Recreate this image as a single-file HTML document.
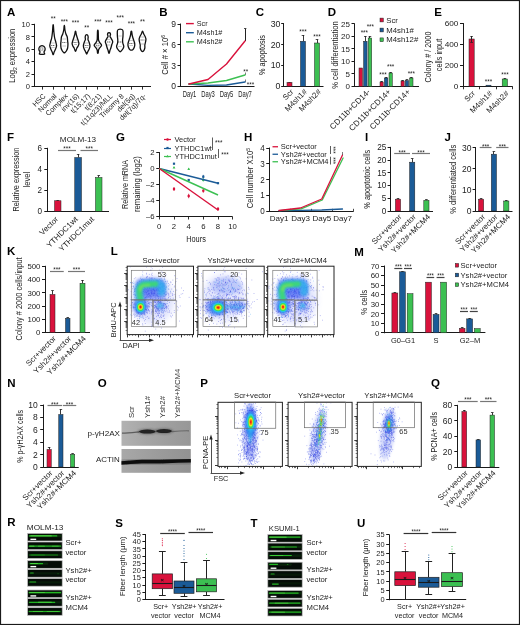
<!DOCTYPE html>
<html lang="en"><head><meta charset="utf-8"><title>Figure</title>
<style>
html,body{margin:0;padding:0;background:#fff;}
body{width:520px;height:625px;overflow:hidden;font-family:"Liberation Sans",sans-serif;}
svg{display:block;font-family:"Liberation Sans",sans-serif;}
</style></head><body>
<svg width="520" height="625" viewBox="0 0 520 625">
<rect x="0.5" y="0.5" width="519" height="624" fill="#fff" stroke="#1a1a1a" stroke-width="1.2"/>
<text transform="translate(7,16.3)" font-size="11.5" text-anchor="start" font-weight="bold" fill="#000" >A</text>
<line x1="34.5" y1="23.8" x2="34.5" y2="86.95" stroke="#1a1a1a" stroke-width="1.0" />
<line x1="31.5" y1="24.5" x2="34.5" y2="24.5" stroke="#1a1a1a" stroke-width="1.0" />
<text transform="translate(29.9,27.13) scale(0.95,1)" font-size="8" text-anchor="end" fill="#1c1c1c" >10</text>
<line x1="31.5" y1="36.5" x2="34.5" y2="36.5" stroke="#1a1a1a" stroke-width="1.0" />
<text transform="translate(29.9,39.58) scale(0.95,1)" font-size="8" text-anchor="end" fill="#1c1c1c" >8</text>
<line x1="31.5" y1="49.5" x2="34.5" y2="49.5" stroke="#1a1a1a" stroke-width="1.0" />
<text transform="translate(29.9,52.03) scale(0.95,1)" font-size="8" text-anchor="end" fill="#1c1c1c" >6</text>
<line x1="31.5" y1="61.5" x2="34.5" y2="61.5" stroke="#1a1a1a" stroke-width="1.0" />
<text transform="translate(29.9,64.48) scale(0.95,1)" font-size="8" text-anchor="end" fill="#1c1c1c" >4</text>
<line x1="31.5" y1="74.5" x2="34.5" y2="74.5" stroke="#1a1a1a" stroke-width="1.0" />
<text transform="translate(29.9,76.93) scale(0.95,1)" font-size="8" text-anchor="end" fill="#1c1c1c" >2</text>
<line x1="31.5" y1="86.5" x2="34.5" y2="86.5" stroke="#1a1a1a" stroke-width="1.0" />
<text transform="translate(29.9,89.38) scale(0.95,1)" font-size="8" text-anchor="end" fill="#1c1c1c" >0</text>
<line x1="34.05" y1="86.5" x2="151" y2="86.5" stroke="#1a1a1a" stroke-width="1.0" />
<text transform="translate(14.9,55.7) rotate(-90) scale(0.84,1)" font-size="9" text-anchor="middle" fill="#222">Log<tspan font-size="6" dy="1.6">2</tspan><tspan dy="-1.6"> expression</tspan></text>
<line x1="42.5" y1="86.5" x2="42.5" y2="89.6" stroke="#1a1a1a" stroke-width="0.9" />
<text transform="translate(46,96.6) rotate(-45) scale(0.97,1)" font-size="7.3" text-anchor="end" fill="#1c1c1c" >HSC</text>
<line x1="53.5" y1="86.5" x2="53.5" y2="89.6" stroke="#1a1a1a" stroke-width="0.9" />
<text transform="translate(57.17,96.6) rotate(-45) scale(0.97,1)" font-size="7.3" text-anchor="end" fill="#1c1c1c" >Normal</text>
<line x1="64.5" y1="86.5" x2="64.5" y2="89.6" stroke="#1a1a1a" stroke-width="0.9" />
<text transform="translate(68.34,96.6) rotate(-45) scale(0.97,1)" font-size="7.3" text-anchor="end" fill="#1c1c1c" >Complex</text>
<line x1="75.5" y1="86.5" x2="75.5" y2="89.6" stroke="#1a1a1a" stroke-width="0.9" />
<text transform="translate(79.51,96.6) rotate(-45) scale(0.97,1)" font-size="7.3" text-anchor="end" fill="#1c1c1c" >inv(16)</text>
<line x1="86.5" y1="86.5" x2="86.5" y2="89.6" stroke="#1a1a1a" stroke-width="0.9" />
<text transform="translate(90.68,96.6) rotate(-45) scale(0.97,1)" font-size="7.3" text-anchor="end" fill="#1c1c1c" >t(15;17)</text>
<line x1="97.5" y1="86.5" x2="97.5" y2="89.6" stroke="#1a1a1a" stroke-width="0.9" />
<text transform="translate(101.85,96.6) rotate(-45) scale(0.97,1)" font-size="7.3" text-anchor="end" fill="#1c1c1c" >t(8;21)</text>
<line x1="109.5" y1="86.5" x2="109.5" y2="89.6" stroke="#1a1a1a" stroke-width="0.9" />
<text transform="translate(113.02,96.6) rotate(-45) scale(0.97,1)" font-size="7.3" text-anchor="end" fill="#1c1c1c" >t(11q23)/MLL</text>
<line x1="120.5" y1="86.5" x2="120.5" y2="89.6" stroke="#1a1a1a" stroke-width="0.9" />
<text transform="translate(124.19,96.6) rotate(-45) scale(0.97,1)" font-size="7.3" text-anchor="end" fill="#1c1c1c" >Trisomy 8</text>
<line x1="131.5" y1="86.5" x2="131.5" y2="89.6" stroke="#1a1a1a" stroke-width="0.9" />
<text transform="translate(135.36,96.6) rotate(-45) scale(0.97,1)" font-size="7.3" text-anchor="end" fill="#1c1c1c" >del(5q)</text>
<line x1="142.5" y1="86.5" x2="142.5" y2="89.6" stroke="#1a1a1a" stroke-width="0.9" />
<text transform="translate(146.53,96.6) rotate(-45) scale(0.97,1)" font-size="7.3" text-anchor="end" fill="#1c1c1c" >del(7q)/7q-</text>
<path d="M41.2 45.8C40.67 45.97 39.98 46.35 39.6 46.8C39.22 47.25 38.98 47.92 38.9 48.5C38.82 49.08 38.92 49.75 39.1 50.3C39.28 50.85 39.92 51.32 40 51.8C40.08 52.28 39.65 52.8 39.6 53.2C39.55 53.6 38.92 54.03 39.7 54.2C40.48 54.37 43.52 54.37 44.3 54.2C45.08 54.03 44.45 53.6 44.4 53.2C44.35 52.8 43.92 52.28 44 51.8C44.08 51.32 44.72 50.85 44.9 50.3C45.08 49.75 45.18 49.08 45.1 48.5C45.02 47.92 44.78 47.25 44.4 46.8C44.02 46.35 43.33 45.97 42.8 45.8C42.27 45.63 41.73 45.63 41.2 45.8Z" fill="#fff" stroke="#111" stroke-width="1.3" stroke-linejoin="round"/>
<line x1="40" y1="49" x2="44" y2="49" stroke="#222" stroke-width="0.7" stroke-dasharray="1.2 0.6"/>
<line x1="40.4" y1="50.5" x2="43.6" y2="50.5" stroke="#333" stroke-width="0.55" stroke-dasharray="0.6 0.5"/>
<line x1="40.4" y1="47.5" x2="43.6" y2="47.5" stroke="#333" stroke-width="0.55" stroke-dasharray="0.6 0.5"/>
<path d="M52.97 25.5C52.82 26.58 52.69 29.92 52.47 32C52.25 34.08 51.99 36.33 51.67 38C51.35 39.67 50.89 40.72 50.57 42C50.25 43.28 49.74 44.53 49.77 45.7C49.8 46.87 50.37 47.95 50.77 49C51.17 50.05 51.8 51.1 52.17 52C52.54 52.9 52.77 54 52.97 54.4C53.17 54.8 53.17 54.8 53.37 54.4C53.57 54 53.8 52.9 54.17 52C54.54 51.1 55.17 50.05 55.57 49C55.97 47.95 56.54 46.87 56.57 45.7C56.6 44.53 56.09 43.28 55.77 42C55.45 40.72 54.99 39.67 54.67 38C54.35 36.33 54.09 34.08 53.87 32C53.65 29.92 53.52 26.58 53.37 25.5C53.22 24.42 53.12 24.42 52.97 25.5Z" fill="#fff" stroke="#111" stroke-width="1.3" stroke-linejoin="round"/>
<line x1="51.17" y1="45.5" x2="55.17" y2="45.5" stroke="#222" stroke-width="0.7" stroke-dasharray="1.2 0.6"/>
<line x1="51.57" y1="47.5" x2="54.77" y2="47.5" stroke="#333" stroke-width="0.55" stroke-dasharray="0.6 0.5"/>
<line x1="51.57" y1="43" x2="54.77" y2="43" stroke="#333" stroke-width="0.55" stroke-dasharray="0.6 0.5"/>
<path d="M64.14 26C64.01 26.67 63.97 28.67 63.74 30C63.51 31.33 63.12 32.83 62.74 34C62.36 35.17 61.72 35.83 61.44 37C61.16 38.17 61.16 39.83 61.04 41C60.92 42.17 60.74 42.83 60.74 44C60.74 45.17 60.77 46.83 61.04 48C61.31 49.17 61.87 50.23 62.34 51C62.81 51.77 63.42 52.33 63.84 52.6C64.26 52.87 64.42 52.87 64.84 52.6C65.26 52.33 65.87 51.77 66.34 51C66.81 50.23 67.37 49.17 67.64 48C67.91 46.83 67.94 45.17 67.94 44C67.94 42.83 67.76 42.17 67.64 41C67.52 39.83 67.52 38.17 67.24 37C66.96 35.83 66.32 35.17 65.94 34C65.56 32.83 65.17 31.33 64.94 30C64.71 28.67 64.67 26.67 64.54 26C64.41 25.33 64.27 25.33 64.14 26Z" fill="#fff" stroke="#111" stroke-width="1.3" stroke-linejoin="round"/>
<line x1="62.34" y1="42.5" x2="66.34" y2="42.5" stroke="#222" stroke-width="0.7" stroke-dasharray="1.2 0.6"/>
<line x1="62.74" y1="46" x2="65.94" y2="46" stroke="#333" stroke-width="0.55" stroke-dasharray="0.6 0.5"/>
<line x1="62.74" y1="39" x2="65.94" y2="39" stroke="#333" stroke-width="0.55" stroke-dasharray="0.6 0.5"/>
<path d="M75.31 31.5C75.13 32.08 74.88 33.92 74.61 35C74.34 36.08 74.03 37 73.71 38C73.39 39 72.98 40.08 72.71 41C72.44 41.92 72.09 42.67 72.11 43.5C72.13 44.33 72.48 45.25 72.81 46C73.14 46.75 73.71 47.17 74.11 48C74.51 48.83 74.93 50.5 75.21 51C75.49 51.5 75.53 51.5 75.81 51C76.09 50.5 76.51 48.83 76.91 48C77.31 47.17 77.88 46.75 78.21 46C78.54 45.25 78.89 44.33 78.91 43.5C78.93 42.67 78.58 41.92 78.31 41C78.04 40.08 77.63 39 77.31 38C76.99 37 76.68 36.08 76.41 35C76.14 33.92 75.89 32.08 75.71 31.5C75.53 30.92 75.49 30.92 75.31 31.5Z" fill="#fff" stroke="#111" stroke-width="1.3" stroke-linejoin="round"/>
<line x1="73.51" y1="42.5" x2="77.51" y2="42.5" stroke="#222" stroke-width="0.7" stroke-dasharray="1.2 0.6"/>
<line x1="73.91" y1="44.5" x2="77.11" y2="44.5" stroke="#333" stroke-width="0.55" stroke-dasharray="0.6 0.5"/>
<line x1="73.91" y1="40" x2="77.11" y2="40" stroke="#333" stroke-width="0.55" stroke-dasharray="0.6 0.5"/>
<path d="M85.88 35C85.5 35.33 85.26 36.25 85.18 37C85.1 37.75 85.51 38.67 85.38 39.5C85.25 40.33 84.71 40.97 84.38 42C84.05 43.03 83.41 44.53 83.38 45.7C83.35 46.87 83.83 48.03 84.18 49C84.53 49.97 85.1 50.72 85.48 51.5C85.86 52.28 86.25 53.33 86.48 53.7C86.71 54.07 86.65 54.07 86.88 53.7C87.11 53.33 87.5 52.28 87.88 51.5C88.26 50.72 88.83 49.97 89.18 49C89.53 48.03 90.01 46.87 89.98 45.7C89.95 44.53 89.31 43.03 88.98 42C88.65 40.97 88.11 40.33 87.98 39.5C87.85 38.67 88.26 37.75 88.18 37C88.1 36.25 87.86 35.33 87.48 35C87.1 34.67 86.26 34.67 85.88 35Z" fill="#fff" stroke="#111" stroke-width="1.3" stroke-linejoin="round"/>
<line x1="84.68" y1="45.5" x2="88.68" y2="45.5" stroke="#222" stroke-width="0.7" stroke-dasharray="1.2 0.6"/>
<line x1="85.08" y1="47.5" x2="88.28" y2="47.5" stroke="#333" stroke-width="0.55" stroke-dasharray="0.6 0.5"/>
<line x1="85.08" y1="43" x2="88.28" y2="43" stroke="#333" stroke-width="0.55" stroke-dasharray="0.6 0.5"/>
<path d="M97.55 30.9C97.42 31.75 97.42 34.48 97.35 36C97.28 37.52 97.37 38.92 97.15 40C96.93 41.08 96.55 41.62 96.05 42.5C95.55 43.38 94.15 44.38 94.15 45.3C94.15 46.22 95.55 47.22 96.05 48C96.55 48.78 96.9 49.17 97.15 50C97.4 50.83 97.38 52.5 97.55 53C97.72 53.5 97.98 53.5 98.15 53C98.32 52.5 98.3 50.83 98.55 50C98.8 49.17 99.15 48.78 99.65 48C100.15 47.22 101.55 46.22 101.55 45.3C101.55 44.38 100.15 43.38 99.65 42.5C99.15 41.62 98.77 41.08 98.55 40C98.33 38.92 98.42 37.52 98.35 36C98.28 34.48 98.28 31.75 98.15 30.9C98.02 30.05 97.68 30.05 97.55 30.9Z" fill="#fff" stroke="#111" stroke-width="1.3" stroke-linejoin="round"/>
<line x1="95.85" y1="45.3" x2="99.85" y2="45.3" stroke="#222" stroke-width="0.7" stroke-dasharray="1.2 0.6"/>
<line x1="96.25" y1="47" x2="99.45" y2="47" stroke="#333" stroke-width="0.55" stroke-dasharray="0.6 0.5"/>
<line x1="96.25" y1="43.5" x2="99.45" y2="43.5" stroke="#333" stroke-width="0.55" stroke-dasharray="0.6 0.5"/>
<path d="M108.22 32.9C107.84 33.17 107.55 33.93 107.52 34.5C107.49 35.07 108.14 35.63 108.02 36.3C107.9 36.97 107.27 37.62 106.82 38.5C106.37 39.38 105.42 40.6 105.32 41.6C105.22 42.6 105.94 43.52 106.22 44.5C106.5 45.48 106.7 46.5 107.02 47.5C107.34 48.5 107.84 49.58 108.12 50.5C108.4 51.42 108.52 52.58 108.72 53C108.92 53.42 109.12 53.42 109.32 53C109.52 52.58 109.64 51.42 109.92 50.5C110.2 49.58 110.7 48.5 111.02 47.5C111.34 46.5 111.54 45.48 111.82 44.5C112.1 43.52 112.82 42.6 112.72 41.6C112.62 40.6 111.67 39.38 111.22 38.5C110.77 37.62 110.14 36.97 110.02 36.3C109.9 35.63 110.55 35.07 110.52 34.5C110.49 33.93 110.2 33.17 109.82 32.9C109.44 32.63 108.6 32.63 108.22 32.9Z" fill="#fff" stroke="#111" stroke-width="1.3" stroke-linejoin="round"/>
<line x1="107.02" y1="42" x2="111.02" y2="42" stroke="#222" stroke-width="0.7" stroke-dasharray="1.2 0.6"/>
<line x1="107.42" y1="45" x2="110.62" y2="45" stroke="#333" stroke-width="0.55" stroke-dasharray="0.6 0.5"/>
<line x1="107.42" y1="39.5" x2="110.62" y2="39.5" stroke="#333" stroke-width="0.55" stroke-dasharray="0.6 0.5"/>
<path d="M118.39 29.5C117.62 29.75 117.56 29.92 117.39 31C117.22 32.08 117.32 34.5 117.39 36C117.46 37.5 117.76 38.83 117.79 40C117.82 41.17 117.79 41.92 117.59 43C117.39 44.08 116.59 45.5 116.59 46.5C116.59 47.5 117.07 48.17 117.59 49C118.11 49.83 119.17 51.08 119.69 51.5C120.21 51.92 120.17 51.92 120.69 51.5C121.21 51.08 122.27 49.83 122.79 49C123.31 48.17 123.79 47.5 123.79 46.5C123.79 45.5 122.99 44.08 122.79 43C122.59 41.92 122.56 41.17 122.59 40C122.62 38.83 122.92 37.5 122.99 36C123.06 34.5 123.16 32.08 122.99 31C122.82 29.92 122.76 29.75 121.99 29.5C121.22 29.25 119.16 29.25 118.39 29.5Z" fill="#fff" stroke="#111" stroke-width="1.3" stroke-linejoin="round"/>
<line x1="118.19" y1="42" x2="122.19" y2="42" stroke="#222" stroke-width="0.7" stroke-dasharray="1.2 0.6"/>
<line x1="118.59" y1="46.5" x2="121.79" y2="46.5" stroke="#333" stroke-width="0.55" stroke-dasharray="0.6 0.5"/>
<line x1="118.59" y1="36" x2="121.79" y2="36" stroke="#333" stroke-width="0.55" stroke-dasharray="0.6 0.5"/>
<path d="M131.06 31.5C130.88 32.08 130.78 33.92 130.56 35C130.34 36.08 130.06 37 129.76 38C129.46 39 129.06 40 128.76 41C128.46 42 128.03 43 127.96 44C127.89 45 128.03 46.05 128.36 47C128.69 47.95 129.23 49.25 129.96 49.7C130.69 50.15 132.03 50.15 132.76 49.7C133.49 49.25 134.03 47.95 134.36 47C134.69 46.05 134.83 45 134.76 44C134.69 43 134.26 42 133.96 41C133.66 40 133.26 39 132.96 38C132.66 37 132.38 36.08 132.16 35C131.94 33.92 131.84 32.08 131.66 31.5C131.48 30.92 131.24 30.92 131.06 31.5Z" fill="#fff" stroke="#111" stroke-width="1.3" stroke-linejoin="round"/>
<line x1="129.36" y1="43.5" x2="133.36" y2="43.5" stroke="#222" stroke-width="0.7" stroke-dasharray="1.2 0.6"/>
<line x1="129.76" y1="45.5" x2="132.96" y2="45.5" stroke="#333" stroke-width="0.55" stroke-dasharray="0.6 0.5"/>
<line x1="129.76" y1="40.5" x2="132.96" y2="40.5" stroke="#333" stroke-width="0.55" stroke-dasharray="0.6 0.5"/>
<path d="M142.23 31.5C141.98 31.92 141.71 33.17 141.33 34C140.95 34.83 140.3 35.67 139.93 36.5C139.56 37.33 139.2 38.08 139.13 39C139.06 39.92 139.35 41 139.53 42C139.71 43 140.11 44 140.23 45C140.35 46 140.01 47 140.23 48C140.45 49 140.98 50.5 141.53 51C142.08 51.5 142.98 51.5 143.53 51C144.08 50.5 144.61 49 144.83 48C145.05 47 144.71 46 144.83 45C144.95 44 145.35 43 145.53 42C145.71 41 146 39.92 145.93 39C145.86 38.08 145.5 37.33 145.13 36.5C144.76 35.67 144.11 34.83 143.73 34C143.35 33.17 143.08 31.92 142.83 31.5C142.58 31.08 142.48 31.08 142.23 31.5Z" fill="#fff" stroke="#111" stroke-width="1.3" stroke-linejoin="round"/>
<line x1="140.53" y1="40" x2="144.53" y2="40" stroke="#222" stroke-width="0.7" stroke-dasharray="1.2 0.6"/>
<line x1="140.93" y1="44" x2="144.13" y2="44" stroke="#333" stroke-width="0.55" stroke-dasharray="0.6 0.5"/>
<line x1="140.93" y1="37" x2="144.13" y2="37" stroke="#333" stroke-width="0.55" stroke-dasharray="0.6 0.5"/>
<text transform="translate(53.17,21.41) scale(0.9,1)" font-size="7" text-anchor="middle" fill="#222" >**</text>
<text transform="translate(64.34,24.01) scale(0.9,1)" font-size="7" text-anchor="middle" fill="#222" >***</text>
<text transform="translate(75.51,25.21) scale(0.9,1)" font-size="7" text-anchor="middle" fill="#222" >***</text>
<text transform="translate(86.68,30.21) scale(0.9,1)" font-size="7" text-anchor="middle" fill="#222" >**</text>
<text transform="translate(97.85,24.01) scale(0.9,1)" font-size="7" text-anchor="middle" fill="#222" >***</text>
<text transform="translate(109.02,25.21) scale(0.9,1)" font-size="7" text-anchor="middle" fill="#222" >***</text>
<text transform="translate(120.19,20.31) scale(0.9,1)" font-size="7" text-anchor="middle" fill="#222" >***</text>
<text transform="translate(131.36,25.71) scale(0.9,1)" font-size="7" text-anchor="middle" fill="#222" >***</text>
<text transform="translate(142.53,23.81) scale(0.9,1)" font-size="7" text-anchor="middle" fill="#222" >**</text>
<text transform="translate(159.3,16.3)" font-size="11.5" text-anchor="start" font-weight="bold" fill="#000" >B</text>
<line x1="180.5" y1="23.55" x2="180.5" y2="86.45" stroke="#1a1a1a" stroke-width="1.0" />
<line x1="177.5" y1="24.5" x2="180.5" y2="24.5" stroke="#1a1a1a" stroke-width="1.0" />
<text transform="translate(175.9,27.24) scale(0.95,1)" font-size="9" text-anchor="end" fill="#1c1c1c" >9</text>
<line x1="177.5" y1="44.5" x2="180.5" y2="44.5" stroke="#1a1a1a" stroke-width="1.0" />
<text transform="translate(175.9,47.84) scale(0.95,1)" font-size="9" text-anchor="end" fill="#1c1c1c" >6</text>
<line x1="177.5" y1="65.5" x2="180.5" y2="65.5" stroke="#1a1a1a" stroke-width="1.0" />
<text transform="translate(175.9,68.54) scale(0.95,1)" font-size="9" text-anchor="end" fill="#1c1c1c" >3</text>
<line x1="177.5" y1="86.5" x2="180.5" y2="86.5" stroke="#1a1a1a" stroke-width="1.0" />
<text transform="translate(175.9,89.24) scale(0.95,1)" font-size="9" text-anchor="end" fill="#1c1c1c" >0</text>
<line x1="180.05" y1="86.5" x2="254.5" y2="86.5" stroke="#1a1a1a" stroke-width="1.0" />
<text transform="translate(167.8,54.8) rotate(-90) scale(0.86,1)" font-size="9" text-anchor="middle" fill="#222">Cell # × 10<tspan font-size="6" dy="-3">6</tspan></text>
<text transform="translate(189.5,96.5) scale(0.68,1)" font-size="8.6" text-anchor="middle" fill="#1c1c1c" >Day1</text>
<text transform="translate(208,96.5) scale(0.68,1)" font-size="8.6" text-anchor="middle" fill="#1c1c1c" >Day3</text>
<text transform="translate(226.5,96.5) scale(0.68,1)" font-size="8.6" text-anchor="middle" fill="#1c1c1c" >Day5</text>
<text transform="translate(245,96.5) scale(0.68,1)" font-size="8.6" text-anchor="middle" fill="#1c1c1c" >Day7</text>
<line x1="245.5" y1="28.7" x2="245.5" y2="41" stroke="#222" stroke-width="1.0" />
<line x1="244" y1="28.5" x2="246.4" y2="28.5" stroke="#222" stroke-width="0.8" />
<line x1="245.5" y1="72.5" x2="245.5" y2="75" stroke="#444" stroke-width="0.7" />
<line x1="245.5" y1="79.5" x2="245.5" y2="82" stroke="#444" stroke-width="0.7" />
<polyline points="189,84 208,85.4 226.5,85 245,82" fill="none" stroke="#1b5b97" stroke-width="1.4" stroke-linejoin="round" stroke-linecap="round"/>
<polyline points="189,84 208,83 226.5,80.5 245,75" fill="none" stroke="#3cc052" stroke-width="1.4" stroke-linejoin="round" stroke-linecap="round"/>
<polyline points="189,84 208,79.5 226.5,64 245,41" fill="none" stroke="#d9123c" stroke-width="1.4" stroke-linejoin="round" stroke-linecap="round"/>
<text transform="translate(245.8,74.31) scale(0.9,1)" font-size="7" text-anchor="middle" fill="#222" >**</text>
<text transform="translate(250.5,87.31) scale(0.9,1)" font-size="7" text-anchor="middle" fill="#222" >***</text>
<line x1="186" y1="23.6" x2="193.8" y2="23.6" stroke="#d9123c" stroke-width="1.4" />
<text transform="translate(196.8,26.19)" font-size="7.2" text-anchor="start" fill="#1c1c1c" >Scr</text>
<line x1="186" y1="32.7" x2="193.8" y2="32.7" stroke="#1b5b97" stroke-width="1.4" />
<text transform="translate(196.8,35.29)" font-size="7.2" text-anchor="start" fill="#1c1c1c" >M4sh1#</text>
<line x1="186" y1="41.8" x2="193.8" y2="41.8" stroke="#3cc052" stroke-width="1.4" />
<text transform="translate(196.8,44.39)" font-size="7.2" text-anchor="start" fill="#1c1c1c" >M4sh2#</text>
<text transform="translate(255.8,16.3)" font-size="11.5" text-anchor="start" font-weight="bold" fill="#000" >C</text>
<line x1="283.5" y1="23.05" x2="283.5" y2="86.7" stroke="#1a1a1a" stroke-width="1.0" />
<line x1="281.2" y1="23.5" x2="283.4" y2="23.5" stroke="#1a1a1a" stroke-width="1.0" />
<text transform="translate(280.4,26.6) scale(1.02,1)" font-size="8.6" text-anchor="end" fill="#1c1c1c" >30</text>
<line x1="281.2" y1="44.5" x2="283.4" y2="44.5" stroke="#1a1a1a" stroke-width="1.0" />
<text transform="translate(280.4,47.5) scale(1.02,1)" font-size="8.6" text-anchor="end" fill="#1c1c1c" >20</text>
<line x1="281.2" y1="65.5" x2="283.4" y2="65.5" stroke="#1a1a1a" stroke-width="1.0" />
<text transform="translate(280.4,68.4) scale(1.02,1)" font-size="8.6" text-anchor="end" fill="#1c1c1c" >10</text>
<line x1="281.2" y1="86.5" x2="283.4" y2="86.5" stroke="#1a1a1a" stroke-width="1.0" />
<text transform="translate(280.4,89.35) scale(1.02,1)" font-size="8.6" text-anchor="end" fill="#1c1c1c" >0</text>
<line x1="282.95" y1="86.5" x2="323.5" y2="86.5" stroke="#1a1a1a" stroke-width="1.0" />
<text transform="translate(265.44,55) rotate(-90) scale(0.816,1)" font-size="9" text-anchor="middle" fill="#1c1c1c" >% apoptosis</text>
<line x1="289.5" y1="82" x2="289.5" y2="82.5" stroke="#222" stroke-width="0.9" />
<line x1="288.2" y1="82.5" x2="290.8" y2="82.5" stroke="#222" stroke-width="0.8" />
<rect x="287" y="82.5" width="5" height="3.75" fill="#d9123c" stroke="#222" stroke-width="0.5" />
<line x1="303.5" y1="35" x2="303.5" y2="41.25" stroke="#222" stroke-width="0.9" />
<line x1="301.7" y1="35.5" x2="304.3" y2="35.5" stroke="#222" stroke-width="0.8" />
<rect x="300.5" y="41.25" width="5" height="45" fill="#1b5b97" stroke="#222" stroke-width="0.5" />
<line x1="317.5" y1="39.5" x2="317.5" y2="43" stroke="#222" stroke-width="0.9" />
<line x1="315.7" y1="39.5" x2="318.3" y2="39.5" stroke="#222" stroke-width="0.8" />
<rect x="314.5" y="43" width="5" height="43.25" fill="#3cc052" stroke="#222" stroke-width="0.5" />
<text transform="translate(303,33.51) scale(0.9,1)" font-size="7" text-anchor="middle" fill="#222" >***</text>
<text transform="translate(317,39.01) scale(0.9,1)" font-size="7" text-anchor="middle" fill="#222" >***</text>
<text transform="translate(294,92.3) rotate(-45)" font-size="7.8" text-anchor="end" fill="#1c1c1c" >Scr</text>
<text transform="translate(307.5,92.3) rotate(-45)" font-size="7.8" text-anchor="end" fill="#1c1c1c" >M4sh1#</text>
<text transform="translate(321.5,92.3) rotate(-45)" font-size="7.8" text-anchor="end" fill="#1c1c1c" >M4sh2#</text>
<text transform="translate(327.8,16.3)" font-size="11.5" text-anchor="start" font-weight="bold" fill="#000" >D</text>
<line x1="354.5" y1="23.3" x2="354.5" y2="86.95" stroke="#1a1a1a" stroke-width="1.0" />
<line x1="351.5" y1="23.5" x2="354.5" y2="23.5" stroke="#1a1a1a" stroke-width="1.0" />
<text transform="translate(349.9,26.63)" font-size="8" text-anchor="end" fill="#1c1c1c" >25</text>
<line x1="351.5" y1="36.5" x2="354.5" y2="36.5" stroke="#1a1a1a" stroke-width="1.0" />
<text transform="translate(349.9,39.18)" font-size="8" text-anchor="end" fill="#1c1c1c" >20</text>
<line x1="351.5" y1="48.5" x2="354.5" y2="48.5" stroke="#1a1a1a" stroke-width="1.0" />
<text transform="translate(349.9,51.73)" font-size="8" text-anchor="end" fill="#1c1c1c" >15</text>
<line x1="351.5" y1="61.5" x2="354.5" y2="61.5" stroke="#1a1a1a" stroke-width="1.0" />
<text transform="translate(349.9,64.28)" font-size="8" text-anchor="end" fill="#1c1c1c" >10</text>
<line x1="351.5" y1="73.5" x2="354.5" y2="73.5" stroke="#1a1a1a" stroke-width="1.0" />
<text transform="translate(349.9,76.83)" font-size="8" text-anchor="end" fill="#1c1c1c" >5</text>
<line x1="351.5" y1="86.5" x2="354.5" y2="86.5" stroke="#1a1a1a" stroke-width="1.0" />
<text transform="translate(349.9,89.38)" font-size="8" text-anchor="end" fill="#1c1c1c" >0</text>
<line x1="354.05" y1="86.5" x2="419" y2="86.5" stroke="#1a1a1a" stroke-width="1.0" />
<text transform="translate(337.54,55) rotate(-90) scale(0.84,1)" font-size="9" text-anchor="middle" fill="#1c1c1c" >% cell differentiation</text>
<rect x="359" y="68" width="3.5" height="18.5" fill="#d9123c" stroke="#222" stroke-width="0.5" />
<line x1="365.5" y1="36" x2="365.5" y2="41.25" stroke="#222" stroke-width="0.9" />
<line x1="364.05" y1="36.5" x2="366.65" y2="36.5" stroke="#222" stroke-width="0.8" />
<rect x="363.6" y="41.25" width="3.5" height="45.25" fill="#1b5b97" stroke="#222" stroke-width="0.5" />
<line x1="369.5" y1="36.2" x2="369.5" y2="38" stroke="#222" stroke-width="0.9" />
<line x1="368.65" y1="36.5" x2="371.25" y2="36.5" stroke="#222" stroke-width="0.8" />
<rect x="368.2" y="38" width="3.5" height="48.5" fill="#3cc052" stroke="#222" stroke-width="0.5" />
<line x1="381.5" y1="81.3" x2="381.5" y2="82" stroke="#222" stroke-width="0.9" />
<line x1="380.3" y1="81.5" x2="382.9" y2="81.5" stroke="#222" stroke-width="0.8" />
<rect x="380" y="82" width="3.2" height="4.5" fill="#d9123c" stroke="#222" stroke-width="0.5" />
<line x1="386.5" y1="77.2" x2="386.5" y2="78" stroke="#222" stroke-width="0.9" />
<line x1="384.8" y1="77.5" x2="387.4" y2="77.5" stroke="#222" stroke-width="0.8" />
<rect x="384.4" y="78" width="3.4" height="8.5" fill="#1b5b97" stroke="#222" stroke-width="0.5" />
<line x1="390.5" y1="72.3" x2="390.5" y2="73" stroke="#222" stroke-width="0.9" />
<line x1="389.35" y1="72.5" x2="391.95" y2="72.5" stroke="#222" stroke-width="0.8" />
<rect x="389" y="73" width="3.3" height="13.5" fill="#3cc052" stroke="#222" stroke-width="0.5" />
<line x1="402.5" y1="80.3" x2="402.5" y2="81" stroke="#222" stroke-width="0.9" />
<line x1="401.3" y1="80.5" x2="403.9" y2="80.5" stroke="#222" stroke-width="0.8" />
<rect x="401" y="81" width="3.2" height="5.5" fill="#d9123c" stroke="#222" stroke-width="0.5" />
<line x1="406.5" y1="79.8" x2="406.5" y2="80.5" stroke="#222" stroke-width="0.9" />
<line x1="405.65" y1="79.5" x2="408.25" y2="79.5" stroke="#222" stroke-width="0.8" />
<rect x="405.3" y="80.5" width="3.3" height="6" fill="#1b5b97" stroke="#222" stroke-width="0.5" />
<line x1="411.5" y1="77.2" x2="411.5" y2="78" stroke="#222" stroke-width="0.9" />
<line x1="410.05" y1="77.5" x2="412.65" y2="77.5" stroke="#222" stroke-width="0.8" />
<rect x="409.7" y="78" width="3.3" height="8.5" fill="#3cc052" stroke="#222" stroke-width="0.5" />
<text transform="translate(364.3,35.01) scale(0.9,1)" font-size="7" text-anchor="middle" fill="#222" >***</text>
<text transform="translate(370.3,29.01) scale(0.9,1)" font-size="7" text-anchor="middle" fill="#222" >***</text>
<text transform="translate(383,77.01) scale(0.9,1)" font-size="7" text-anchor="middle" fill="#222" >***</text>
<text transform="translate(390.6,69.01) scale(0.9,1)" font-size="7" text-anchor="middle" fill="#222" >***</text>
<text transform="translate(411.3,75.51) scale(0.9,1)" font-size="7" text-anchor="middle" fill="#222" >***</text>
<rect x="380" y="18.1" width="3.3" height="3.8" fill="#d9123c" stroke="#222" stroke-width="0.5" />
<text transform="translate(386.3,22.59) scale(1.08,1)" font-size="7.2" text-anchor="start" fill="#1c1c1c" >Scr</text>
<rect x="380" y="28.1" width="3.3" height="3.8" fill="#1b5b97" stroke="#222" stroke-width="0.5" />
<text transform="translate(386.3,32.59) scale(1.08,1)" font-size="7.2" text-anchor="start" fill="#1c1c1c" >M4sh1#</text>
<rect x="380" y="37.9" width="3.3" height="3.8" fill="#3cc052" stroke="#222" stroke-width="0.5" />
<text transform="translate(386.3,42.39) scale(1.08,1)" font-size="7.2" text-anchor="start" fill="#1c1c1c" >M4sh12#</text>
<text transform="translate(370.8,92.3) rotate(-45)" font-size="8.2" text-anchor="end" fill="#1c1c1c" >CD11b+CD14-</text>
<text transform="translate(391.5,92.3) rotate(-45)" font-size="8.2" text-anchor="end" fill="#1c1c1c" >CD11b+CD14+</text>
<text transform="translate(410.8,92.3) rotate(-45)" font-size="8.2" text-anchor="end" fill="#1c1c1c" >CD11b-CD14+</text>
<text transform="translate(434.3,16.3)" font-size="11.5" text-anchor="start" font-weight="bold" fill="#000" >E</text>
<line x1="463.5" y1="23.05" x2="463.5" y2="86.7" stroke="#1a1a1a" stroke-width="1.0" />
<line x1="460" y1="23.5" x2="463" y2="23.5" stroke="#1a1a1a" stroke-width="1.0" />
<text transform="translate(458.4,26.38) scale(1.03,1)" font-size="8" text-anchor="end" fill="#1c1c1c" >600</text>
<line x1="460" y1="44.5" x2="463" y2="44.5" stroke="#1a1a1a" stroke-width="1.0" />
<text transform="translate(458.4,47.28) scale(1.03,1)" font-size="8" text-anchor="end" fill="#1c1c1c" >400</text>
<line x1="460" y1="65.5" x2="463" y2="65.5" stroke="#1a1a1a" stroke-width="1.0" />
<text transform="translate(458.4,68.18) scale(1.03,1)" font-size="8" text-anchor="end" fill="#1c1c1c" >200</text>
<line x1="460" y1="86.5" x2="463" y2="86.5" stroke="#1a1a1a" stroke-width="1.0" />
<text transform="translate(458.4,89.13) scale(1.03,1)" font-size="8" text-anchor="end" fill="#1c1c1c" >0</text>
<line x1="462.55" y1="86.5" x2="512.5" y2="86.5" stroke="#1a1a1a" stroke-width="1.0" />
<line x1="463.5" y1="86.25" x2="463.5" y2="89.3" stroke="#1a1a1a" stroke-width="0.9" />
<line x1="479.5" y1="86.25" x2="479.5" y2="89.3" stroke="#1a1a1a" stroke-width="0.9" />
<line x1="496.5" y1="86.25" x2="496.5" y2="89.3" stroke="#1a1a1a" stroke-width="0.9" />
<line x1="512.5" y1="86.25" x2="512.5" y2="89.3" stroke="#1a1a1a" stroke-width="0.9" />
<text transform="translate(430.54,57) rotate(-90) scale(0.809,1)" font-size="9" text-anchor="middle" fill="#1c1c1c" >Colony # / 2000</text>
<text transform="translate(442.24,55) rotate(-90) scale(0.812,1)" font-size="9" text-anchor="middle" fill="#1c1c1c" >cells input</text>
<line x1="471.5" y1="36" x2="471.5" y2="39" stroke="#222" stroke-width="0.9" />
<line x1="470.3" y1="36.5" x2="472.9" y2="36.5" stroke="#222" stroke-width="0.8" />
<rect x="469" y="39" width="5.2" height="47.25" fill="#d9123c" stroke="#222" stroke-width="0.5" />
<rect x="486" y="85.2" width="5" height="1.05" fill="#1b5b97" stroke="#222" stroke-width="0.5" />
<line x1="504.5" y1="78.4" x2="504.5" y2="79" stroke="#222" stroke-width="0.9" />
<line x1="503.55" y1="78.5" x2="506.15" y2="78.5" stroke="#222" stroke-width="0.8" />
<rect x="502.2" y="79" width="5.3" height="7.25" fill="#3cc052" stroke="#222" stroke-width="0.5" />
<text transform="translate(488.5,83.51) scale(0.9,1)" font-size="7" text-anchor="middle" fill="#222" >***</text>
<text transform="translate(505,77.01) scale(0.9,1)" font-size="7" text-anchor="middle" fill="#222" >***</text>
<line x1="471.5" y1="36" x2="471.5" y2="42" stroke="#222" stroke-width="0.9" />
<line x1="470.3" y1="42.5" x2="472.9" y2="42.5" stroke="#222" stroke-width="0.8" />
<text transform="translate(475.7,94) rotate(-45)" font-size="7.8" text-anchor="end" fill="#1c1c1c" >Scr</text>
<text transform="translate(492.7,94) rotate(-45)" font-size="7.8" text-anchor="end" fill="#1c1c1c" >M4sh1#</text>
<text transform="translate(509.2,94) rotate(-45)" font-size="7.8" text-anchor="end" fill="#1c1c1c" >M4sh2#</text>
<text transform="translate(7,141.3)" font-size="11.5" text-anchor="start" font-weight="bold" fill="#000" >F</text>
<text transform="translate(78,141.88) scale(1.02,1)" font-size="8" text-anchor="middle" fill="#1c1c1c" >MOLM-13</text>
<line x1="47.5" y1="147.8" x2="47.5" y2="211.7" stroke="#1a1a1a" stroke-width="1.0" />
<line x1="44.3" y1="148.5" x2="47.3" y2="148.5" stroke="#1a1a1a" stroke-width="1.0" />
<text transform="translate(42,151.35) scale(0.95,1)" font-size="8.6" text-anchor="end" fill="#1c1c1c" >6</text>
<line x1="44.3" y1="169.5" x2="47.3" y2="169.5" stroke="#1a1a1a" stroke-width="1.0" />
<text transform="translate(42,172.35) scale(0.95,1)" font-size="8.6" text-anchor="end" fill="#1c1c1c" >4</text>
<line x1="44.3" y1="190.5" x2="47.3" y2="190.5" stroke="#1a1a1a" stroke-width="1.0" />
<text transform="translate(42,193.35) scale(0.95,1)" font-size="8.6" text-anchor="end" fill="#1c1c1c" >2</text>
<line x1="44.3" y1="211.5" x2="47.3" y2="211.5" stroke="#1a1a1a" stroke-width="1.0" />
<text transform="translate(42,214.35) scale(0.95,1)" font-size="8.6" text-anchor="end" fill="#1c1c1c" >0</text>
<line x1="46.85" y1="211.5" x2="109" y2="211.5" stroke="#1a1a1a" stroke-width="1.0" />
<text transform="translate(18.94,179.6) rotate(-90) scale(0.815,1)" font-size="9" text-anchor="middle" fill="#1c1c1c" >Relative expression</text>
<text transform="translate(30.24,179.6) rotate(-90) scale(0.864,1)" font-size="9" text-anchor="middle" fill="#1c1c1c" >level</text>
<line x1="57.5" y1="200" x2="57.5" y2="200.75" stroke="#222" stroke-width="0.9" />
<line x1="56.45" y1="200.5" x2="59.05" y2="200.5" stroke="#222" stroke-width="0.8" />
<rect x="54.5" y="200.75" width="6.5" height="10.5" fill="#d9123c" stroke="#222" stroke-width="0.5" />
<line x1="78.5" y1="154" x2="78.5" y2="157.5" stroke="#222" stroke-width="0.9" />
<line x1="76.83" y1="154.5" x2="79.42" y2="154.5" stroke="#222" stroke-width="0.8" />
<rect x="74.75" y="157.5" width="6.75" height="53.75" fill="#1b5b97" stroke="#222" stroke-width="0.5" />
<line x1="98.5" y1="175.5" x2="98.5" y2="177.5" stroke="#222" stroke-width="0.9" />
<line x1="97.45" y1="175.5" x2="100.05" y2="175.5" stroke="#222" stroke-width="0.8" />
<rect x="95.5" y="177.5" width="6.5" height="33.75" fill="#3cc052" stroke="#222" stroke-width="0.5" />
<line x1="58" y1="150.5" x2="76" y2="150.5" stroke="#777" stroke-width="1.2" />
<text transform="translate(67,151.31) scale(0.9,1)" font-size="7" text-anchor="middle" fill="#222" >***</text>
<line x1="80.5" y1="150.5" x2="98" y2="150.5" stroke="#777" stroke-width="1.2" />
<text transform="translate(89.25,151.31) scale(0.9,1)" font-size="7" text-anchor="middle" fill="#222" >***</text>
<text transform="translate(58.75,219.6) rotate(-45) scale(1.04,1)" font-size="7.8" text-anchor="end" fill="#1c1c1c" >Vector</text>
<text transform="translate(78.4,219.6) rotate(-45) scale(1.04,1)" font-size="7.8" text-anchor="end" fill="#1c1c1c" >YTHDC1wt</text>
<text transform="translate(94.5,219.6) rotate(-45) scale(1.04,1)" font-size="7.8" text-anchor="end" fill="#1c1c1c" >YTHDC1mut</text>
<text transform="translate(116,141.3)" font-size="11.5" text-anchor="start" font-weight="bold" fill="#000" >G</text>
<line x1="159.5" y1="152.05" x2="159.5" y2="216.95" stroke="#1a1a1a" stroke-width="1.0" />
<line x1="156.25" y1="152.5" x2="159.25" y2="152.5" stroke="#1a1a1a" stroke-width="1.0" />
<text transform="translate(154.65,155.38) scale(0.97,1)" font-size="8" text-anchor="end" fill="#1c1c1c" >2</text>
<line x1="156.25" y1="168.5" x2="159.25" y2="168.5" stroke="#1a1a1a" stroke-width="1.0" />
<text transform="translate(154.65,171.38) scale(0.97,1)" font-size="8" text-anchor="end" fill="#1c1c1c" >0</text>
<line x1="156.25" y1="184.5" x2="159.25" y2="184.5" stroke="#1a1a1a" stroke-width="1.0" />
<text transform="translate(154.65,187.38) scale(0.97,1)" font-size="8" text-anchor="end" fill="#1c1c1c" >–2</text>
<line x1="156.25" y1="200.5" x2="159.25" y2="200.5" stroke="#1a1a1a" stroke-width="1.0" />
<text transform="translate(154.65,203.38) scale(0.97,1)" font-size="8" text-anchor="end" fill="#1c1c1c" >–4</text>
<line x1="156.25" y1="216.5" x2="159.25" y2="216.5" stroke="#1a1a1a" stroke-width="1.0" />
<text transform="translate(154.65,219.38) scale(0.97,1)" font-size="8" text-anchor="end" fill="#1c1c1c" >–6</text>
<line x1="158.8" y1="216.5" x2="232.5" y2="216.5" stroke="#1a1a1a" stroke-width="1.0" />
<line x1="159.5" y1="216.5" x2="159.5" y2="219.5" stroke="#1a1a1a" stroke-width="0.9" />
<text transform="translate(159.25,228.88) scale(0.97,1)" font-size="8" text-anchor="middle" fill="#1c1c1c" >0</text>
<line x1="174.5" y1="216.5" x2="174.5" y2="219.5" stroke="#1a1a1a" stroke-width="0.9" />
<text transform="translate(174,228.88) scale(0.97,1)" font-size="8" text-anchor="middle" fill="#1c1c1c" >2</text>
<line x1="188.5" y1="216.5" x2="188.5" y2="219.5" stroke="#1a1a1a" stroke-width="0.9" />
<text transform="translate(188.7,228.88) scale(0.97,1)" font-size="8" text-anchor="middle" fill="#1c1c1c" >4</text>
<line x1="203.5" y1="216.5" x2="203.5" y2="219.5" stroke="#1a1a1a" stroke-width="0.9" />
<text transform="translate(203.3,228.88) scale(0.97,1)" font-size="8" text-anchor="middle" fill="#1c1c1c" >6</text>
<line x1="218.5" y1="216.5" x2="218.5" y2="219.5" stroke="#1a1a1a" stroke-width="0.9" />
<text transform="translate(218,228.88) scale(0.97,1)" font-size="8" text-anchor="middle" fill="#1c1c1c" >8</text>
<line x1="232.5" y1="216.5" x2="232.5" y2="219.5" stroke="#1a1a1a" stroke-width="0.9" />
<text transform="translate(232.5,228.88) scale(0.97,1)" font-size="8" text-anchor="middle" fill="#1c1c1c" >10</text>
<text transform="translate(196,241.54) scale(0.82,1)" font-size="9" text-anchor="middle" fill="#1c1c1c" >Hours</text>
<text transform="translate(127.54,184.5) rotate(-90) scale(0.797,1)" font-size="9" text-anchor="middle" fill="#1c1c1c" >Relative mRNA</text>
<text transform="translate(139.54,184.2) rotate(-90) scale(0.861,1)" font-size="9" text-anchor="middle" fill="#1c1c1c" >remaining (log2)</text>
<line x1="174" y1="187" x2="174" y2="191" stroke="#d9123c" stroke-width="0.9" />
<circle cx="174" cy="189" r="1.25" fill="#d9123c"/>
<line x1="188.7" y1="193.8" x2="188.7" y2="198.2" stroke="#d9123c" stroke-width="0.9" />
<circle cx="188.7" cy="196" r="1.25" fill="#d9123c"/>
<line x1="203.3" y1="188.7" x2="203.3" y2="192.7" stroke="#d9123c" stroke-width="0.9" />
<circle cx="203.3" cy="190.7" r="1.25" fill="#d9123c"/>
<line x1="218" y1="207" x2="218" y2="211" stroke="#d9123c" stroke-width="0.9" />
<circle cx="218" cy="209" r="1.25" fill="#d9123c"/>
<line x1="174" y1="163.2" x2="174" y2="164.2" stroke="#1b5b97" stroke-width="0.9" />
<rect x="172.9" y="162.6" width="2.2" height="2.2" fill="#1b5b97"/>
<line x1="188.7" y1="179.2" x2="188.7" y2="180.8" stroke="#1b5b97" stroke-width="0.9" />
<rect x="187.6" y="178.9" width="2.2" height="2.2" fill="#1b5b97"/>
<line x1="203.3" y1="174.9" x2="203.3" y2="178.5" stroke="#1b5b97" stroke-width="0.9" />
<rect x="202.2" y="175.6" width="2.2" height="2.2" fill="#1b5b97"/>
<line x1="218" y1="182.4" x2="218" y2="184" stroke="#1b5b97" stroke-width="0.9" />
<rect x="216.9" y="182.1" width="2.2" height="2.2" fill="#1b5b97"/>
<line x1="174" y1="166.9" x2="174" y2="168.1" stroke="#3cc052" stroke-width="0.9" />
<path d="M174 166L175.4 168.5L172.6 168.5Z" fill="#3cc052"/>
<line x1="188.7" y1="168.2" x2="188.7" y2="169.8" stroke="#3cc052" stroke-width="0.9" />
<path d="M188.7 167.5L190.1 170L187.3 170Z" fill="#3cc052"/>
<line x1="203.3" y1="178.5" x2="203.3" y2="181.5" stroke="#3cc052" stroke-width="0.9" />
<path d="M203.3 178.5L204.7 181L201.9 181Z" fill="#3cc052"/>
<line x1="159.25" y1="168.5" x2="218" y2="183.2" stroke="#1b5b97" stroke-width="1.4" />
<line x1="159.25" y1="168.5" x2="218" y2="195" stroke="#3cc052" stroke-width="1.4" />
<line x1="159.25" y1="168.5" x2="218" y2="210" stroke="#d9123c" stroke-width="1.4" />
<line x1="164" y1="139.5" x2="171" y2="139.5" stroke="#d9123c" stroke-width="1.2" />
<circle cx="167.5" cy="139.5" r="1.25" fill="#d9123c"/>
<text transform="translate(174.5,142.09) scale(1.04,1)" font-size="7.2" text-anchor="start" fill="#1c1c1c" >Vector</text>
<line x1="164" y1="148.5" x2="171" y2="148.5" stroke="#1b5b97" stroke-width="1.2" />
<rect x="166.4" y="146.9" width="2.2" height="2.2" fill="#1b5b97"/>
<text transform="translate(174.5,150.59) scale(1.04,1)" font-size="7.2" text-anchor="start" fill="#1c1c1c" >YTHDC1wt</text>
<line x1="164" y1="156.5" x2="171" y2="156.5" stroke="#3cc052" stroke-width="1.2" />
<path d="M167.5 154.8L168.9 157.3L166.1 157.3Z" fill="#3cc052"/>
<text transform="translate(174.5,158.89) scale(1.04,1)" font-size="7.2" text-anchor="start" fill="#1c1c1c" >YTHDC1mut</text>
<line x1="212.5" y1="137.5" x2="212.5" y2="150" stroke="#333" stroke-width="0.8" />
<text transform="translate(218.7,145.21) scale(0.9,1)" font-size="7" text-anchor="middle" fill="#222" >***</text>
<line x1="218.5" y1="149" x2="218.5" y2="158" stroke="#333" stroke-width="0.8" />
<text transform="translate(225,157.21) scale(0.9,1)" font-size="7" text-anchor="middle" fill="#222" >***</text>
<text transform="translate(244,141.3)" font-size="11.5" text-anchor="start" font-weight="bold" fill="#000" >H</text>
<line x1="269.5" y1="147.55" x2="269.5" y2="211.45" stroke="#1a1a1a" stroke-width="1.0" />
<line x1="266.25" y1="148.5" x2="269.25" y2="148.5" stroke="#1a1a1a" stroke-width="1.0" />
<text transform="translate(264.65,151.06) scale(0.95,1)" font-size="8.5" text-anchor="end" fill="#1c1c1c" >4</text>
<line x1="266.25" y1="163.5" x2="269.25" y2="163.5" stroke="#1a1a1a" stroke-width="1.0" />
<text transform="translate(264.65,166.81) scale(0.95,1)" font-size="8.5" text-anchor="end" fill="#1c1c1c" >3</text>
<line x1="266.25" y1="179.5" x2="269.25" y2="179.5" stroke="#1a1a1a" stroke-width="1.0" />
<text transform="translate(264.65,182.56) scale(0.95,1)" font-size="8.5" text-anchor="end" fill="#1c1c1c" >2</text>
<line x1="266.25" y1="195.5" x2="269.25" y2="195.5" stroke="#1a1a1a" stroke-width="1.0" />
<text transform="translate(264.65,198.31) scale(0.95,1)" font-size="8.5" text-anchor="end" fill="#1c1c1c" >1</text>
<line x1="266.25" y1="211.5" x2="269.25" y2="211.5" stroke="#1a1a1a" stroke-width="1.0" />
<text transform="translate(264.65,214.06) scale(0.95,1)" font-size="8.5" text-anchor="end" fill="#1c1c1c" >0</text>
<line x1="268.8" y1="211.5" x2="353.75" y2="211.5" stroke="#1a1a1a" stroke-width="1.0" />
<line x1="290.5" y1="211" x2="290.5" y2="208.8" stroke="#1a1a1a" stroke-width="0.8" />
<line x1="311.5" y1="211" x2="311.5" y2="208.8" stroke="#1a1a1a" stroke-width="0.8" />
<line x1="332.5" y1="211" x2="332.5" y2="208.8" stroke="#1a1a1a" stroke-width="0.8" />
<line x1="353.5" y1="211" x2="353.5" y2="208.8" stroke="#1a1a1a" stroke-width="0.8" />
<text transform="translate(253.3,178) rotate(-90) scale(0.861,1)" font-size="9" text-anchor="middle" fill="#222">Cell number X10<tspan font-size="6" dy="-3">5</tspan></text>
<text transform="translate(279,221.01) scale(1.03,1)" font-size="7.8" text-anchor="middle" fill="#1c1c1c" >Day1</text>
<text transform="translate(300.5,221.01) scale(1.03,1)" font-size="7.8" text-anchor="middle" fill="#1c1c1c" >Day3</text>
<text transform="translate(321.75,221.01) scale(1.03,1)" font-size="7.8" text-anchor="middle" fill="#1c1c1c" >Day5</text>
<text transform="translate(342.7,221.01) scale(1.03,1)" font-size="7.8" text-anchor="middle" fill="#1c1c1c" >Day7</text>
<polyline points="279,210.6 300.5,210.4 321.75,210 342.5,209" fill="none" stroke="#1b5b97" stroke-width="1.3" stroke-linejoin="round" stroke-linecap="round"/>
<polyline points="279.6,210.7 301.1,208.8 322.3,200 343.1,158" fill="none" stroke="#3cc052" stroke-width="1.3" stroke-linejoin="round" stroke-linecap="round"/>
<polyline points="279,210.5 300.5,208 321.75,199 342.5,155" fill="none" stroke="#d9123c" stroke-width="1.3" stroke-linejoin="round" stroke-linecap="round"/>
<line x1="342.5" y1="152" x2="342.5" y2="155" stroke="#444" stroke-width="0.7" />
<line x1="272.5" y1="146.75" x2="278" y2="146.75" stroke="#d9123c" stroke-width="1.3" />
<text transform="translate(280.7,149.38) scale(1.03,1)" font-size="7.3" text-anchor="start" fill="#1c1c1c" >Scr+vector</text>
<line x1="272.5" y1="154.25" x2="278" y2="154.25" stroke="#1b5b97" stroke-width="1.3" />
<text transform="translate(280.7,156.88) scale(1.03,1)" font-size="7.3" text-anchor="start" fill="#1c1c1c" >Ysh2#+vector</text>
<line x1="272.5" y1="161.75" x2="278" y2="161.75" stroke="#3cc052" stroke-width="1.3" />
<text transform="translate(280.7,164.38) scale(1.03,1)" font-size="7.3" text-anchor="start" fill="#1c1c1c" >Ysh2#+MCM4</text>
<line x1="330.5" y1="146" x2="330.5" y2="154" stroke="#333" stroke-width="0.8" />
<text transform="translate(330.95,150) rotate(90) scale(0.9,1)" font-size="6.5" text-anchor="middle" fill="#222" >***</text>
<line x1="330.5" y1="156.7" x2="330.5" y2="164.5" stroke="#333" stroke-width="0.8" />
<text transform="translate(330.95,160.6) rotate(90) scale(0.9,1)" font-size="6.5" text-anchor="middle" fill="#222" >***</text>
<text transform="translate(365,141.3)" font-size="11.5" text-anchor="start" font-weight="bold" fill="#000" >I</text>
<line x1="390.5" y1="146.85" x2="390.5" y2="211.45" stroke="#1a1a1a" stroke-width="1.0" />
<line x1="387.6" y1="147.5" x2="390.6" y2="147.5" stroke="#1a1a1a" stroke-width="1.0" />
<text transform="translate(386.4,150.25)" font-size="8.2" text-anchor="end" fill="#1c1c1c" >25</text>
<line x1="387.6" y1="160.5" x2="390.6" y2="160.5" stroke="#1a1a1a" stroke-width="1.0" />
<text transform="translate(386.4,163)" font-size="8.2" text-anchor="end" fill="#1c1c1c" >20</text>
<line x1="387.6" y1="172.5" x2="390.6" y2="172.5" stroke="#1a1a1a" stroke-width="1.0" />
<text transform="translate(386.4,175.75)" font-size="8.2" text-anchor="end" fill="#1c1c1c" >15</text>
<line x1="387.6" y1="185.5" x2="390.6" y2="185.5" stroke="#1a1a1a" stroke-width="1.0" />
<text transform="translate(386.4,188.45)" font-size="8.2" text-anchor="end" fill="#1c1c1c" >10</text>
<line x1="387.6" y1="198.5" x2="390.6" y2="198.5" stroke="#1a1a1a" stroke-width="1.0" />
<text transform="translate(386.4,201.2)" font-size="8.2" text-anchor="end" fill="#1c1c1c" >5</text>
<line x1="387.6" y1="211.5" x2="390.6" y2="211.5" stroke="#1a1a1a" stroke-width="1.0" />
<text transform="translate(386.4,213.95)" font-size="8.2" text-anchor="end" fill="#1c1c1c" >0</text>
<line x1="390.15" y1="211.5" x2="433" y2="211.5" stroke="#1a1a1a" stroke-width="1.0" />
<text transform="translate(369.64,179.2) rotate(-90) scale(0.813,1)" font-size="9" text-anchor="middle" fill="#1c1c1c" >% apoptotoic cells</text>
<line x1="398.5" y1="198.6" x2="398.5" y2="199.2" stroke="#222" stroke-width="0.9" />
<line x1="396.7" y1="198.5" x2="399.3" y2="198.5" stroke="#222" stroke-width="0.8" />
<rect x="395.4" y="199.2" width="5.2" height="11.8" fill="#d9123c" stroke="#222" stroke-width="0.5" />
<line x1="412.5" y1="158.4" x2="412.5" y2="162.2" stroke="#222" stroke-width="0.9" />
<line x1="410.9" y1="158.5" x2="413.5" y2="158.5" stroke="#222" stroke-width="0.8" />
<rect x="409.6" y="162.2" width="5.2" height="48.8" fill="#1b5b97" stroke="#222" stroke-width="0.5" />
<line x1="426.5" y1="199.8" x2="426.5" y2="200.3" stroke="#222" stroke-width="0.9" />
<line x1="425.1" y1="199.5" x2="427.7" y2="199.5" stroke="#222" stroke-width="0.8" />
<rect x="423.8" y="200.3" width="5.2" height="10.7" fill="#3cc052" stroke="#222" stroke-width="0.5" />
<line x1="394.2" y1="153.5" x2="410" y2="153.5" stroke="#777" stroke-width="1.2" />
<text transform="translate(402.1,154.61) scale(0.9,1)" font-size="7" text-anchor="middle" fill="#222" >***</text>
<line x1="412" y1="153.5" x2="430" y2="153.5" stroke="#777" stroke-width="1.2" />
<text transform="translate(421,154.61) scale(0.9,1)" font-size="7" text-anchor="middle" fill="#222" >***</text>
<text transform="translate(402.2,217.3) rotate(-45) scale(1.04,1)" font-size="7.8" text-anchor="end" fill="#1c1c1c" >Scr+vector</text>
<text transform="translate(416.4,217.3) rotate(-45) scale(1.04,1)" font-size="7.8" text-anchor="end" fill="#1c1c1c" >Ysh2#+vector</text>
<text transform="translate(430.6,217.3) rotate(-45) scale(1.04,1)" font-size="7.8" text-anchor="end" fill="#1c1c1c" >Ysh2#+MCM4</text>
<text transform="translate(444.5,141.3)" font-size="11.5" text-anchor="start" font-weight="bold" fill="#000" >J</text>
<line x1="475.5" y1="147.05" x2="475.5" y2="211.45" stroke="#1a1a1a" stroke-width="1.0" />
<line x1="472.6" y1="147.5" x2="475.6" y2="147.5" stroke="#1a1a1a" stroke-width="1.0" />
<text transform="translate(471.4,150.67) scale(0.97,1)" font-size="8.8" text-anchor="end" fill="#1c1c1c" >30</text>
<line x1="472.6" y1="168.5" x2="475.6" y2="168.5" stroke="#1a1a1a" stroke-width="1.0" />
<text transform="translate(471.4,171.87) scale(0.97,1)" font-size="8.8" text-anchor="end" fill="#1c1c1c" >20</text>
<line x1="472.6" y1="189.5" x2="475.6" y2="189.5" stroke="#1a1a1a" stroke-width="1.0" />
<text transform="translate(471.4,193.02) scale(0.97,1)" font-size="8.8" text-anchor="end" fill="#1c1c1c" >10</text>
<line x1="472.6" y1="211.5" x2="475.6" y2="211.5" stroke="#1a1a1a" stroke-width="1.0" />
<text transform="translate(471.4,214.17) scale(0.97,1)" font-size="8.8" text-anchor="end" fill="#1c1c1c" >0</text>
<line x1="475.15" y1="211.5" x2="512.5" y2="211.5" stroke="#1a1a1a" stroke-width="1.0" />
<text transform="translate(455.74,179.2) rotate(-90) scale(0.833,1)" font-size="9" text-anchor="middle" fill="#1c1c1c" >% differentiated cells</text>
<line x1="481.5" y1="198.6" x2="481.5" y2="199.2" stroke="#222" stroke-width="0.9" />
<line x1="479.8" y1="198.5" x2="482.4" y2="198.5" stroke="#222" stroke-width="0.8" />
<rect x="478.5" y="199.2" width="5.2" height="11.8" fill="#d9123c" stroke="#222" stroke-width="0.5" />
<line x1="493.5" y1="151.5" x2="493.5" y2="154.2" stroke="#222" stroke-width="0.9" />
<line x1="492.6" y1="151.5" x2="495.2" y2="151.5" stroke="#222" stroke-width="0.8" />
<rect x="491.3" y="154.2" width="5.2" height="56.8" fill="#1b5b97" stroke="#222" stroke-width="0.5" />
<line x1="506.5" y1="200.4" x2="506.5" y2="201" stroke="#222" stroke-width="0.9" />
<line x1="505" y1="200.5" x2="507.6" y2="200.5" stroke="#222" stroke-width="0.8" />
<rect x="503.7" y="201" width="5.2" height="10" fill="#3cc052" stroke="#222" stroke-width="0.5" />
<line x1="479.7" y1="147.5" x2="491.5" y2="147.5" stroke="#777" stroke-width="1.2" />
<text transform="translate(485.6,148.51) scale(0.9,1)" font-size="7" text-anchor="middle" fill="#222" >***</text>
<line x1="496.2" y1="147.5" x2="508.5" y2="147.5" stroke="#777" stroke-width="1.2" />
<text transform="translate(502.35,148.51) scale(0.9,1)" font-size="7" text-anchor="middle" fill="#222" >***</text>
<text transform="translate(485.7,217.3) rotate(-45) scale(1.04,1)" font-size="7.8" text-anchor="end" fill="#1c1c1c" >Scr+vector</text>
<text transform="translate(498.2,217.3) rotate(-45) scale(1.04,1)" font-size="7.8" text-anchor="end" fill="#1c1c1c" >Ysh2#+vector</text>
<text transform="translate(510.7,217.3) rotate(-45) scale(1.04,1)" font-size="7.8" text-anchor="end" fill="#1c1c1c" >Ysh2#+MCM4</text>
<defs><filter id="bl05" x="-50%" y="-50%" width="200%" height="200%"><feGaussianBlur stdDeviation="0.5"/></filter><filter id="bl1" x="-50%" y="-50%" width="200%" height="200%"><feGaussianBlur stdDeviation="1"/></filter><filter id="bl2" x="-50%" y="-50%" width="200%" height="200%"><feGaussianBlur stdDeviation="1.8"/></filter><filter id="bl3" x="-50%" y="-50%" width="200%" height="200%"><feGaussianBlur stdDeviation="3"/></filter></defs>
<text transform="translate(7,255.3)" font-size="11.5" text-anchor="start" font-weight="bold" fill="#000" >K</text>
<line x1="45.5" y1="265.8" x2="45.5" y2="332.95" stroke="#1a1a1a" stroke-width="1.0" />
<line x1="42" y1="266.5" x2="45" y2="266.5" stroke="#1a1a1a" stroke-width="1.0" />
<text transform="translate(40.4,269.06)" font-size="7.8" text-anchor="end" fill="#1c1c1c" >500</text>
<line x1="42" y1="279.5" x2="45" y2="279.5" stroke="#1a1a1a" stroke-width="1.0" />
<text transform="translate(40.4,282.31)" font-size="7.8" text-anchor="end" fill="#1c1c1c" >400</text>
<line x1="42" y1="292.5" x2="45" y2="292.5" stroke="#1a1a1a" stroke-width="1.0" />
<text transform="translate(40.4,295.56)" font-size="7.8" text-anchor="end" fill="#1c1c1c" >300</text>
<line x1="42" y1="306.5" x2="45" y2="306.5" stroke="#1a1a1a" stroke-width="1.0" />
<text transform="translate(40.4,308.81)" font-size="7.8" text-anchor="end" fill="#1c1c1c" >200</text>
<line x1="42" y1="319.5" x2="45" y2="319.5" stroke="#1a1a1a" stroke-width="1.0" />
<text transform="translate(40.4,322.06)" font-size="7.8" text-anchor="end" fill="#1c1c1c" >100</text>
<line x1="42" y1="332.5" x2="45" y2="332.5" stroke="#1a1a1a" stroke-width="1.0" />
<text transform="translate(40.4,335.31)" font-size="7.8" text-anchor="end" fill="#1c1c1c" >0</text>
<line x1="44.55" y1="332.5" x2="90" y2="332.5" stroke="#1a1a1a" stroke-width="1.0" />
<text transform="translate(21.84,299) rotate(-90) scale(0.825,1)" font-size="9" text-anchor="middle" fill="#1c1c1c" >Colony # 2000 cells/input</text>
<line x1="52.5" y1="290.75" x2="52.5" y2="294.5" stroke="#222" stroke-width="0.9" />
<line x1="51.2" y1="290.5" x2="53.8" y2="290.5" stroke="#222" stroke-width="0.8" />
<rect x="50" y="294.5" width="5" height="38" fill="#d9123c" stroke="#222" stroke-width="0.5" />
<line x1="67.5" y1="317.6" x2="67.5" y2="318.25" stroke="#222" stroke-width="0.9" />
<line x1="66.45" y1="317.5" x2="69.05" y2="317.5" stroke="#222" stroke-width="0.8" />
<rect x="65.5" y="318.25" width="4.5" height="14.25" fill="#1b5b97" stroke="#222" stroke-width="0.5" />
<line x1="82.5" y1="280" x2="82.5" y2="283.25" stroke="#222" stroke-width="0.9" />
<line x1="81.2" y1="280.5" x2="83.8" y2="280.5" stroke="#222" stroke-width="0.8" />
<rect x="80" y="283.25" width="5" height="49.25" fill="#3cc052" stroke="#222" stroke-width="0.5" />
<line x1="50" y1="271.5" x2="63.75" y2="271.5" stroke="#777" stroke-width="1.2" />
<text transform="translate(56.88,272.06) scale(0.9,1)" font-size="7" text-anchor="middle" fill="#222" >***</text>
<line x1="68" y1="271.5" x2="85" y2="271.5" stroke="#777" stroke-width="1.2" />
<text transform="translate(76.5,272.06) scale(0.9,1)" font-size="7" text-anchor="middle" fill="#222" >***</text>
<text transform="translate(56.5,339) rotate(-45) scale(1.04,1)" font-size="7.8" text-anchor="end" fill="#1c1c1c" >Scr+vector</text>
<text transform="translate(71.75,339) rotate(-45) scale(1.04,1)" font-size="7.8" text-anchor="end" fill="#1c1c1c" >Ysh2#+vector</text>
<text transform="translate(86.5,339) rotate(-45) scale(1.04,1)" font-size="7.8" text-anchor="end" fill="#1c1c1c" >Ysh2#+MCM4</text>
<text transform="translate(110.8,254.5)" font-size="11.5" text-anchor="start" font-weight="bold" fill="#000" >L</text>
<text transform="translate(161,263.06) scale(1.04,1)" font-size="7.4" text-anchor="middle" fill="#1c1c1c" >Scr+vector</text>
<rect x="127.2" y="266.2" width="66.3" height="68.4" fill="#fff" stroke="#222" stroke-width="1.0" />
<line x1="124.2" y1="321.5" x2="127.2" y2="321.5" stroke="#222" stroke-width="0.9" />
<line x1="124.2" y1="309.5" x2="127.2" y2="309.5" stroke="#222" stroke-width="0.9" />
<line x1="124.2" y1="297.5" x2="127.2" y2="297.5" stroke="#222" stroke-width="0.9" />
<line x1="124.2" y1="285.5" x2="127.2" y2="285.5" stroke="#222" stroke-width="0.9" />
<line x1="124.2" y1="273.5" x2="127.2" y2="273.5" stroke="#222" stroke-width="0.9" />
<line x1="125.6" y1="330.5" x2="127.2" y2="330.5" stroke="#222" stroke-width="0.6" />
<line x1="125.6" y1="327.5" x2="127.2" y2="327.5" stroke="#222" stroke-width="0.6" />
<line x1="125.6" y1="326.5" x2="127.2" y2="326.5" stroke="#222" stroke-width="0.6" />
<line x1="125.6" y1="325.5" x2="127.2" y2="325.5" stroke="#222" stroke-width="0.6" />
<line x1="125.6" y1="324.5" x2="127.2" y2="324.5" stroke="#222" stroke-width="0.6" />
<line x1="125.6" y1="323.5" x2="127.2" y2="323.5" stroke="#222" stroke-width="0.6" />
<line x1="125.6" y1="322.5" x2="127.2" y2="322.5" stroke="#222" stroke-width="0.6" />
<line x1="125.6" y1="322.5" x2="127.2" y2="322.5" stroke="#222" stroke-width="0.6" />
<line x1="125.6" y1="318.5" x2="127.2" y2="318.5" stroke="#222" stroke-width="0.6" />
<line x1="125.6" y1="315.5" x2="127.2" y2="315.5" stroke="#222" stroke-width="0.6" />
<line x1="125.6" y1="314.5" x2="127.2" y2="314.5" stroke="#222" stroke-width="0.6" />
<line x1="125.6" y1="313.5" x2="127.2" y2="313.5" stroke="#222" stroke-width="0.6" />
<line x1="125.6" y1="312.5" x2="127.2" y2="312.5" stroke="#222" stroke-width="0.6" />
<line x1="125.6" y1="311.5" x2="127.2" y2="311.5" stroke="#222" stroke-width="0.6" />
<line x1="125.6" y1="310.5" x2="127.2" y2="310.5" stroke="#222" stroke-width="0.6" />
<line x1="125.6" y1="310.5" x2="127.2" y2="310.5" stroke="#222" stroke-width="0.6" />
<line x1="125.6" y1="306.5" x2="127.2" y2="306.5" stroke="#222" stroke-width="0.6" />
<line x1="125.6" y1="303.5" x2="127.2" y2="303.5" stroke="#222" stroke-width="0.6" />
<line x1="125.6" y1="302.5" x2="127.2" y2="302.5" stroke="#222" stroke-width="0.6" />
<line x1="125.6" y1="301.5" x2="127.2" y2="301.5" stroke="#222" stroke-width="0.6" />
<line x1="125.6" y1="300.5" x2="127.2" y2="300.5" stroke="#222" stroke-width="0.6" />
<line x1="125.6" y1="299.5" x2="127.2" y2="299.5" stroke="#222" stroke-width="0.6" />
<line x1="125.6" y1="298.5" x2="127.2" y2="298.5" stroke="#222" stroke-width="0.6" />
<line x1="125.6" y1="298.5" x2="127.2" y2="298.5" stroke="#222" stroke-width="0.6" />
<line x1="125.6" y1="294.5" x2="127.2" y2="294.5" stroke="#222" stroke-width="0.6" />
<line x1="125.6" y1="291.5" x2="127.2" y2="291.5" stroke="#222" stroke-width="0.6" />
<line x1="125.6" y1="290.5" x2="127.2" y2="290.5" stroke="#222" stroke-width="0.6" />
<line x1="125.6" y1="289.5" x2="127.2" y2="289.5" stroke="#222" stroke-width="0.6" />
<line x1="125.6" y1="288.5" x2="127.2" y2="288.5" stroke="#222" stroke-width="0.6" />
<line x1="125.6" y1="287.5" x2="127.2" y2="287.5" stroke="#222" stroke-width="0.6" />
<line x1="125.6" y1="286.5" x2="127.2" y2="286.5" stroke="#222" stroke-width="0.6" />
<line x1="125.6" y1="286.5" x2="127.2" y2="286.5" stroke="#222" stroke-width="0.6" />
<line x1="125.6" y1="282.5" x2="127.2" y2="282.5" stroke="#222" stroke-width="0.6" />
<line x1="125.6" y1="279.5" x2="127.2" y2="279.5" stroke="#222" stroke-width="0.6" />
<line x1="125.6" y1="278.5" x2="127.2" y2="278.5" stroke="#222" stroke-width="0.6" />
<line x1="125.6" y1="277.5" x2="127.2" y2="277.5" stroke="#222" stroke-width="0.6" />
<line x1="125.6" y1="276.5" x2="127.2" y2="276.5" stroke="#222" stroke-width="0.6" />
<line x1="125.6" y1="275.5" x2="127.2" y2="275.5" stroke="#222" stroke-width="0.6" />
<line x1="125.6" y1="274.5" x2="127.2" y2="274.5" stroke="#222" stroke-width="0.6" />
<line x1="125.6" y1="274.5" x2="127.2" y2="274.5" stroke="#222" stroke-width="0.6" />
<line x1="125.6" y1="270.5" x2="127.2" y2="270.5" stroke="#222" stroke-width="0.6" />
<line x1="125.6" y1="267.5" x2="127.2" y2="267.5" stroke="#222" stroke-width="0.6" />
<line x1="127.5" y1="334.6" x2="127.5" y2="337.4" stroke="#222" stroke-width="0.9" />
<line x1="129.5" y1="334.6" x2="129.5" y2="336" stroke="#333" stroke-width="0.5" />
<line x1="132.5" y1="334.6" x2="132.5" y2="336" stroke="#333" stroke-width="0.5" />
<line x1="135.5" y1="334.6" x2="135.5" y2="336" stroke="#333" stroke-width="0.5" />
<line x1="138.5" y1="334.6" x2="138.5" y2="337.4" stroke="#222" stroke-width="0.9" />
<line x1="140.5" y1="334.6" x2="140.5" y2="336" stroke="#333" stroke-width="0.5" />
<line x1="143.5" y1="334.6" x2="143.5" y2="336" stroke="#333" stroke-width="0.5" />
<line x1="146.5" y1="334.6" x2="146.5" y2="336" stroke="#333" stroke-width="0.5" />
<line x1="149.5" y1="334.6" x2="149.5" y2="337.4" stroke="#222" stroke-width="0.9" />
<line x1="151.5" y1="334.6" x2="151.5" y2="336" stroke="#333" stroke-width="0.5" />
<line x1="154.5" y1="334.6" x2="154.5" y2="336" stroke="#333" stroke-width="0.5" />
<line x1="157.5" y1="334.6" x2="157.5" y2="336" stroke="#333" stroke-width="0.5" />
<line x1="159.5" y1="334.6" x2="159.5" y2="337.4" stroke="#222" stroke-width="0.9" />
<line x1="162.5" y1="334.6" x2="162.5" y2="336" stroke="#333" stroke-width="0.5" />
<line x1="165.5" y1="334.6" x2="165.5" y2="336" stroke="#333" stroke-width="0.5" />
<line x1="168.5" y1="334.6" x2="168.5" y2="336" stroke="#333" stroke-width="0.5" />
<line x1="170.5" y1="334.6" x2="170.5" y2="337.4" stroke="#222" stroke-width="0.9" />
<line x1="173.5" y1="334.6" x2="173.5" y2="336" stroke="#333" stroke-width="0.5" />
<line x1="176.5" y1="334.6" x2="176.5" y2="336" stroke="#333" stroke-width="0.5" />
<line x1="178.5" y1="334.6" x2="178.5" y2="336" stroke="#333" stroke-width="0.5" />
<line x1="181.5" y1="334.6" x2="181.5" y2="337.4" stroke="#222" stroke-width="0.9" />
<line x1="184.5" y1="334.6" x2="184.5" y2="336" stroke="#333" stroke-width="0.5" />
<line x1="187.5" y1="334.6" x2="187.5" y2="336" stroke="#333" stroke-width="0.5" />
<line x1="189.5" y1="334.6" x2="189.5" y2="336" stroke="#333" stroke-width="0.5" />
<line x1="192.5" y1="334.6" x2="192.5" y2="337.4" stroke="#222" stroke-width="0.9" />
<clipPath id="cp1"><rect x="127.8" y="266.8" width="65.1" height="67.2"/></clipPath><g clip-path="url(#cp1)">
<ellipse cx="152.5" cy="300" rx="22" ry="24" fill="#5a6cf0" opacity="0.18" filter="url(#bl3)"/>
<ellipse cx="150.5" cy="288" rx="15" ry="9" fill="#4a6af5" opacity="0.45" filter="url(#bl2)"/>
<ellipse cx="140.5" cy="306" rx="8" ry="9" fill="#4060f0" opacity="0.55" filter="url(#bl2)"/>
<ellipse cx="160.5" cy="306" rx="6" ry="6" fill="#5a80f5" opacity="0.35" filter="url(#bl2)"/>
<path d="M139.0 302.9h0.6M163.4 291.3h0.6M137.9 297.1h0.6M157.8 312.3h0.6M139.1 281.2h0.6M160.3 304.2h0.6M169.4 310.8h0.6M151.4 294.4h0.6M180.8 294.2h0.6M143.9 283.2h0.6M153.6 299.9h0.6M148.7 297.2h0.6M155.5 307.0h0.6M164.6 300.7h0.6M132.8 307.1h0.6M136.9 295.8h0.6M136.3 298.0h0.6M143.9 300.8h0.6M188.8 297.4h0.6M161.8 280.8h0.6M149.3 306.6h0.6M151.5 302.8h0.6M153.6 284.9h0.6M158.7 287.4h0.6M173.1 291.4h0.6M160.0 298.0h0.6M163.0 290.2h0.6M163.5 296.4h0.6M166.4 306.1h0.6M154.1 287.9h0.6M160.9 304.1h0.6M170.6 293.1h0.6M158.6 304.6h0.6M155.6 300.7h0.6M154.5 290.2h0.6M141.3 292.8h0.6M159.0 317.6h0.6M163.2 311.7h0.6M161.1 307.1h0.6M154.5 308.0h0.6M172.0 293.7h0.6M144.9 323.5h0.6M155.2 310.6h0.6M162.1 283.2h0.6M179.3 321.1h0.6M154.4 307.8h0.6M153.9 286.5h0.6M151.3 302.9h0.6M164.8 307.2h0.6M153.2 315.6h0.6M144.1 308.3h0.6M164.7 294.2h0.6M132.8 286.2h0.6M155.1 304.9h0.6M169.5 284.9h0.6M152.5 306.4h0.6M150.8 267.2h0.6M161.4 328.1h0.6M163.5 286.1h0.6M148.0 300.9h0.6M179.9 306.0h0.6M153.8 318.2h0.6M151.6 322.2h0.6M145.0 291.8h0.6M160.4 316.5h0.6M159.7 301.9h0.6M132.5 288.7h0.6M145.8 291.1h0.6M159.0 293.6h0.6M161.2 299.1h0.6M148.8 299.5h0.6M157.2 309.2h0.6M147.2 295.0h0.6M137.5 318.8h0.6M168.5 295.7h0.6M147.2 281.9h0.6M154.4 300.7h0.6M176.5 301.2h0.6M143.9 266.2h0.6M168.0 300.5h0.6M134.8 300.3h0.6M134.8 343.2h0.6M164.8 305.4h0.6M150.6 270.2h0.6M151.1 277.8h0.6M159.1 270.2h0.6M142.5 313.9h0.6M170.6 282.6h0.6M135.6 309.4h0.6M161.9 285.2h0.6M144.9 289.0h0.6M139.4 289.2h0.6M166.3 307.0h0.6M175.1 296.9h0.6M151.0 285.2h0.6M151.1 280.9h0.6M132.9 307.1h0.6M168.3 308.9h0.6M167.2 301.3h0.6M144.6 299.1h0.6M148.4 283.6h0.6M133.9 278.7h0.6M152.4 300.0h0.6M147.3 316.6h0.6M154.5 305.6h0.6M165.9 287.3h0.6M130.8 307.8h0.6M144.9 315.0h0.6M156.2 311.1h0.6M160.9 271.0h0.6M160.4 289.2h0.6M144.2 292.3h0.6M160.9 309.5h0.6M163.6 276.4h0.6M146.0 267.1h0.6M151.4 305.8h0.6M144.1 301.2h0.6M155.0 311.1h0.6M143.5 287.2h0.6M144.1 320.8h0.6M164.5 296.4h0.6M155.0 299.5h0.6M154.7 295.3h0.6M148.8 281.7h0.6M145.4 319.5h0.6M158.4 298.8h0.6M150.1 298.8h0.6M156.4 289.6h0.6M154.7 301.1h0.6M144.3 287.7h0.6M141.5 284.2h0.6M162.3 267.3h0.6M149.6 290.1h0.6M145.7 299.3h0.6M164.9 299.0h0.6M151.0 290.0h0.6M151.1 309.9h0.6M148.2 283.1h0.6M138.6 283.6h0.6M137.2 312.3h0.6M156.4 294.9h0.6M168.6 289.4h0.6M160.8 308.4h0.6M135.5 277.8h0.6M142.3 309.8h0.6M166.8 282.0h0.6M164.0 293.0h0.6M148.2 290.8h0.6M148.9 274.4h0.6M141.5 281.9h0.6M157.9 325.2h0.6M182.5 293.6h0.6M133.6 292.7h0.6M142.2 323.8h0.6M158.8 288.5h0.6M162.8 305.0h0.6M134.6 291.1h0.6M149.9 298.2h0.6M154.0 293.6h0.6M154.6 290.4h0.6M142.6 317.7h0.6M156.5 303.7h0.6M135.0 295.8h0.6M161.5 281.2h0.6M164.6 292.9h0.6M156.9 296.3h0.6M154.9 313.6h0.6M148.1 318.3h0.6M143.9 285.9h0.6M160.3 284.1h0.6M148.4 309.8h0.6M165.8 274.9h0.6M158.1 322.5h0.6M165.6 294.9h0.6M145.9 294.1h0.6M139.8 294.6h0.6M150.4 296.1h0.6M165.5 295.0h0.6M136.5 311.7h0.6M140.7 292.2h0.6M151.0 293.5h0.6M141.5 294.8h0.6M176.5 290.1h0.6M151.0 312.6h0.6M160.7 307.9h0.6M162.0 272.4h0.6M143.0 299.7h0.6M158.0 314.8h0.6M157.7 294.9h0.6M152.9 295.3h0.6M155.2 306.8h0.6M148.8 287.4h0.6M143.1 312.3h0.6M166.6 310.9h0.6M161.9 308.8h0.6M152.5 306.6h0.6M140.9 295.4h0.6M144.4 307.5h0.6M146.1 296.6h0.6M156.9 315.6h0.6M143.8 285.8h0.6M161.5 283.6h0.6M157.5 290.6h0.6M151.3 274.3h0.6M160.3 291.5h0.6M142.6 325.0h0.6M160.3 343.6h0.6M157.0 293.5h0.6M153.7 318.9h0.6M152.2 303.9h0.6M158.2 286.2h0.6M153.9 291.5h0.6M138.8 309.3h0.6M159.8 299.0h0.6M142.5 271.9h0.6M157.8 296.7h0.6M134.0 297.2h0.6M135.8 297.7h0.6M154.1 302.6h0.6M154.9 300.2h0.6M140.0 293.0h0.6M146.9 294.9h0.6M155.5 306.0h0.6M170.5 264.6h0.6M156.9 295.4h0.6M177.5 310.1h0.6M134.3 303.2h0.6M146.8 310.9h0.6M140.9 296.7h0.6M151.1 296.7h0.6M146.1 274.1h0.6M157.6 311.0h0.6M151.7 284.8h0.6M154.7 305.3h0.6M150.6 297.8h0.6M168.0 283.5h0.6M146.4 273.2h0.6M144.8 288.4h0.6M141.9 289.0h0.6M172.3 295.4h0.6M151.2 326.6h0.6M151.8 275.5h0.6M156.9 285.8h0.6M170.5 281.8h0.6M146.1 277.1h0.6M153.6 284.8h0.6M151.8 293.1h0.6M145.8 310.3h0.6M162.8 298.8h0.6M142.6 284.1h0.6M155.5 329.1h0.6M147.5 287.8h0.6M144.8 283.8h0.6M141.8 295.3h0.6M168.3 298.0h0.6M146.9 277.0h0.6M154.8 297.7h0.6M139.0 283.9h0.6M152.0 311.2h0.6M159.4 300.7h0.6M148.9 302.2h0.6M152.4 326.2h0.6M140.0 293.2h0.6M166.4 294.5h0.6M168.2 297.4h0.6M154.1 293.2h0.6M137.3 285.4h0.6M176.9 306.4h0.6M159.2 310.4h0.6M158.8 311.3h0.6M149.6 295.1h0.6M163.3 293.4h0.6M137.9 295.1h0.6M146.5 306.0h0.6M144.6 284.2h0.6M148.8 318.2h0.6M152.0 300.1h0.6M152.6 301.8h0.6M162.7 316.1h0.6M134.4 315.7h0.6M152.5 293.8h0.6M178.9 295.8h0.6M173.9 310.6h0.6M141.2 304.3h0.6M160.6 296.4h0.6M126.9 293.5h0.6M150.4 283.6h0.6M172.6 294.8h0.6M148.2 294.1h0.6M143.9 287.9h0.6M153.5 302.1h0.6M146.9 296.8h0.6M137.2 304.8h0.6M144.3 300.8h0.6M142.5 291.3h0.6M154.9 282.3h0.6M179.7 297.5h0.6M151.7 288.5h0.6M170.0 316.0h0.6M155.8 280.2h0.6M147.0 306.0h0.6M146.9 282.6h0.6M139.4 288.0h0.6M152.7 289.6h0.6M152.7 334.3h0.6M172.0 284.5h0.6M156.3 299.1h0.6M151.0 311.6h0.6M148.8 293.8h0.6M148.4 296.7h0.6M166.6 308.1h0.6M137.7 292.3h0.6M143.7 308.6h0.6M155.0 309.6h0.6M151.8 273.2h0.6M157.5 301.0h0.6M158.1 281.1h0.6M153.4 289.1h0.6M144.9 302.6h0.6M156.4 286.4h0.6M133.7 265.8h0.6M146.2 312.6h0.6M151.9 268.7h0.6M143.0 303.5h0.6M170.9 313.2h0.6M156.5 300.6h0.6M140.8 292.1h0.6M148.8 287.9h0.6M153.2 292.9h0.6M156.2 316.6h0.6M160.7 303.4h0.6M149.9 278.2h0.6M151.2 305.1h0.6M141.4 314.3h0.6M148.8 302.8h0.6M148.9 281.7h0.6M175.2 282.9h0.6M162.6 290.8h0.6M155.6 287.5h0.6M147.9 310.0h0.6M173.9 287.0h0.6M152.6 310.3h0.6M145.6 307.2h0.6M143.9 305.9h0.6M157.3 313.8h0.6M156.5 282.5h0.6M159.8 283.7h0.6M160.8 317.6h0.6M159.1 290.8h0.6M165.6 300.2h0.6M138.8 293.4h0.6M168.1 294.0h0.6M153.8 293.5h0.6M134.0 291.4h0.6M156.4 300.7h0.6M150.6 270.3h0.6M165.9 307.4h0.6M163.8 314.9h0.6M147.6 290.1h0.6M156.0 319.8h0.6M134.0 295.0h0.6M144.6 305.3h0.6M168.6 294.2h0.6M138.9 298.6h0.6M149.4 277.9h0.6M162.2 291.2h0.6M160.0 280.9h0.6M164.6 279.3h0.6M164.1 274.5h0.6M167.7 293.1h0.6M135.4 294.9h0.6M156.2 285.1h0.6M147.1 301.5h0.6M150.6 258.2h0.6M147.8 303.6h0.6M155.8 311.1h0.6M144.9 331.2h0.6M161.3 302.1h0.6M164.4 310.4h0.6M153.6 289.9h0.6M163.8 303.5h0.6M131.7 283.6h0.6M157.6 299.4h0.6M155.6 306.3h0.6M154.1 318.6h0.6M146.0 292.8h0.6M156.0 307.7h0.6M161.2 317.3h0.6M147.3 313.2h0.6M157.6 284.4h0.6M151.0 325.1h0.6M161.1 291.9h0.6M126.1 288.4h0.6M144.8 299.0h0.6M177.9 307.7h0.6M155.9 285.8h0.6M139.5 295.3h0.6M147.4 337.1h0.6M148.1 290.0h0.6M164.9 299.0h0.6M138.9 314.8h0.6M149.1 280.7h0.6M156.0 304.3h0.6M148.8 307.1h0.6M161.5 286.5h0.6M129.9 266.9h0.6M151.1 314.0h0.6M163.5 316.1h0.6M172.9 298.2h0.6M164.1 278.1h0.6M160.1 303.1h0.6M151.5 292.3h0.6M140.2 299.8h0.6M166.6 293.2h0.6M158.3 289.4h0.6M155.3 284.9h0.6M156.7 295.2h0.6M156.0 290.1h0.6M139.6 293.7h0.6M163.9 318.5h0.6M147.3 291.0h0.6M158.1 289.0h0.6M135.0 288.6h0.6M140.8 292.9h0.6M158.4 290.1h0.6M125.1 290.1h0.6M157.5 280.6h0.6M160.2 287.4h0.6M148.7 283.4h0.6M140.3 284.8h0.6M181.4 288.0h0.6M152.6 283.8h0.6M144.3 284.2h0.6M141.6 291.4h0.6M147.8 291.3h0.6M138.9 291.6h0.6M150.2 290.3h0.6M149.5 282.6h0.6M162.6 284.8h0.6M149.0 282.6h0.6M152.5 285.1h0.6M153.3 288.7h0.6M143.6 279.9h0.6M154.8 291.6h0.6M157.5 281.3h0.6M156.6 288.9h0.6M153.3 289.1h0.6M147.3 288.1h0.6M159.8 284.5h0.6M136.1 286.5h0.6M152.5 277.8h0.6M143.7 289.9h0.6M149.0 287.5h0.6M137.9 291.5h0.6M168.0 286.0h0.6M143.2 281.2h0.6M159.4 287.5h0.6M142.6 293.1h0.6M158.1 290.0h0.6M132.9 286.5h0.6M156.8 280.9h0.6M159.8 294.2h0.6M160.8 283.4h0.6M143.4 291.7h0.6M160.4 293.1h0.6M162.5 286.5h0.6M146.4 277.7h0.6M158.3 298.4h0.6M145.9 284.6h0.6M157.0 288.9h0.6M136.8 283.4h0.6M139.5 297.1h0.6M143.3 291.3h0.6M169.7 296.5h0.6M164.8 295.1h0.6M138.1 285.3h0.6M143.2 285.5h0.6M176.7 278.6h0.6M156.1 280.8h0.6M163.9 293.5h0.6M145.4 297.3h0.6M151.2 293.5h0.6M153.6 284.2h0.6M146.7 286.4h0.6M156.7 287.6h0.6M174.1 286.0h0.6M145.8 283.4h0.6M142.7 279.8h0.6M140.6 291.5h0.6M151.1 286.1h0.6M154.0 292.3h0.6M156.7 290.9h0.6M144.9 285.7h0.6M142.7 286.5h0.6M142.3 285.1h0.6M148.8 285.9h0.6M147.8 284.5h0.6M163.6 285.3h0.6M140.4 288.0h0.6M139.6 281.6h0.6M151.3 278.7h0.6M118.3 288.4h0.6M160.8 278.6h0.6M141.5 289.9h0.6M130.6 282.6h0.6M138.5 286.0h0.6M130.8 291.5h0.6M149.1 288.5h0.6M147.2 276.4h0.6M149.0 280.3h0.6M150.6 282.7h0.6M147.3 285.9h0.6M158.2 290.8h0.6M140.4 286.9h0.6M165.1 289.5h0.6M143.2 286.4h0.6M147.0 291.7h0.6M150.8 288.9h0.6M172.6 280.1h0.6M140.4 278.3h0.6M134.6 291.3h0.6M153.4 295.2h0.6M130.8 282.6h0.6M164.9 292.1h0.6M159.3 291.4h0.6M150.8 286.9h0.6M150.8 291.2h0.6M148.9 288.6h0.6M165.0 281.4h0.6M143.0 289.8h0.6M147.9 286.2h0.6M171.5 289.1h0.6M146.3 292.5h0.6M175.7 281.5h0.6M143.8 287.6h0.6M144.1 297.9h0.6M155.8 285.0h0.6M155.4 283.0h0.6M144.4 287.5h0.6M174.4 275.7h0.6M154.7 293.8h0.6M157.9 296.6h0.6M155.0 287.7h0.6M149.2 282.7h0.6M166.9 281.1h0.6M149.3 284.4h0.6M142.6 275.9h0.6M146.7 287.7h0.6M151.9 291.2h0.6M148.9 283.8h0.6M153.6 290.3h0.6M141.5 279.4h0.6M140.2 292.3h0.6M160.5 282.6h0.6M151.6 291.2h0.6M163.8 283.7h0.6M148.1 294.0h0.6M174.6 294.6h0.6M139.1 289.2h0.6M147.5 286.7h0.6M143.9 284.6h0.6M150.4 296.0h0.6M157.5 289.1h0.6M150.8 283.2h0.6M148.2 293.2h0.6M158.8 296.8h0.6M153.1 286.9h0.6M134.3 289.0h0.6M133.3 294.6h0.6M144.2 287.0h0.6M137.0 284.5h0.6M141.2 292.7h0.6M153.0 281.1h0.6M131.2 286.7h0.6M145.6 281.4h0.6M156.4 286.1h0.6M151.6 284.0h0.6M144.8 284.7h0.6M134.5 290.1h0.6M154.5 278.4h0.6M151.5 292.8h0.6M152.9 293.5h0.6M147.8 287.0h0.6M137.5 282.5h0.6M132.3 282.5h0.6M152.9 289.6h0.6M162.1 287.7h0.6M140.6 289.2h0.6M149.0 295.9h0.6M170.1 291.8h0.6M139.1 284.4h0.6M152.4 283.4h0.6M155.7 290.4h0.6M158.9 288.1h0.6M141.7 282.8h0.6M149.3 293.6h0.6M166.2 291.9h0.6M154.1 290.4h0.6M158.7 293.5h0.6M159.1 279.3h0.6M160.0 288.9h0.6M145.9 289.6h0.6M153.4 286.7h0.6M133.6 287.6h0.6M156.1 286.8h0.6M134.6 289.3h0.6M157.7 287.9h0.6M154.8 285.2h0.6M143.9 289.6h0.6M147.0 287.9h0.6M183.1 290.6h0.6M151.9 278.9h0.6M151.5 290.8h0.6M143.5 285.8h0.6M128.0 289.8h0.6M144.5 290.4h0.6M164.1 286.2h0.6M160.3 288.3h0.6M148.5 285.6h0.6M142.0 293.4h0.6M144.9 301.0h0.6M144.7 302.6h0.6M133.0 314.2h0.6M134.1 314.1h0.6M141.5 312.4h0.6M143.1 313.9h0.6M142.2 310.5h0.6M141.7 313.6h0.6M138.5 313.1h0.6M148.0 306.6h0.6M142.7 303.9h0.6M139.1 308.6h0.6M138.8 301.7h0.6M140.4 308.1h0.6M142.1 311.3h0.6M131.6 315.5h0.6M139.6 302.4h0.6M138.6 309.7h0.6M144.9 304.8h0.6M141.3 297.4h0.6M141.3 306.3h0.6M138.3 312.3h0.6M149.5 313.2h0.6M136.6 316.2h0.6M138.8 306.8h0.6M137.6 309.7h0.6M143.3 307.9h0.6M139.5 306.1h0.6M138.5 312.8h0.6M137.9 306.1h0.6M139.5 302.5h0.6M139.4 298.2h0.6M142.5 310.2h0.6M139.0 316.3h0.6M136.4 310.3h0.6M142.9 303.8h0.6M139.3 312.3h0.6M140.8 308.7h0.6M147.5 308.3h0.6M132.2 302.6h0.6M144.7 306.2h0.6M135.1 295.2h0.6M142.1 316.0h0.6M134.3 294.1h0.6M143.0 303.8h0.6M139.0 305.1h0.6M136.0 309.6h0.6M145.1 309.2h0.6M137.7 313.2h0.6M140.0 310.5h0.6M135.9 310.9h0.6M144.2 314.7h0.6M140.6 309.6h0.6M137.6 312.3h0.6M144.4 313.4h0.6M138.6 299.7h0.6M140.2 305.8h0.6M136.8 310.6h0.6M145.2 309.4h0.6M146.0 309.4h0.6M135.7 303.5h0.6M138.8 311.1h0.6M145.1 307.8h0.6M145.5 302.1h0.6M139.9 315.9h0.6M142.7 313.2h0.6M131.2 297.1h0.6M136.2 313.0h0.6M148.5 303.3h0.6M135.6 301.0h0.6M136.1 310.3h0.6M139.0 318.1h0.6M144.1 303.0h0.6M141.7 306.1h0.6M144.4 312.4h0.6M138.8 312.3h0.6M143.3 306.5h0.6M141.8 311.0h0.6M138.9 303.0h0.6M146.8 307.0h0.6M137.6 309.7h0.6M133.3 307.3h0.6M133.8 304.5h0.6M131.7 302.8h0.6M144.9 305.9h0.6M134.5 317.3h0.6M137.4 315.8h0.6M137.9 298.4h0.6M149.6 304.5h0.6M144.3 314.0h0.6M134.1 307.5h0.6M137.7 310.6h0.6M140.5 299.6h0.6M140.8 311.5h0.6M139.1 310.3h0.6M137.9 306.7h0.6M142.2 307.9h0.6M146.8 312.6h0.6M144.7 311.3h0.6M141.3 300.2h0.6M145.7 317.3h0.6M141.6 305.5h0.6M140.4 314.1h0.6M141.9 301.3h0.6M139.7 302.5h0.6M139.5 301.8h0.6M136.3 315.8h0.6M145.7 297.6h0.6M135.7 304.4h0.6M138.6 298.9h0.6M144.9 297.6h0.6M143.9 311.1h0.6M138.7 303.2h0.6M140.8 307.9h0.6M130.3 299.7h0.6M143.1 306.4h0.6M138.5 301.2h0.6M137.1 302.6h0.6M154.2 299.7h0.6M148.0 309.9h0.6M141.6 308.2h0.6M138.7 316.5h0.6M143.0 306.9h0.6M139.9 308.2h0.6M135.0 305.2h0.6M137.5 310.7h0.6M143.5 296.1h0.6M139.5 312.8h0.6M134.2 300.1h0.6M145.4 306.3h0.6M138.3 299.9h0.6M141.4 303.8h0.6M141.6 309.5h0.6M144.0 305.1h0.6M138.0 307.2h0.6M140.1 308.1h0.6M138.0 305.7h0.6M137.7 303.6h0.6M141.3 313.8h0.6M137.9 310.5h0.6M142.2 307.7h0.6M143.9 303.8h0.6M143.3 308.8h0.6M123.5 309.1h0.6M143.5 318.5h0.6M135.4 307.6h0.6M142.3 301.4h0.6M146.4 309.7h0.6M136.6 300.0h0.6M138.5 321.0h0.6M151.1 292.5h0.6M131.6 311.0h0.6M140.0 303.3h0.6M143.5 307.6h0.6M141.9 308.6h0.6M135.2 314.8h0.6M138.3 313.7h0.6M143.9 307.3h0.6M141.2 306.8h0.6M131.5 305.1h0.6M162.6 298.1h0.6M153.2 311.3h0.6M164.5 298.5h0.6M162.8 305.8h0.6M165.3 304.4h0.6M159.4 302.4h0.6M161.4 305.4h0.6M157.3 304.3h0.6M156.8 309.1h0.6M155.5 298.4h0.6M155.8 311.4h0.6M158.0 309.2h0.6M164.1 303.5h0.6M164.2 308.5h0.6M160.3 302.6h0.6M160.2 299.7h0.6M159.2 303.2h0.6M162.7 307.7h0.6M157.4 310.3h0.6M166.4 306.4h0.6M156.9 308.5h0.6M148.5 303.1h0.6M163.4 315.9h0.6M156.9 313.6h0.6M172.0 315.3h0.6M148.9 311.5h0.6M161.5 311.0h0.6M159.6 303.0h0.6M159.4 313.4h0.6M164.7 304.6h0.6M162.4 310.3h0.6M163.3 305.8h0.6M157.3 302.3h0.6M158.4 303.3h0.6M152.7 299.0h0.6M164.9 300.5h0.6M154.0 305.8h0.6M167.7 312.3h0.6M158.5 300.9h0.6M157.9 301.5h0.6M157.8 308.4h0.6M155.2 302.1h0.6M159.2 305.9h0.6M156.7 302.1h0.6M154.9 302.3h0.6M163.1 304.8h0.6M145.1 309.1h0.6M160.2 301.7h0.6M159.2 291.0h0.6M152.3 311.8h0.6M171.1 316.9h0.6M156.9 306.2h0.6M164.4 299.9h0.6M169.2 302.4h0.6M162.3 300.3h0.6M162.3 305.9h0.6M165.9 300.3h0.6M160.5 315.1h0.6M154.6 307.8h0.6M162.7 303.5h0.6M159.2 313.1h0.6M166.2 308.8h0.6M161.8 300.3h0.6M161.0 315.0h0.6M165.8 299.2h0.6M150.2 302.7h0.6M161.3 303.3h0.6M159.0 307.7h0.6M165.0 307.1h0.6M166.8 298.9h0.6M162.8 308.1h0.6M153.1 312.3h0.6M152.5 298.8h0.6M173.9 312.5h0.6M162.4 312.8h0.6M166.3 300.4h0.6M162.9 313.0h0.6M159.7 306.4h0.6M158.2 309.7h0.6M157.7 303.1h0.6M154.4 301.4h0.6M161.6 308.4h0.6M158.6 300.7h0.6M162.2 307.8h0.6M166.9 303.5h0.6M158.4 308.6h0.6M168.2 305.8h0.6M160.1 301.3h0.6M158.6 310.8h0.6M164.8 311.6h0.6M152.3 310.2h0.6M155.9 309.0h0.6M148.6 305.5h0.6M156.1 312.4h0.6M161.1 312.6h0.6M158.3 315.9h0.6M158.3 315.6h0.6M158.1 301.1h0.6M165.0 304.0h0.6M160.2 299.2h0.6M158.8 306.6h0.6M156.9 308.0h0.6M148.9 310.5h0.6M158.4 313.4h0.6M158.7 302.7h0.6M158.2 307.4h0.6M163.5 303.7h0.6M156.5 308.2h0.6M164.7 297.2h0.6M155.2 302.6h0.6M169.1 312.2h0.6M164.5 308.5h0.6M154.9 311.7h0.6M158.3 302.0h0.6M170.3 298.7h0.6M167.5 307.0h0.6M155.9 306.9h0.6M156.2 307.0h0.6M157.2 300.0h0.6M174.0 303.5h0.6" stroke="#2e38dc" stroke-width="0.6" fill="none" opacity="0.85"/>
<path d="M158.5 285.8h0.6M156.0 281.5h0.6M142.1 274.4h0.6M158.6 287.6h0.6M141.0 289.0h0.6M155.3 296.4h0.6M152.4 289.3h0.6M155.5 288.7h0.6M150.3 284.5h0.6M156.3 290.4h0.6M141.1 282.0h0.6M150.2 292.4h0.6M148.8 280.0h0.6M157.1 288.7h0.6M166.3 286.7h0.6M166.5 283.5h0.6M157.9 286.5h0.6M140.9 285.0h0.6M161.3 290.0h0.6M147.5 289.9h0.6M157.8 289.2h0.6M152.9 287.1h0.6M143.8 285.8h0.6M151.5 283.4h0.6M148.2 286.6h0.6M152.3 289.8h0.6M142.2 284.6h0.6M152.7 284.7h0.6M153.2 284.4h0.6M160.1 285.2h0.6M141.3 288.7h0.6M164.0 279.2h0.6M149.5 286.3h0.6M158.9 291.3h0.6M149.3 280.5h0.6M156.0 289.6h0.6M154.3 286.3h0.6M144.0 294.7h0.6M140.8 280.7h0.6M158.5 287.0h0.6M156.0 287.3h0.6M164.2 291.1h0.6M146.1 289.6h0.6M141.0 280.0h0.6M160.3 284.5h0.6M133.2 286.0h0.6M145.2 287.8h0.6M150.1 283.3h0.6M144.8 288.7h0.6M143.0 286.5h0.6M142.6 287.6h0.6M165.0 288.0h0.6M159.6 287.6h0.6M142.8 285.0h0.6M151.1 287.6h0.6M145.7 288.2h0.6M144.7 286.3h0.6M150.5 282.0h0.6M158.7 286.2h0.6M151.4 285.9h0.6M133.5 281.1h0.6M143.3 289.5h0.6M145.9 288.2h0.6M142.2 283.0h0.6M146.8 289.8h0.6M137.2 285.4h0.6M153.8 286.5h0.6M150.4 288.8h0.6M152.9 282.5h0.6M155.7 283.3h0.6M147.8 291.1h0.6M170.3 291.2h0.6M154.0 283.3h0.6M144.4 291.9h0.6M153.2 281.1h0.6M163.2 288.1h0.6M161.2 287.5h0.6M133.2 283.4h0.6M149.4 285.4h0.6M162.8 283.7h0.6M149.8 285.8h0.6M149.8 282.4h0.6M140.7 276.9h0.6M153.2 285.3h0.6M152.2 282.3h0.6M150.6 282.6h0.6M142.4 287.2h0.6M155.7 288.1h0.6M150.2 284.7h0.6M161.8 290.4h0.6M145.4 282.2h0.6M153.5 287.1h0.6M143.2 294.1h0.6M133.7 283.1h0.6M152.5 289.5h0.6M135.6 284.5h0.6M162.1 291.0h0.6M148.5 286.2h0.6M143.4 287.4h0.6M142.1 278.9h0.6M138.3 286.2h0.6M139.9 289.9h0.6M160.9 289.5h0.6M155.8 290.0h0.6M152.7 289.1h0.6M154.3 288.8h0.6M142.4 283.7h0.6M142.5 288.9h0.6M154.6 283.2h0.6M142.6 284.0h0.6M157.6 285.6h0.6M148.6 283.6h0.6M149.6 291.7h0.6M145.0 284.8h0.6M164.2 288.6h0.6M141.4 289.9h0.6M140.4 288.0h0.6M130.2 282.5h0.6M157.9 283.9h0.6M144.7 286.2h0.6M150.6 284.4h0.6M145.1 292.4h0.6M162.6 287.2h0.6M141.3 284.2h0.6M148.2 287.7h0.6M163.5 284.2h0.6M151.7 284.5h0.6M151.7 283.6h0.6M153.6 290.1h0.6M147.4 284.9h0.6M151.5 281.4h0.6M165.1 281.3h0.6M147.7 282.9h0.6M162.6 284.3h0.6M146.5 292.7h0.6M149.6 283.3h0.6M150.5 286.7h0.6M144.5 285.4h0.6M148.9 288.6h0.6M156.7 289.0h0.6M149.6 288.8h0.6M148.9 290.1h0.6M153.8 284.5h0.6M160.5 280.7h0.6M142.8 283.2h0.6M149.5 281.7h0.6M140.9 279.4h0.6M151.5 283.3h0.6M168.2 288.8h0.6M141.3 290.7h0.6M151.4 289.8h0.6M141.6 290.1h0.6M159.4 284.6h0.6M143.7 284.7h0.6M152.7 294.5h0.6M165.1 291.3h0.6M148.8 284.9h0.6M153.5 285.1h0.6M146.8 285.3h0.6M157.4 285.8h0.6M141.5 305.7h0.6M139.7 305.4h0.6M145.6 308.2h0.6M146.5 306.2h0.6M144.8 300.1h0.6M138.9 306.7h0.6M138.0 306.5h0.6M136.8 306.2h0.6M137.8 307.0h0.6M139.3 302.0h0.6M138.9 307.2h0.6M135.4 307.5h0.6M145.6 305.9h0.6M142.7 310.2h0.6M137.3 313.7h0.6M150.6 301.9h0.6M149.2 303.5h0.6M146.4 297.9h0.6M145.1 307.7h0.6M135.4 302.9h0.6M136.3 302.5h0.6M142.1 306.1h0.6M130.4 305.5h0.6M142.4 307.5h0.6M147.3 297.8h0.6M141.5 307.2h0.6M143.4 300.3h0.6M135.3 306.2h0.6M140.8 297.9h0.6M142.0 307.0h0.6M143.5 293.9h0.6M142.5 302.6h0.6M138.6 311.0h0.6M147.3 307.8h0.6M140.1 313.6h0.6M136.9 306.3h0.6M138.5 302.1h0.6M141.3 317.3h0.6M141.5 309.5h0.6M140.4 312.7h0.6M141.3 302.6h0.6M140.9 314.3h0.6M140.2 313.1h0.6M140.2 317.2h0.6M141.7 310.3h0.6M139.4 311.2h0.6M139.6 299.6h0.6M141.7 301.0h0.6M146.5 311.0h0.6M140.6 310.5h0.6M130.1 314.8h0.6M137.9 310.4h0.6M150.8 298.9h0.6M138.9 308.8h0.6M142.2 298.5h0.6M136.8 314.5h0.6M138.1 309.8h0.6M135.0 302.5h0.6M133.2 308.4h0.6M145.2 307.5h0.6M139.4 308.3h0.6M142.4 305.6h0.6M142.8 316.9h0.6M149.5 304.2h0.6M135.5 316.7h0.6M144.5 313.2h0.6M143.0 305.9h0.6M144.5 312.7h0.6M145.3 301.6h0.6M144.7 305.3h0.6M139.1 308.8h0.6M139.1 318.7h0.6M142.8 308.4h0.6M139.8 308.3h0.6M139.6 310.0h0.6M144.0 311.3h0.6M135.5 305.4h0.6M140.9 300.9h0.6M142.1 306.3h0.6M140.8 309.0h0.6M158.6 310.7h0.6M163.7 304.4h0.6M161.9 308.3h0.6M158.2 305.0h0.6M162.6 298.2h0.6M156.6 307.0h0.6M162.4 303.2h0.6M163.1 312.7h0.6M161.2 305.9h0.6M160.7 303.0h0.6M162.2 306.6h0.6M162.8 310.3h0.6M160.6 306.6h0.6M161.5 311.3h0.6M156.1 306.0h0.6M158.6 306.4h0.6M163.0 306.2h0.6M162.8 306.6h0.6M158.4 304.0h0.6M156.4 306.7h0.6M159.3 308.6h0.6M163.4 303.4h0.6M157.3 307.9h0.6M157.9 306.7h0.6M162.4 304.9h0.6M165.9 303.7h0.6M161.8 304.8h0.6M151.8 305.5h0.6M160.1 307.8h0.6M160.1 303.8h0.6M159.0 305.1h0.6M162.8 305.2h0.6M164.3 308.6h0.6M158.3 309.1h0.6M153.7 306.1h0.6M157.6 305.7h0.6M164.0 306.0h0.6M160.0 309.9h0.6M158.2 303.5h0.6M163.5 307.9h0.6" stroke="#3aa0f0" stroke-width="0.6" fill="none" opacity="0.9"/>
<rect x="135.5" y="278.5" width="30" height="21" rx="5" fill="#3c58f0" opacity="0.5" filter="url(#bl2)"/>
<path d="M140 300 C138 291 138 285 144.5 284 L157.5 283.5 C162 283.8 162.5 287 161.5 292" fill="none" stroke="#2fb8ee" stroke-width="8" stroke-linecap="round" opacity="0.75" filter="url(#bl2)"/>
<path d="M140.5 299 C138.5 291 138.5 285.5 144.5 284.5 L155.5 284" fill="none" stroke="#3cdc6a" stroke-width="5.4" stroke-linecap="round" opacity="0.85" filter="url(#bl1)"/>
<path d="M140.5 291 C140 287.5 140.5 286 144.5 285.5 L149.5 285.3" fill="none" stroke="#b8ee38" stroke-width="1.6" stroke-linecap="round" opacity="0.6" filter="url(#bl1)"/>
<ellipse cx="140.5" cy="307" rx="5.2" ry="6.2" fill="#3090f0" opacity="0.9" filter="url(#bl1)"/>
<ellipse cx="140.5" cy="307" rx="4.3" ry="5.2" fill="#28c8e8" opacity="0.95" filter="url(#bl05)"/>
<ellipse cx="140.5" cy="307" rx="3.35" ry="4.06" fill="#3ce05a" opacity="0.95" filter="url(#bl05)"/>
<ellipse cx="140.5" cy="307" rx="2.37" ry="2.86" fill="#e8f020" opacity="0.95" filter="url(#bl05)"/>
<ellipse cx="140.5" cy="307" rx="1.63" ry="1.98" fill="#ff8a10" opacity="0.95" filter="url(#bl05)"/>
<ellipse cx="140.5" cy="307" rx="0.95" ry="1.14" fill="#f01818" opacity="0.95" filter="url(#bl05)"/>
<ellipse cx="160" cy="305.5" rx="2.6" ry="2.6" fill="#40b8f0" opacity="0.7" filter="url(#bl1)"/>
</g>
<rect x="131.3" y="270.3" width="44.4" height="29.6" fill="none" stroke="#707070" stroke-width="0.65" />
<rect x="131.3" y="299.9" width="21.4" height="26.7" fill="none" stroke="#707070" stroke-width="0.65" />
<rect x="153.3" y="300.4" width="22.8" height="26.5" fill="none" stroke="#707070" stroke-width="0.65" />
<text transform="translate(157.8,276.99) scale(1.02,1)" font-size="7.2" text-anchor="start" fill="#333" >53</text>
<text transform="translate(131.8,324.59) scale(1.02,1)" font-size="7.2" text-anchor="start" fill="#333" >42</text>
<text transform="translate(155.3,324.59) scale(1.02,1)" font-size="7.2" text-anchor="start" fill="#333" >4.5</text>
<text transform="translate(231,263.06) scale(1.04,1)" font-size="7.4" text-anchor="middle" fill="#1c1c1c" >Ysh2#+vector</text>
<rect x="197.9" y="266.2" width="66.3" height="68.4" fill="#fff" stroke="#222" stroke-width="1.0" />
<line x1="194.9" y1="321.5" x2="197.9" y2="321.5" stroke="#222" stroke-width="0.9" />
<line x1="194.9" y1="309.5" x2="197.9" y2="309.5" stroke="#222" stroke-width="0.9" />
<line x1="194.9" y1="297.5" x2="197.9" y2="297.5" stroke="#222" stroke-width="0.9" />
<line x1="194.9" y1="285.5" x2="197.9" y2="285.5" stroke="#222" stroke-width="0.9" />
<line x1="194.9" y1="273.5" x2="197.9" y2="273.5" stroke="#222" stroke-width="0.9" />
<line x1="196.3" y1="330.5" x2="197.9" y2="330.5" stroke="#222" stroke-width="0.6" />
<line x1="196.3" y1="327.5" x2="197.9" y2="327.5" stroke="#222" stroke-width="0.6" />
<line x1="196.3" y1="326.5" x2="197.9" y2="326.5" stroke="#222" stroke-width="0.6" />
<line x1="196.3" y1="325.5" x2="197.9" y2="325.5" stroke="#222" stroke-width="0.6" />
<line x1="196.3" y1="324.5" x2="197.9" y2="324.5" stroke="#222" stroke-width="0.6" />
<line x1="196.3" y1="323.5" x2="197.9" y2="323.5" stroke="#222" stroke-width="0.6" />
<line x1="196.3" y1="322.5" x2="197.9" y2="322.5" stroke="#222" stroke-width="0.6" />
<line x1="196.3" y1="322.5" x2="197.9" y2="322.5" stroke="#222" stroke-width="0.6" />
<line x1="196.3" y1="318.5" x2="197.9" y2="318.5" stroke="#222" stroke-width="0.6" />
<line x1="196.3" y1="315.5" x2="197.9" y2="315.5" stroke="#222" stroke-width="0.6" />
<line x1="196.3" y1="314.5" x2="197.9" y2="314.5" stroke="#222" stroke-width="0.6" />
<line x1="196.3" y1="313.5" x2="197.9" y2="313.5" stroke="#222" stroke-width="0.6" />
<line x1="196.3" y1="312.5" x2="197.9" y2="312.5" stroke="#222" stroke-width="0.6" />
<line x1="196.3" y1="311.5" x2="197.9" y2="311.5" stroke="#222" stroke-width="0.6" />
<line x1="196.3" y1="310.5" x2="197.9" y2="310.5" stroke="#222" stroke-width="0.6" />
<line x1="196.3" y1="310.5" x2="197.9" y2="310.5" stroke="#222" stroke-width="0.6" />
<line x1="196.3" y1="306.5" x2="197.9" y2="306.5" stroke="#222" stroke-width="0.6" />
<line x1="196.3" y1="303.5" x2="197.9" y2="303.5" stroke="#222" stroke-width="0.6" />
<line x1="196.3" y1="302.5" x2="197.9" y2="302.5" stroke="#222" stroke-width="0.6" />
<line x1="196.3" y1="301.5" x2="197.9" y2="301.5" stroke="#222" stroke-width="0.6" />
<line x1="196.3" y1="300.5" x2="197.9" y2="300.5" stroke="#222" stroke-width="0.6" />
<line x1="196.3" y1="299.5" x2="197.9" y2="299.5" stroke="#222" stroke-width="0.6" />
<line x1="196.3" y1="298.5" x2="197.9" y2="298.5" stroke="#222" stroke-width="0.6" />
<line x1="196.3" y1="298.5" x2="197.9" y2="298.5" stroke="#222" stroke-width="0.6" />
<line x1="196.3" y1="294.5" x2="197.9" y2="294.5" stroke="#222" stroke-width="0.6" />
<line x1="196.3" y1="291.5" x2="197.9" y2="291.5" stroke="#222" stroke-width="0.6" />
<line x1="196.3" y1="290.5" x2="197.9" y2="290.5" stroke="#222" stroke-width="0.6" />
<line x1="196.3" y1="289.5" x2="197.9" y2="289.5" stroke="#222" stroke-width="0.6" />
<line x1="196.3" y1="288.5" x2="197.9" y2="288.5" stroke="#222" stroke-width="0.6" />
<line x1="196.3" y1="287.5" x2="197.9" y2="287.5" stroke="#222" stroke-width="0.6" />
<line x1="196.3" y1="286.5" x2="197.9" y2="286.5" stroke="#222" stroke-width="0.6" />
<line x1="196.3" y1="286.5" x2="197.9" y2="286.5" stroke="#222" stroke-width="0.6" />
<line x1="196.3" y1="282.5" x2="197.9" y2="282.5" stroke="#222" stroke-width="0.6" />
<line x1="196.3" y1="279.5" x2="197.9" y2="279.5" stroke="#222" stroke-width="0.6" />
<line x1="196.3" y1="278.5" x2="197.9" y2="278.5" stroke="#222" stroke-width="0.6" />
<line x1="196.3" y1="277.5" x2="197.9" y2="277.5" stroke="#222" stroke-width="0.6" />
<line x1="196.3" y1="276.5" x2="197.9" y2="276.5" stroke="#222" stroke-width="0.6" />
<line x1="196.3" y1="275.5" x2="197.9" y2="275.5" stroke="#222" stroke-width="0.6" />
<line x1="196.3" y1="274.5" x2="197.9" y2="274.5" stroke="#222" stroke-width="0.6" />
<line x1="196.3" y1="274.5" x2="197.9" y2="274.5" stroke="#222" stroke-width="0.6" />
<line x1="196.3" y1="270.5" x2="197.9" y2="270.5" stroke="#222" stroke-width="0.6" />
<line x1="196.3" y1="267.5" x2="197.9" y2="267.5" stroke="#222" stroke-width="0.6" />
<line x1="197.5" y1="334.6" x2="197.5" y2="337.4" stroke="#222" stroke-width="0.9" />
<line x1="200.5" y1="334.6" x2="200.5" y2="336" stroke="#333" stroke-width="0.5" />
<line x1="203.5" y1="334.6" x2="203.5" y2="336" stroke="#333" stroke-width="0.5" />
<line x1="206.5" y1="334.6" x2="206.5" y2="336" stroke="#333" stroke-width="0.5" />
<line x1="208.5" y1="334.6" x2="208.5" y2="337.4" stroke="#222" stroke-width="0.9" />
<line x1="211.5" y1="334.6" x2="211.5" y2="336" stroke="#333" stroke-width="0.5" />
<line x1="214.5" y1="334.6" x2="214.5" y2="336" stroke="#333" stroke-width="0.5" />
<line x1="216.5" y1="334.6" x2="216.5" y2="336" stroke="#333" stroke-width="0.5" />
<line x1="219.5" y1="334.6" x2="219.5" y2="337.4" stroke="#222" stroke-width="0.9" />
<line x1="222.5" y1="334.6" x2="222.5" y2="336" stroke="#333" stroke-width="0.5" />
<line x1="225.5" y1="334.6" x2="225.5" y2="336" stroke="#333" stroke-width="0.5" />
<line x1="227.5" y1="334.6" x2="227.5" y2="336" stroke="#333" stroke-width="0.5" />
<line x1="230.5" y1="334.6" x2="230.5" y2="337.4" stroke="#222" stroke-width="0.9" />
<line x1="233.5" y1="334.6" x2="233.5" y2="336" stroke="#333" stroke-width="0.5" />
<line x1="236.5" y1="334.6" x2="236.5" y2="336" stroke="#333" stroke-width="0.5" />
<line x1="238.5" y1="334.6" x2="238.5" y2="336" stroke="#333" stroke-width="0.5" />
<line x1="241.5" y1="334.6" x2="241.5" y2="337.4" stroke="#222" stroke-width="0.9" />
<line x1="244.5" y1="334.6" x2="244.5" y2="336" stroke="#333" stroke-width="0.5" />
<line x1="246.5" y1="334.6" x2="246.5" y2="336" stroke="#333" stroke-width="0.5" />
<line x1="249.5" y1="334.6" x2="249.5" y2="336" stroke="#333" stroke-width="0.5" />
<line x1="252.5" y1="334.6" x2="252.5" y2="337.4" stroke="#222" stroke-width="0.9" />
<line x1="255.5" y1="334.6" x2="255.5" y2="336" stroke="#333" stroke-width="0.5" />
<line x1="257.5" y1="334.6" x2="257.5" y2="336" stroke="#333" stroke-width="0.5" />
<line x1="260.5" y1="334.6" x2="260.5" y2="336" stroke="#333" stroke-width="0.5" />
<line x1="263.5" y1="334.6" x2="263.5" y2="337.4" stroke="#222" stroke-width="0.9" />
<clipPath id="cp2"><rect x="198.5" y="266.8" width="65.1" height="67.2"/></clipPath><g clip-path="url(#cp2)">
<ellipse cx="223.7" cy="298" rx="22" ry="24" fill="#5a6cf0" opacity="0.16" filter="url(#bl3)"/>
<ellipse cx="226.7" cy="286" rx="16" ry="9" fill="#5070f5" opacity="0.25" filter="url(#bl2)"/>
<ellipse cx="216.7" cy="307" rx="11" ry="9" fill="#4060f0" opacity="0.55" filter="url(#bl2)"/>
<ellipse cx="237.7" cy="306" rx="9" ry="6" fill="#5a80f5" opacity="0.4" filter="url(#bl2)"/>
<path d="M207.4 299.0h0.6M221.4 289.8h0.6M236.3 296.9h0.6M221.4 319.4h0.6M218.8 279.6h0.6M208.2 289.2h0.6M232.6 307.1h0.6M238.4 320.1h0.6M245.4 304.7h0.6M241.0 305.0h0.6M218.3 307.3h0.6M226.0 293.9h0.6M249.4 306.8h0.6M219.5 295.7h0.6M253.7 293.5h0.6M234.3 304.9h0.6M231.6 304.4h0.6M219.5 290.6h0.6M223.4 292.0h0.6M235.2 317.0h0.6M214.6 303.9h0.6M213.5 287.6h0.6M222.5 298.1h0.6M220.0 262.4h0.6M242.2 293.2h0.6M217.6 305.7h0.6M218.1 277.9h0.6M231.3 302.2h0.6M215.3 307.8h0.6M229.9 281.8h0.6M246.7 300.3h0.6M211.6 302.7h0.6M226.9 309.5h0.6M208.9 310.4h0.6M236.8 305.9h0.6M232.8 314.0h0.6M234.1 298.4h0.6M215.2 311.4h0.6M237.3 300.6h0.6M227.2 306.2h0.6M194.7 300.9h0.6M194.9 299.9h0.6M238.2 321.7h0.6M219.6 302.3h0.6M224.5 267.3h0.6M234.2 296.4h0.6M226.1 284.2h0.6M224.8 297.7h0.6M240.8 300.5h0.6M267.7 291.2h0.6M222.1 295.9h0.6M215.4 316.5h0.6M233.1 279.8h0.6M226.6 311.8h0.6M208.0 298.6h0.6M222.4 327.4h0.6M230.3 291.2h0.6M218.4 321.5h0.6M219.6 326.7h0.6M206.3 294.1h0.6M222.4 287.3h0.6M222.7 305.7h0.6M217.2 277.7h0.6M241.6 316.0h0.6M216.9 300.6h0.6M194.0 310.3h0.6M209.1 289.3h0.6M251.6 280.0h0.6M225.5 282.5h0.6M202.8 281.3h0.6M228.6 279.4h0.6M218.1 306.2h0.6M223.3 279.3h0.6M243.5 298.2h0.6M242.4 282.8h0.6M245.8 278.8h0.6M204.0 291.0h0.6M220.7 300.1h0.6M218.4 305.0h0.6M241.5 288.0h0.6M208.5 291.3h0.6M235.2 307.3h0.6M221.0 283.6h0.6M225.0 309.3h0.6M216.6 313.7h0.6M228.0 300.4h0.6M217.6 314.5h0.6M225.8 277.0h0.6M235.2 291.1h0.6M238.3 298.8h0.6M217.6 298.8h0.6M219.3 285.7h0.6M225.5 307.5h0.6M226.1 295.4h0.6M218.5 304.1h0.6M228.5 309.2h0.6M229.7 324.6h0.6M206.1 295.9h0.6M231.7 308.4h0.6M206.6 280.5h0.6M224.7 310.4h0.6M238.6 276.6h0.6M226.8 312.0h0.6M225.6 283.0h0.6M216.5 279.0h0.6M239.7 293.2h0.6M220.0 285.1h0.6M223.5 284.6h0.6M213.3 296.0h0.6M222.4 302.6h0.6M227.0 312.1h0.6M224.7 300.0h0.6M228.0 285.9h0.6M239.6 289.1h0.6M206.0 313.0h0.6M233.1 289.1h0.6M236.8 309.2h0.6M233.7 281.1h0.6M227.3 282.9h0.6M217.8 289.1h0.6M214.9 303.0h0.6M215.6 304.7h0.6M227.3 288.6h0.6M227.3 305.6h0.6M239.1 293.1h0.6M246.2 304.1h0.6M240.3 278.8h0.6M212.4 312.4h0.6M222.5 302.6h0.6M239.7 277.6h0.6M230.7 322.0h0.6M234.9 297.7h0.6M232.0 296.6h0.6M234.6 313.6h0.6M222.5 304.1h0.6M228.9 306.3h0.6M235.3 282.5h0.6M239.3 307.8h0.6M211.9 292.8h0.6M207.5 292.7h0.6M229.2 281.4h0.6M215.8 285.0h0.6M216.8 286.4h0.6M212.3 304.0h0.6M222.6 285.7h0.6M237.1 289.1h0.6M236.0 280.3h0.6M242.2 290.7h0.6M213.7 301.9h0.6M209.0 282.4h0.6M228.1 290.2h0.6M230.0 298.4h0.6M228.2 298.2h0.6M233.8 296.5h0.6M238.5 308.9h0.6M201.4 273.5h0.6M244.0 290.7h0.6M227.4 295.0h0.6M228.5 325.4h0.6M216.6 297.4h0.6M225.2 282.4h0.6M214.6 293.0h0.6M225.0 301.5h0.6M201.5 276.0h0.6M245.1 294.2h0.6M235.1 291.0h0.6M216.6 324.1h0.6M210.3 284.6h0.6M233.3 296.7h0.6M205.4 298.3h0.6M234.0 276.6h0.6M218.4 306.8h0.6M248.2 266.1h0.6M216.8 296.8h0.6M214.1 284.6h0.6M219.1 303.2h0.6M212.3 307.8h0.6M235.2 307.6h0.6M243.7 289.7h0.6M224.5 309.5h0.6M240.4 308.7h0.6M219.7 290.1h0.6M209.3 290.8h0.6M214.3 290.1h0.6M220.6 307.3h0.6M235.4 295.8h0.6M211.4 295.8h0.6M230.3 307.6h0.6M227.7 307.0h0.6M217.2 304.9h0.6M234.0 291.9h0.6M216.0 312.5h0.6M213.2 305.4h0.6M221.9 291.9h0.6M222.1 290.7h0.6M224.7 319.7h0.6M242.6 294.7h0.6M230.8 308.3h0.6M220.0 320.4h0.6M225.5 304.5h0.6M213.7 281.9h0.6M213.1 288.1h0.6M237.6 292.3h0.6M235.7 291.0h0.6M213.6 298.6h0.6M220.3 274.8h0.6M225.7 311.8h0.6M222.6 280.8h0.6M216.0 280.7h0.6M222.2 284.1h0.6M223.8 298.7h0.6M241.1 281.4h0.6M200.5 317.6h0.6M230.3 291.7h0.6M231.2 284.4h0.6M221.0 305.3h0.6M221.3 298.2h0.6M230.4 298.0h0.6M222.2 303.1h0.6M241.0 313.0h0.6M214.6 306.4h0.6M202.3 278.0h0.6M229.9 303.4h0.6M241.5 274.1h0.6M238.1 289.4h0.6M219.5 302.2h0.6M242.0 284.2h0.6M204.6 288.7h0.6M223.7 312.0h0.6M229.5 292.5h0.6M219.0 290.4h0.6M236.7 274.8h0.6M216.8 285.1h0.6M238.6 298.0h0.6M217.0 306.2h0.6M248.5 309.7h0.6M209.4 293.7h0.6M238.7 272.8h0.6M210.4 291.0h0.6M231.3 285.7h0.6M226.9 294.3h0.6M228.9 280.7h0.6M198.4 268.4h0.6M227.0 309.1h0.6M230.8 275.5h0.6M204.2 292.6h0.6M214.0 272.5h0.6M218.0 286.0h0.6M223.6 301.2h0.6M227.2 298.7h0.6M231.2 294.9h0.6M219.6 291.8h0.6M239.2 292.6h0.6M234.6 317.8h0.6M245.8 268.4h0.6M226.7 309.0h0.6M219.5 287.0h0.6M207.8 287.5h0.6M224.9 271.8h0.6M224.8 285.3h0.6M225.1 282.1h0.6M225.9 298.3h0.6M216.6 287.5h0.6M236.3 304.4h0.6M215.5 301.9h0.6M211.0 289.5h0.6M189.9 288.9h0.6M233.1 289.8h0.6M231.9 287.9h0.6M228.5 294.3h0.6M213.2 323.4h0.6M214.8 278.7h0.6M226.4 302.4h0.6M229.0 294.8h0.6M230.5 308.3h0.6M232.3 278.2h0.6M245.6 295.8h0.6M200.3 307.0h0.6M223.1 299.9h0.6M248.7 289.2h0.6M217.4 283.4h0.6M227.1 304.8h0.6M229.6 298.4h0.6M199.4 299.6h0.6M237.8 289.5h0.6M218.5 283.1h0.6M227.8 275.9h0.6M247.8 293.6h0.6M217.7 280.4h0.6M231.3 308.8h0.6M218.1 298.4h0.6M228.4 308.8h0.6M232.2 312.2h0.6M207.9 330.1h0.6M218.9 281.6h0.6M213.8 301.2h0.6M234.1 327.8h0.6M239.6 286.3h0.6M220.8 290.1h0.6M217.7 294.0h0.6M217.5 311.4h0.6M228.9 304.3h0.6M223.0 281.1h0.6M230.1 291.1h0.6M248.8 312.2h0.6M210.4 283.4h0.6M218.3 293.4h0.6M238.6 293.9h0.6M230.4 292.1h0.6M222.3 312.2h0.6M225.1 321.8h0.6M224.4 301.3h0.6M229.7 304.8h0.6M248.0 287.4h0.6M218.6 284.0h0.6M246.6 302.3h0.6M230.3 302.2h0.6M202.8 306.3h0.6M226.5 300.3h0.6M226.0 295.1h0.6M224.0 288.9h0.6M222.2 304.5h0.6M199.6 307.0h0.6M232.7 282.4h0.6M231.1 300.2h0.6M218.7 318.2h0.6M227.1 294.5h0.6M209.3 324.5h0.6M227.6 300.3h0.6M222.2 323.1h0.6M223.1 316.7h0.6M237.6 308.9h0.6M232.6 311.3h0.6M223.5 269.3h0.6M192.7 310.7h0.6M200.3 313.6h0.6M262.0 271.7h0.6M232.2 302.4h0.6M216.4 270.5h0.6M223.8 318.2h0.6M223.6 296.2h0.6M225.9 296.8h0.6M228.4 325.9h0.6M214.4 272.6h0.6M235.1 289.5h0.6M218.9 278.1h0.6M222.8 290.6h0.6M230.1 291.1h0.6M207.5 302.7h0.6M223.9 271.7h0.6M220.8 306.1h0.6M224.2 292.0h0.6M232.0 287.9h0.6M216.6 303.0h0.6M223.0 288.2h0.6M227.6 299.6h0.6M236.1 309.3h0.6M226.0 295.9h0.6M213.8 298.9h0.6M220.6 307.1h0.6M234.5 304.6h0.6M224.3 300.5h0.6M242.9 318.4h0.6M217.9 259.6h0.6M232.4 276.4h0.6M225.5 302.2h0.6M242.8 294.0h0.6M223.6 288.9h0.6M228.6 280.5h0.6M231.7 300.7h0.6M241.1 292.3h0.6M228.8 298.9h0.6M224.7 283.9h0.6M218.2 297.0h0.6M230.8 309.7h0.6M217.8 299.7h0.6M232.3 307.4h0.6M227.9 299.0h0.6M220.9 296.7h0.6M222.7 273.9h0.6M212.3 292.8h0.6M221.9 312.4h0.6M215.0 308.2h0.6M219.2 305.7h0.6M229.6 306.0h0.6M220.5 306.8h0.6M233.9 297.4h0.6M219.6 299.2h0.6M212.2 301.5h0.6M224.0 300.7h0.6M209.9 305.2h0.6M210.3 301.2h0.6M230.5 303.2h0.6M211.6 315.4h0.6M218.6 313.8h0.6M205.0 305.4h0.6M221.7 308.5h0.6M222.3 314.6h0.6M222.6 313.7h0.6M223.9 302.7h0.6M219.5 315.0h0.6M210.4 310.4h0.6M223.0 315.2h0.6M204.7 321.4h0.6M205.6 307.2h0.6M238.2 299.1h0.6M235.9 308.8h0.6M233.2 315.9h0.6M219.2 302.5h0.6M215.5 299.5h0.6M207.0 309.5h0.6M206.4 309.4h0.6M217.4 306.4h0.6M209.7 299.8h0.6M224.3 301.5h0.6M213.4 306.1h0.6M223.4 319.0h0.6M233.6 311.9h0.6M223.3 311.1h0.6M216.3 306.0h0.6M204.2 310.5h0.6M214.0 309.5h0.6M235.8 312.3h0.6M227.1 312.4h0.6M213.5 303.3h0.6M206.3 303.8h0.6M219.3 311.3h0.6M222.5 305.1h0.6M208.9 307.5h0.6M220.4 295.3h0.6M218.7 298.6h0.6M214.3 306.3h0.6M210.1 304.1h0.6M218.0 301.2h0.6M223.4 311.1h0.6M222.3 300.9h0.6M216.4 305.2h0.6M218.8 311.6h0.6M213.7 307.3h0.6M224.5 305.2h0.6M223.6 307.0h0.6M206.6 306.9h0.6M219.0 304.7h0.6M233.2 304.8h0.6M206.2 306.2h0.6M216.1 310.2h0.6M238.1 308.0h0.6M224.4 302.9h0.6M210.4 302.9h0.6M216.3 304.5h0.6M217.8 303.3h0.6M208.3 302.5h0.6M224.1 300.2h0.6M224.1 316.9h0.6M210.5 312.5h0.6M224.6 291.3h0.6M224.7 311.0h0.6M211.6 317.7h0.6M203.6 314.9h0.6M220.0 301.0h0.6M218.7 298.0h0.6M222.7 310.4h0.6M227.6 315.5h0.6M212.3 310.1h0.6M212.9 289.8h0.6M225.5 314.1h0.6M219.6 317.5h0.6M217.4 296.7h0.6M214.2 305.5h0.6M220.0 304.7h0.6M200.0 299.7h0.6M216.6 313.8h0.6M212.5 299.3h0.6M214.0 312.6h0.6M227.8 301.2h0.6M223.3 315.0h0.6M224.2 300.5h0.6M222.6 304.1h0.6M213.8 318.7h0.6M217.5 310.1h0.6M227.6 317.0h0.6M220.0 303.4h0.6M217.4 303.0h0.6M216.9 306.4h0.6M205.9 302.4h0.6M206.5 306.7h0.6M224.2 311.5h0.6M219.3 301.3h0.6M217.3 298.9h0.6M222.4 297.8h0.6M212.7 317.4h0.6M221.1 301.2h0.6M216.1 300.9h0.6M211.4 304.6h0.6M211.0 308.2h0.6M226.4 301.9h0.6M210.3 302.2h0.6M212.9 307.8h0.6M212.5 301.8h0.6M212.4 313.0h0.6M225.6 313.3h0.6M219.3 301.4h0.6M228.8 320.4h0.6M212.6 303.4h0.6M226.5 311.2h0.6M221.0 319.6h0.6M216.4 302.3h0.6M214.9 308.4h0.6M219.3 314.6h0.6M223.9 302.7h0.6M223.7 305.9h0.6M229.9 313.9h0.6M213.0 310.4h0.6M207.4 309.8h0.6M218.4 309.8h0.6M208.1 302.0h0.6M213.3 305.7h0.6M223.1 302.1h0.6M201.6 303.7h0.6M223.9 312.2h0.6M207.6 310.9h0.6M218.6 311.4h0.6M219.2 314.6h0.6M212.0 320.1h0.6M226.6 300.0h0.6M205.3 313.2h0.6M205.2 302.3h0.6M221.6 306.1h0.6M218.9 294.0h0.6M211.6 310.1h0.6M234.4 309.5h0.6M218.0 307.8h0.6M225.9 310.8h0.6M210.6 295.1h0.6M215.8 304.6h0.6M232.4 301.8h0.6M223.7 294.9h0.6M223.9 299.2h0.6M217.9 305.7h0.6M218.4 307.0h0.6M208.4 310.5h0.6M210.4 306.6h0.6M210.7 306.7h0.6M216.7 305.7h0.6M211.2 314.2h0.6M216.2 307.3h0.6M200.0 310.5h0.6M204.9 305.6h0.6M201.1 318.3h0.6M203.3 305.3h0.6M207.4 299.2h0.6M203.4 315.6h0.6M234.7 306.0h0.6M224.1 303.9h0.6M208.8 317.8h0.6M222.6 299.9h0.6M216.6 306.7h0.6M215.1 306.2h0.6M212.1 306.3h0.6M214.0 304.8h0.6M211.3 316.1h0.6M213.9 305.5h0.6M219.4 306.9h0.6M206.9 311.9h0.6M207.5 302.7h0.6M220.6 305.5h0.6M211.6 306.8h0.6M210.4 303.1h0.6M207.8 299.2h0.6M209.3 306.9h0.6M213.1 305.7h0.6M224.5 303.9h0.6M202.4 307.1h0.6M231.5 289.1h0.6M215.2 299.9h0.6M205.2 311.4h0.6M216.9 306.4h0.6M206.7 303.6h0.6M208.2 315.8h0.6M216.8 294.5h0.6M214.6 315.5h0.6M210.9 304.9h0.6M216.7 309.5h0.6M221.0 302.9h0.6M214.2 310.8h0.6M208.9 304.6h0.6M219.9 305.2h0.6M209.3 316.5h0.6M218.5 304.9h0.6M193.9 313.2h0.6M224.6 306.3h0.6M217.4 301.6h0.6M233.4 312.1h0.6M235.3 320.2h0.6M202.8 310.5h0.6M200.7 308.9h0.6M217.6 303.3h0.6M222.5 307.6h0.6M214.7 305.2h0.6M224.7 309.6h0.6M224.2 308.7h0.6M213.8 303.9h0.6M219.3 302.5h0.6M212.3 311.6h0.6M219.2 305.5h0.6M219.0 304.5h0.6M227.7 305.6h0.6M217.7 299.8h0.6M211.8 299.0h0.6M220.9 310.1h0.6M222.4 304.7h0.6M217.8 309.0h0.6M214.5 296.7h0.6M233.2 309.8h0.6M224.7 311.6h0.6M211.6 306.6h0.6M213.5 313.2h0.6M219.0 302.5h0.6M220.1 323.3h0.6M217.3 309.8h0.6M234.3 301.3h0.6M219.9 314.2h0.6M222.6 303.2h0.6M217.3 307.5h0.6M225.2 313.0h0.6M201.8 307.3h0.6M211.7 308.6h0.6M214.3 309.0h0.6M205.5 308.1h0.6M221.9 314.3h0.6M230.1 306.9h0.6M212.9 314.9h0.6M220.7 308.8h0.6M222.2 298.2h0.6M210.4 301.6h0.6M208.7 316.2h0.6M202.8 305.9h0.6M217.0 301.6h0.6M220.7 301.9h0.6M206.2 299.3h0.6M247.0 304.2h0.6M239.0 308.5h0.6M240.6 302.6h0.6M243.3 310.7h0.6M227.7 309.7h0.6M241.3 310.9h0.6M241.8 305.2h0.6M232.3 308.9h0.6M240.4 307.8h0.6M234.2 311.2h0.6M244.2 310.8h0.6M233.5 308.7h0.6M244.5 300.0h0.6M232.6 307.2h0.6M227.6 305.6h0.6M238.4 299.4h0.6M241.8 306.0h0.6M246.5 305.9h0.6M234.3 305.8h0.6M240.7 297.8h0.6M235.6 309.3h0.6M243.1 307.7h0.6M230.1 305.6h0.6M240.9 306.1h0.6M238.9 314.4h0.6M251.3 304.0h0.6M231.1 306.2h0.6M247.0 301.4h0.6M231.1 300.4h0.6M245.6 303.9h0.6M237.3 313.3h0.6M242.2 304.6h0.6M228.8 311.1h0.6M238.4 304.6h0.6M239.5 302.9h0.6M239.2 307.0h0.6M230.2 307.2h0.6M242.0 312.5h0.6M244.0 315.5h0.6M244.0 306.0h0.6M240.3 306.2h0.6M231.3 305.1h0.6M239.0 301.5h0.6M237.5 308.7h0.6M249.6 305.6h0.6M235.6 303.1h0.6M226.7 308.6h0.6M234.3 303.1h0.6M230.2 312.6h0.6M247.2 308.2h0.6M235.4 300.8h0.6M222.7 302.7h0.6M232.4 312.7h0.6M235.8 298.7h0.6M247.5 308.8h0.6M235.1 307.7h0.6M242.3 304.1h0.6M231.8 306.8h0.6M242.1 308.4h0.6M230.1 301.8h0.6M237.6 303.4h0.6M235.7 314.4h0.6M226.4 304.9h0.6M230.6 307.1h0.6M250.8 307.8h0.6M246.9 302.0h0.6M239.8 312.2h0.6M235.3 302.7h0.6M227.2 312.6h0.6M236.9 312.2h0.6M239.1 306.3h0.6M243.5 307.0h0.6M246.0 303.5h0.6M233.8 306.3h0.6M234.2 305.2h0.6M243.5 307.7h0.6M237.1 313.9h0.6M228.5 303.5h0.6M236.5 310.4h0.6M242.0 308.4h0.6M248.1 305.7h0.6M232.6 311.4h0.6M248.5 301.6h0.6M233.7 305.6h0.6M240.2 306.6h0.6M242.9 298.9h0.6M234.3 299.1h0.6M243.6 310.6h0.6M239.5 306.1h0.6M237.1 305.6h0.6M232.1 308.2h0.6M242.1 302.9h0.6M240.6 312.5h0.6M248.7 316.3h0.6M256.8 299.5h0.6M234.4 304.1h0.6M241.1 312.8h0.6M227.6 308.6h0.6M240.0 311.6h0.6M241.2 303.1h0.6M239.7 303.8h0.6M236.7 304.9h0.6M237.8 307.7h0.6M240.5 311.2h0.6M242.6 298.4h0.6M242.2 304.2h0.6M244.5 304.2h0.6M232.1 299.8h0.6M236.9 309.6h0.6M231.8 307.6h0.6M235.8 297.1h0.6M236.5 304.8h0.6M241.2 298.6h0.6M242.2 305.7h0.6M244.1 304.2h0.6M233.3 305.0h0.6M237.6 310.7h0.6M232.7 304.7h0.6M230.7 304.4h0.6M239.6 312.4h0.6M236.9 307.1h0.6M238.1 310.7h0.6M235.7 304.9h0.6M239.9 304.8h0.6M239.3 305.6h0.6M235.4 309.8h0.6M236.3 304.3h0.6M241.1 314.1h0.6M239.8 305.2h0.6M242.9 308.4h0.6M230.9 311.2h0.6M247.0 303.7h0.6M235.3 308.8h0.6M240.1 306.7h0.6M246.8 299.2h0.6M234.3 308.3h0.6M241.0 303.5h0.6M225.6 311.3h0.6M244.2 306.6h0.6M240.1 310.7h0.6M253.9 301.5h0.6M238.0 297.3h0.6M229.5 311.2h0.6M235.8 296.3h0.6M228.7 312.6h0.6M241.1 311.5h0.6M248.6 303.6h0.6M237.9 303.2h0.6M231.5 310.2h0.6M239.4 302.9h0.6M226.5 304.1h0.6M235.7 302.8h0.6M243.1 308.5h0.6M240.8 311.4h0.6M235.6 305.8h0.6M252.0 302.1h0.6M239.6 309.4h0.6M239.4 305.7h0.6M241.3 309.6h0.6M239.0 304.7h0.6" stroke="#2e38dc" stroke-width="0.6" fill="none" opacity="0.85"/>
<path d="M207.8 305.5h0.6M213.2 303.1h0.6M212.2 300.6h0.6M213.0 307.4h0.6M210.4 300.3h0.6M224.8 311.1h0.6M214.6 308.4h0.6M216.6 308.7h0.6M221.1 301.3h0.6M206.6 311.0h0.6M220.5 302.6h0.6M225.5 308.4h0.6M218.6 313.8h0.6M226.4 312.2h0.6M220.0 304.5h0.6M218.8 305.0h0.6M222.5 312.0h0.6M218.1 312.0h0.6M210.8 313.2h0.6M219.7 296.7h0.6M218.0 310.9h0.6M220.7 302.6h0.6M223.0 310.9h0.6M218.3 314.1h0.6M214.8 308.7h0.6M217.8 296.5h0.6M220.1 309.8h0.6M214.1 307.0h0.6M223.9 305.7h0.6M221.3 308.5h0.6M218.6 310.7h0.6M208.1 300.5h0.6M211.7 310.8h0.6M224.5 305.4h0.6M208.9 313.9h0.6M215.0 302.3h0.6M219.5 303.5h0.6M221.2 309.2h0.6M211.9 315.5h0.6M217.6 309.0h0.6M226.0 312.7h0.6M203.0 306.9h0.6M216.0 309.4h0.6M221.8 314.6h0.6M206.2 306.8h0.6M224.3 305.2h0.6M227.5 312.3h0.6M223.5 302.6h0.6M207.4 305.3h0.6M216.9 307.8h0.6M224.2 305.5h0.6M211.1 315.8h0.6M223.1 304.0h0.6M216.6 287.7h0.6M210.6 306.4h0.6M220.7 306.0h0.6M216.5 303.8h0.6M213.0 314.8h0.6M229.5 312.2h0.6M215.0 295.8h0.6M222.3 301.5h0.6M215.5 308.3h0.6M226.6 302.5h0.6M215.6 310.7h0.6M222.9 306.0h0.6M219.8 310.2h0.6M214.8 298.2h0.6M216.7 314.5h0.6M210.5 302.7h0.6M223.1 314.4h0.6M220.0 308.4h0.6M207.3 300.6h0.6M213.3 297.9h0.6M223.2 301.1h0.6M231.9 300.9h0.6M219.5 304.6h0.6M216.2 312.3h0.6M211.3 305.4h0.6M224.4 302.5h0.6M233.7 300.0h0.6M222.5 308.1h0.6M220.5 306.8h0.6M215.0 309.1h0.6M214.3 302.2h0.6M228.2 297.4h0.6M221.6 304.1h0.6M205.4 294.8h0.6M212.0 309.5h0.6M225.5 306.6h0.6M225.4 307.5h0.6M218.8 308.0h0.6M225.0 301.2h0.6M206.2 313.7h0.6M218.1 308.6h0.6M224.2 309.0h0.6M217.3 314.4h0.6M224.4 305.9h0.6M219.2 304.9h0.6M217.0 303.6h0.6M222.4 302.1h0.6M213.9 310.8h0.6M218.9 315.0h0.6M214.4 307.2h0.6M216.6 311.8h0.6M217.0 309.9h0.6M208.7 304.5h0.6M226.9 307.2h0.6M220.0 312.6h0.6M219.5 303.1h0.6M219.1 305.2h0.6M217.6 307.3h0.6M222.9 313.4h0.6M226.9 303.1h0.6M219.3 313.7h0.6M214.5 304.0h0.6M228.7 310.9h0.6M222.7 305.1h0.6M226.1 312.5h0.6M218.4 308.5h0.6M221.7 306.8h0.6M237.2 310.4h0.6M235.4 301.7h0.6M242.1 311.6h0.6M234.4 307.5h0.6M237.6 303.9h0.6M233.2 307.1h0.6M228.4 306.8h0.6M250.4 314.3h0.6M227.0 305.9h0.6M232.1 306.9h0.6M234.9 305.5h0.6M237.5 307.4h0.6M238.4 308.1h0.6M242.0 311.9h0.6M240.4 306.7h0.6M242.8 307.6h0.6M241.4 303.5h0.6M230.0 309.4h0.6M230.2 303.3h0.6M236.1 303.7h0.6M240.5 307.1h0.6M238.8 310.8h0.6M237.7 305.1h0.6M231.2 304.2h0.6M233.2 306.7h0.6M245.7 305.8h0.6M237.8 300.4h0.6M246.0 303.1h0.6M238.2 301.6h0.6M241.0 306.5h0.6M232.4 310.5h0.6M244.6 307.0h0.6M234.7 306.7h0.6M233.9 307.7h0.6M234.9 304.0h0.6M237.0 311.5h0.6M229.8 309.1h0.6M239.9 308.2h0.6M238.4 308.0h0.6M226.6 305.8h0.6M226.5 305.9h0.6M235.8 306.9h0.6M238.9 303.9h0.6M234.7 310.4h0.6M242.9 305.9h0.6M233.1 305.8h0.6M241.0 307.1h0.6M238.2 309.6h0.6M239.3 307.7h0.6M236.5 306.7h0.6M238.1 303.3h0.6M234.6 301.3h0.6M235.5 302.4h0.6M239.0 309.9h0.6M234.6 308.0h0.6M241.8 300.6h0.6M243.1 300.7h0.6M229.3 302.4h0.6M229.2 301.4h0.6M237.8 307.8h0.6M234.2 288.2h0.6M238.3 285.5h0.6M223.9 291.6h0.6M221.4 290.9h0.6M224.9 279.7h0.6M218.8 283.9h0.6M228.4 287.6h0.6M233.5 288.2h0.6M236.9 279.4h0.6M231.6 292.1h0.6M220.8 288.8h0.6M236.4 282.9h0.6M207.8 283.0h0.6M224.9 289.3h0.6M232.4 288.2h0.6M225.9 284.6h0.6M221.4 286.0h0.6M223.8 285.9h0.6M221.1 282.2h0.6M231.1 283.8h0.6M233.8 290.2h0.6M218.0 295.0h0.6M215.9 279.7h0.6M215.7 282.3h0.6M226.6 290.8h0.6M229.9 291.7h0.6M207.5 288.9h0.6M214.8 282.3h0.6M247.2 293.2h0.6M227.6 283.0h0.6M221.2 280.4h0.6M222.7 288.8h0.6M230.8 287.0h0.6M222.7 288.7h0.6M232.1 293.8h0.6M229.2 289.8h0.6M233.8 288.6h0.6M232.1 287.1h0.6M234.2 281.8h0.6M219.0 282.5h0.6" stroke="#3aa0f0" stroke-width="0.6" fill="none" opacity="0.9"/>
<ellipse cx="233.7" cy="307" rx="11" ry="2.2" fill="#40a8f0" opacity="0.45" filter="url(#bl1)"/>
<ellipse cx="217.2" cy="307.5" rx="7.6" ry="6.4" fill="#3090f0" opacity="0.9" filter="url(#bl1)"/>
<ellipse cx="218.2" cy="307.6" rx="5.8" ry="4.8" fill="#28c8e8" opacity="0.95" filter="url(#bl05)"/>
<ellipse cx="218.2" cy="307.6" rx="4.52" ry="3.74" fill="#3ce05a" opacity="0.95" filter="url(#bl05)"/>
<ellipse cx="218.2" cy="307.6" rx="3.19" ry="2.64" fill="#e8f020" opacity="0.95" filter="url(#bl05)"/>
<ellipse cx="218.2" cy="307.6" rx="2.2" ry="1.82" fill="#ff8a10" opacity="0.95" filter="url(#bl05)"/>
<ellipse cx="218.2" cy="307.6" rx="1.28" ry="1.06" fill="#f01818" opacity="0.95" filter="url(#bl05)"/>
</g>
<rect x="203" y="270.3" width="43.3" height="29.6" fill="none" stroke="#707070" stroke-width="0.65" />
<rect x="203" y="299.9" width="21.1" height="26.7" fill="none" stroke="#707070" stroke-width="0.65" />
<rect x="224.7" y="300.4" width="22" height="26.5" fill="none" stroke="#707070" stroke-width="0.65" />
<text transform="translate(230.2,276.99) scale(1.02,1)" font-size="7.2" text-anchor="start" fill="#333" >20</text>
<text transform="translate(204.8,321.59) scale(1.02,1)" font-size="7.2" text-anchor="start" fill="#333" >64</text>
<text transform="translate(229.6,321.59) scale(1.02,1)" font-size="7.2" text-anchor="start" fill="#333" >15</text>
<text transform="translate(302.5,263.06) scale(1.04,1)" font-size="7.4" text-anchor="middle" fill="#1c1c1c" >Ysh2#+MCM4</text>
<rect x="267.7" y="266.2" width="66.3" height="68.4" fill="#fff" stroke="#222" stroke-width="1.0" />
<line x1="264.7" y1="321.5" x2="267.7" y2="321.5" stroke="#222" stroke-width="0.9" />
<line x1="264.7" y1="309.5" x2="267.7" y2="309.5" stroke="#222" stroke-width="0.9" />
<line x1="264.7" y1="297.5" x2="267.7" y2="297.5" stroke="#222" stroke-width="0.9" />
<line x1="264.7" y1="285.5" x2="267.7" y2="285.5" stroke="#222" stroke-width="0.9" />
<line x1="264.7" y1="273.5" x2="267.7" y2="273.5" stroke="#222" stroke-width="0.9" />
<line x1="266.1" y1="330.5" x2="267.7" y2="330.5" stroke="#222" stroke-width="0.6" />
<line x1="266.1" y1="327.5" x2="267.7" y2="327.5" stroke="#222" stroke-width="0.6" />
<line x1="266.1" y1="326.5" x2="267.7" y2="326.5" stroke="#222" stroke-width="0.6" />
<line x1="266.1" y1="325.5" x2="267.7" y2="325.5" stroke="#222" stroke-width="0.6" />
<line x1="266.1" y1="324.5" x2="267.7" y2="324.5" stroke="#222" stroke-width="0.6" />
<line x1="266.1" y1="323.5" x2="267.7" y2="323.5" stroke="#222" stroke-width="0.6" />
<line x1="266.1" y1="322.5" x2="267.7" y2="322.5" stroke="#222" stroke-width="0.6" />
<line x1="266.1" y1="322.5" x2="267.7" y2="322.5" stroke="#222" stroke-width="0.6" />
<line x1="266.1" y1="318.5" x2="267.7" y2="318.5" stroke="#222" stroke-width="0.6" />
<line x1="266.1" y1="315.5" x2="267.7" y2="315.5" stroke="#222" stroke-width="0.6" />
<line x1="266.1" y1="314.5" x2="267.7" y2="314.5" stroke="#222" stroke-width="0.6" />
<line x1="266.1" y1="313.5" x2="267.7" y2="313.5" stroke="#222" stroke-width="0.6" />
<line x1="266.1" y1="312.5" x2="267.7" y2="312.5" stroke="#222" stroke-width="0.6" />
<line x1="266.1" y1="311.5" x2="267.7" y2="311.5" stroke="#222" stroke-width="0.6" />
<line x1="266.1" y1="310.5" x2="267.7" y2="310.5" stroke="#222" stroke-width="0.6" />
<line x1="266.1" y1="310.5" x2="267.7" y2="310.5" stroke="#222" stroke-width="0.6" />
<line x1="266.1" y1="306.5" x2="267.7" y2="306.5" stroke="#222" stroke-width="0.6" />
<line x1="266.1" y1="303.5" x2="267.7" y2="303.5" stroke="#222" stroke-width="0.6" />
<line x1="266.1" y1="302.5" x2="267.7" y2="302.5" stroke="#222" stroke-width="0.6" />
<line x1="266.1" y1="301.5" x2="267.7" y2="301.5" stroke="#222" stroke-width="0.6" />
<line x1="266.1" y1="300.5" x2="267.7" y2="300.5" stroke="#222" stroke-width="0.6" />
<line x1="266.1" y1="299.5" x2="267.7" y2="299.5" stroke="#222" stroke-width="0.6" />
<line x1="266.1" y1="298.5" x2="267.7" y2="298.5" stroke="#222" stroke-width="0.6" />
<line x1="266.1" y1="298.5" x2="267.7" y2="298.5" stroke="#222" stroke-width="0.6" />
<line x1="266.1" y1="294.5" x2="267.7" y2="294.5" stroke="#222" stroke-width="0.6" />
<line x1="266.1" y1="291.5" x2="267.7" y2="291.5" stroke="#222" stroke-width="0.6" />
<line x1="266.1" y1="290.5" x2="267.7" y2="290.5" stroke="#222" stroke-width="0.6" />
<line x1="266.1" y1="289.5" x2="267.7" y2="289.5" stroke="#222" stroke-width="0.6" />
<line x1="266.1" y1="288.5" x2="267.7" y2="288.5" stroke="#222" stroke-width="0.6" />
<line x1="266.1" y1="287.5" x2="267.7" y2="287.5" stroke="#222" stroke-width="0.6" />
<line x1="266.1" y1="286.5" x2="267.7" y2="286.5" stroke="#222" stroke-width="0.6" />
<line x1="266.1" y1="286.5" x2="267.7" y2="286.5" stroke="#222" stroke-width="0.6" />
<line x1="266.1" y1="282.5" x2="267.7" y2="282.5" stroke="#222" stroke-width="0.6" />
<line x1="266.1" y1="279.5" x2="267.7" y2="279.5" stroke="#222" stroke-width="0.6" />
<line x1="266.1" y1="278.5" x2="267.7" y2="278.5" stroke="#222" stroke-width="0.6" />
<line x1="266.1" y1="277.5" x2="267.7" y2="277.5" stroke="#222" stroke-width="0.6" />
<line x1="266.1" y1="276.5" x2="267.7" y2="276.5" stroke="#222" stroke-width="0.6" />
<line x1="266.1" y1="275.5" x2="267.7" y2="275.5" stroke="#222" stroke-width="0.6" />
<line x1="266.1" y1="274.5" x2="267.7" y2="274.5" stroke="#222" stroke-width="0.6" />
<line x1="266.1" y1="274.5" x2="267.7" y2="274.5" stroke="#222" stroke-width="0.6" />
<line x1="266.1" y1="270.5" x2="267.7" y2="270.5" stroke="#222" stroke-width="0.6" />
<line x1="266.1" y1="267.5" x2="267.7" y2="267.5" stroke="#222" stroke-width="0.6" />
<line x1="267.5" y1="334.6" x2="267.5" y2="337.4" stroke="#222" stroke-width="0.9" />
<line x1="270.5" y1="334.6" x2="270.5" y2="336" stroke="#333" stroke-width="0.5" />
<line x1="273.5" y1="334.6" x2="273.5" y2="336" stroke="#333" stroke-width="0.5" />
<line x1="275.5" y1="334.6" x2="275.5" y2="336" stroke="#333" stroke-width="0.5" />
<line x1="278.5" y1="334.6" x2="278.5" y2="337.4" stroke="#222" stroke-width="0.9" />
<line x1="281.5" y1="334.6" x2="281.5" y2="336" stroke="#333" stroke-width="0.5" />
<line x1="284.5" y1="334.6" x2="284.5" y2="336" stroke="#333" stroke-width="0.5" />
<line x1="286.5" y1="334.6" x2="286.5" y2="336" stroke="#333" stroke-width="0.5" />
<line x1="289.5" y1="334.6" x2="289.5" y2="337.4" stroke="#222" stroke-width="0.9" />
<line x1="292.5" y1="334.6" x2="292.5" y2="336" stroke="#333" stroke-width="0.5" />
<line x1="294.5" y1="334.6" x2="294.5" y2="336" stroke="#333" stroke-width="0.5" />
<line x1="297.5" y1="334.6" x2="297.5" y2="336" stroke="#333" stroke-width="0.5" />
<line x1="300.5" y1="334.6" x2="300.5" y2="337.4" stroke="#222" stroke-width="0.9" />
<line x1="303.5" y1="334.6" x2="303.5" y2="336" stroke="#333" stroke-width="0.5" />
<line x1="305.5" y1="334.6" x2="305.5" y2="336" stroke="#333" stroke-width="0.5" />
<line x1="308.5" y1="334.6" x2="308.5" y2="336" stroke="#333" stroke-width="0.5" />
<line x1="311.5" y1="334.6" x2="311.5" y2="337.4" stroke="#222" stroke-width="0.9" />
<line x1="314.5" y1="334.6" x2="314.5" y2="336" stroke="#333" stroke-width="0.5" />
<line x1="316.5" y1="334.6" x2="316.5" y2="336" stroke="#333" stroke-width="0.5" />
<line x1="319.5" y1="334.6" x2="319.5" y2="336" stroke="#333" stroke-width="0.5" />
<line x1="322.5" y1="334.6" x2="322.5" y2="337.4" stroke="#222" stroke-width="0.9" />
<line x1="324.5" y1="334.6" x2="324.5" y2="336" stroke="#333" stroke-width="0.5" />
<line x1="327.5" y1="334.6" x2="327.5" y2="336" stroke="#333" stroke-width="0.5" />
<line x1="330.5" y1="334.6" x2="330.5" y2="336" stroke="#333" stroke-width="0.5" />
<line x1="333.5" y1="334.6" x2="333.5" y2="337.4" stroke="#222" stroke-width="0.9" />
<clipPath id="cp3"><rect x="268.3" y="266.8" width="65.1" height="67.2"/></clipPath><g clip-path="url(#cp3)">
<ellipse cx="295" cy="300" rx="22" ry="24" fill="#5a6cf0" opacity="0.18" filter="url(#bl3)"/>
<ellipse cx="293" cy="288" rx="15" ry="9" fill="#4a6af5" opacity="0.45" filter="url(#bl2)"/>
<ellipse cx="283" cy="306" rx="8" ry="9" fill="#4060f0" opacity="0.55" filter="url(#bl2)"/>
<ellipse cx="303" cy="306" rx="6" ry="6" fill="#5a80f5" opacity="0.35" filter="url(#bl2)"/>
<path d="M294.1 317.7h0.6M286.4 274.8h0.6M298.1 306.7h0.6M299.7 305.4h0.6M294.4 291.2h0.6M287.5 296.2h0.6M291.8 311.3h0.6M302.9 282.8h0.6M303.8 298.9h0.6M308.5 319.0h0.6M302.3 276.1h0.6M303.4 278.9h0.6M313.6 290.8h0.6M294.1 323.3h0.6M276.6 299.8h0.6M284.3 292.6h0.6M287.3 308.4h0.6M292.9 304.0h0.6M303.3 276.9h0.6M311.8 296.2h0.6M277.8 290.8h0.6M305.9 312.6h0.6M288.6 300.8h0.6M298.9 313.1h0.6M294.7 312.4h0.6M286.3 290.0h0.6M303.7 309.1h0.6M295.7 307.5h0.6M298.6 309.7h0.6M309.3 306.4h0.6M305.5 294.3h0.6M290.0 268.4h0.6M300.9 299.9h0.6M302.2 274.7h0.6M290.8 292.1h0.6M276.0 311.5h0.6M310.0 282.6h0.6M301.3 322.4h0.6M282.7 312.6h0.6M314.1 324.3h0.6M281.0 285.4h0.6M298.6 315.5h0.6M282.1 289.5h0.6M283.7 314.2h0.6M290.0 307.1h0.6M303.5 315.0h0.6M301.0 304.0h0.6M309.3 305.9h0.6M282.1 292.4h0.6M306.5 301.4h0.6M292.3 302.8h0.6M333.6 298.9h0.6M301.7 305.6h0.6M293.2 315.4h0.6M306.0 304.8h0.6M281.0 316.3h0.6M304.9 298.4h0.6M265.9 298.7h0.6M282.6 296.5h0.6M290.5 288.5h0.6M307.7 301.0h0.6M310.2 286.6h0.6M294.1 317.7h0.6M300.0 289.8h0.6M286.2 291.6h0.6M295.3 308.7h0.6M297.9 309.6h0.6M305.8 301.1h0.6M310.8 309.4h0.6M294.2 297.3h0.6M296.1 289.6h0.6M281.1 300.0h0.6M290.5 307.3h0.6M289.5 300.8h0.6M298.5 293.2h0.6M298.4 289.8h0.6M291.4 310.2h0.6M300.6 299.4h0.6M287.4 308.8h0.6M318.8 270.4h0.6M308.1 302.4h0.6M308.6 315.0h0.6M284.7 322.7h0.6M289.5 296.1h0.6M303.3 298.3h0.6M299.2 292.5h0.6M284.5 299.7h0.6M283.9 317.3h0.6M299.0 318.2h0.6M282.1 271.7h0.6M270.4 294.4h0.6M281.6 304.2h0.6M279.7 280.9h0.6M299.4 294.1h0.6M303.8 310.2h0.6M300.2 283.2h0.6M286.4 329.6h0.6M293.6 303.3h0.6M297.6 299.0h0.6M294.2 291.9h0.6M290.3 272.5h0.6M315.0 297.9h0.6M281.4 306.3h0.6M303.7 280.1h0.6M290.3 319.3h0.6M302.3 305.1h0.6M307.4 297.6h0.6M292.9 320.6h0.6M294.1 298.3h0.6M303.4 299.8h0.6M282.3 324.6h0.6M295.4 323.3h0.6M301.9 287.3h0.6M313.6 297.1h0.6M286.5 299.0h0.6M272.0 304.8h0.6M288.0 296.0h0.6M286.1 308.4h0.6M300.2 313.8h0.6M314.9 303.1h0.6M297.2 303.5h0.6M287.0 292.1h0.6M304.7 287.9h0.6M274.3 294.7h0.6M299.0 319.0h0.6M288.1 286.9h0.6M297.2 297.3h0.6M299.0 292.5h0.6M298.4 291.7h0.6M307.2 303.1h0.6M302.6 293.5h0.6M280.0 299.5h0.6M295.5 314.0h0.6M307.0 298.9h0.6M295.6 286.2h0.6M295.7 302.1h0.6M291.5 284.9h0.6M310.5 287.0h0.6M314.7 315.0h0.6M313.4 288.1h0.6M303.1 280.8h0.6M292.0 279.0h0.6M287.9 292.6h0.6M306.8 313.6h0.6M291.9 295.5h0.6M285.5 284.1h0.6M276.0 296.4h0.6M302.7 289.1h0.6M300.1 284.0h0.6M284.8 292.1h0.6M305.9 292.2h0.6M304.6 294.5h0.6M283.6 272.6h0.6M290.7 286.5h0.6M306.1 305.0h0.6M277.7 310.2h0.6M301.9 260.8h0.6M284.3 302.3h0.6M278.2 289.5h0.6M301.7 302.4h0.6M300.9 307.1h0.6M286.1 330.5h0.6M301.7 327.2h0.6M292.9 306.4h0.6M299.7 297.1h0.6M299.4 302.4h0.6M304.9 303.2h0.6M296.5 305.4h0.6M311.9 300.0h0.6M302.6 300.9h0.6M274.1 287.2h0.6M285.7 280.8h0.6M289.0 275.9h0.6M298.9 292.0h0.6M309.4 304.0h0.6M281.7 296.1h0.6M296.4 290.1h0.6M291.8 284.8h0.6M287.7 302.6h0.6M292.1 314.8h0.6M272.4 288.6h0.6M291.7 318.2h0.6M308.1 308.8h0.6M306.6 319.7h0.6M303.2 295.8h0.6M297.8 289.5h0.6M293.2 303.7h0.6M290.2 300.2h0.6M290.9 281.7h0.6M279.8 307.8h0.6M296.0 309.6h0.6M294.5 298.6h0.6M298.6 294.4h0.6M310.8 311.8h0.6M300.0 285.1h0.6M289.7 301.4h0.6M308.3 298.1h0.6M295.2 305.4h0.6M296.8 296.6h0.6M283.1 314.5h0.6M294.9 291.8h0.6M294.3 281.3h0.6M277.0 275.3h0.6M299.5 281.2h0.6M296.6 283.0h0.6M275.8 290.4h0.6M287.2 289.4h0.6M314.3 300.9h0.6M288.7 309.6h0.6M291.7 314.1h0.6M278.1 312.4h0.6M283.3 288.7h0.6M297.4 284.3h0.6M277.2 293.1h0.6M291.9 276.9h0.6M305.9 287.5h0.6M288.3 295.1h0.6M295.6 311.9h0.6M271.4 298.2h0.6M304.8 301.2h0.6M294.2 283.6h0.6M298.8 291.7h0.6M296.5 284.3h0.6M291.6 296.2h0.6M278.8 311.4h0.6M293.7 281.3h0.6M292.3 299.7h0.6M291.2 284.6h0.6M292.5 280.3h0.6M276.7 313.3h0.6M313.8 322.3h0.6M319.9 315.6h0.6M284.8 290.6h0.6M307.1 291.9h0.6M291.1 297.8h0.6M299.6 280.3h0.6M295.4 304.4h0.6M272.4 312.6h0.6M303.5 287.4h0.6M315.2 303.4h0.6M300.3 318.1h0.6M266.7 298.1h0.6M306.7 316.5h0.6M294.6 295.6h0.6M286.6 293.7h0.6M285.6 266.8h0.6M288.5 284.9h0.6M288.4 292.0h0.6M289.6 299.3h0.6M294.3 293.3h0.6M288.2 296.6h0.6M291.5 296.3h0.6M310.2 301.1h0.6M290.6 271.3h0.6M279.0 259.5h0.6M304.7 312.3h0.6M290.5 291.9h0.6M300.2 305.4h0.6M275.9 294.7h0.6M291.5 281.6h0.6M310.6 307.7h0.6M288.3 297.4h0.6M288.9 291.4h0.6M290.6 311.3h0.6M295.0 291.8h0.6M287.5 301.4h0.6M285.4 277.0h0.6M293.4 318.7h0.6M287.5 300.0h0.6M292.8 313.9h0.6M300.2 281.5h0.6M314.2 298.1h0.6M284.9 291.4h0.6M295.7 312.0h0.6M291.9 288.3h0.6M309.6 318.4h0.6M291.1 299.8h0.6M299.1 294.0h0.6M284.9 311.6h0.6M282.9 274.1h0.6M301.4 313.1h0.6M304.0 288.0h0.6M292.3 283.8h0.6M289.2 266.0h0.6M285.4 316.0h0.6M282.1 320.5h0.6M296.9 272.4h0.6M305.4 285.5h0.6M301.1 295.7h0.6M291.1 295.7h0.6M280.5 288.1h0.6M290.6 321.2h0.6M288.7 302.3h0.6M300.0 314.0h0.6M292.5 300.7h0.6M284.8 331.1h0.6M278.6 301.4h0.6M291.2 300.2h0.6M289.2 292.2h0.6M306.0 310.5h0.6M294.3 296.3h0.6M297.1 297.1h0.6M299.9 308.0h0.6M300.3 277.5h0.6M294.5 284.2h0.6M300.0 294.3h0.6M298.4 297.0h0.6M305.4 315.8h0.6M297.0 278.7h0.6M295.2 324.1h0.6M287.6 297.2h0.6M322.1 320.2h0.6M302.3 301.1h0.6M280.6 319.6h0.6M305.3 276.2h0.6M293.9 296.5h0.6M294.5 289.6h0.6M322.6 286.8h0.6M311.3 306.5h0.6M295.3 304.1h0.6M303.4 288.1h0.6M291.1 314.0h0.6M305.6 303.4h0.6M282.0 277.0h0.6M311.7 317.2h0.6M300.9 303.4h0.6M291.6 304.8h0.6M308.5 308.3h0.6M289.3 303.0h0.6M289.4 297.4h0.6M283.1 267.5h0.6M283.7 300.8h0.6M286.5 305.4h0.6M289.1 302.2h0.6M290.2 317.1h0.6M290.9 298.6h0.6M307.9 317.7h0.6M282.5 317.5h0.6M283.6 285.8h0.6M286.1 311.5h0.6M283.6 306.0h0.6M299.9 295.9h0.6M300.4 325.4h0.6M313.1 287.5h0.6M298.3 293.3h0.6M293.9 291.4h0.6M301.4 287.3h0.6M281.7 299.1h0.6M298.9 314.2h0.6M302.8 287.2h0.6M285.3 302.7h0.6M298.3 307.9h0.6M309.9 269.3h0.6M288.6 305.6h0.6M283.6 320.2h0.6M294.5 306.2h0.6M293.1 303.1h0.6M299.8 305.5h0.6M280.3 273.7h0.6M294.5 308.8h0.6M292.7 296.3h0.6M307.2 307.0h0.6M285.0 300.7h0.6M293.1 299.3h0.6M294.6 306.1h0.6M295.3 302.9h0.6M295.8 295.8h0.6M289.2 302.1h0.6M300.4 319.0h0.6M322.7 289.8h0.6M288.3 312.2h0.6M290.9 300.2h0.6M281.6 306.3h0.6M279.5 311.5h0.6M286.3 301.6h0.6M306.3 287.7h0.6M294.2 326.1h0.6M280.2 300.2h0.6M273.7 303.1h0.6M293.6 284.0h0.6M282.5 314.7h0.6M302.8 282.9h0.6M304.4 286.6h0.6M286.7 303.8h0.6M294.2 305.4h0.6M307.4 290.3h0.6M301.5 302.5h0.6M277.3 308.8h0.6M306.5 280.7h0.6M291.9 311.2h0.6M305.3 293.8h0.6M292.9 294.6h0.6M282.0 299.9h0.6M318.6 280.2h0.6M295.1 286.3h0.6M312.0 277.2h0.6M305.3 304.3h0.6M286.1 294.5h0.6M296.1 320.8h0.6M298.5 314.0h0.6M307.1 299.8h0.6M295.9 297.7h0.6M313.4 315.5h0.6M306.2 290.1h0.6M292.4 308.5h0.6M293.5 281.0h0.6M279.1 304.6h0.6M303.9 305.5h0.6M312.5 278.2h0.6M275.9 300.0h0.6M305.0 287.5h0.6M298.2 302.8h0.6M290.2 287.5h0.6M291.8 297.4h0.6M303.4 294.6h0.6M284.8 284.4h0.6M290.3 305.0h0.6M285.9 293.6h0.6M301.1 301.8h0.6M317.8 304.8h0.6M299.6 297.7h0.6M274.6 278.5h0.6M285.5 287.7h0.6M305.0 290.5h0.6M287.9 279.9h0.6M296.8 285.8h0.6M283.5 280.8h0.6M300.1 285.6h0.6M295.1 286.5h0.6M285.4 284.6h0.6M286.9 286.6h0.6M286.1 290.1h0.6M283.1 288.2h0.6M294.2 290.0h0.6M262.8 290.1h0.6M296.3 284.7h0.6M289.3 284.9h0.6M277.9 301.7h0.6M290.5 289.0h0.6M280.7 284.5h0.6M268.8 286.2h0.6M283.5 286.6h0.6M296.4 293.4h0.6M292.6 281.1h0.6M287.1 289.4h0.6M310.4 274.2h0.6M279.5 283.0h0.6M290.4 289.6h0.6M306.0 289.4h0.6M306.3 283.2h0.6M283.8 278.2h0.6M284.0 289.8h0.6M291.8 296.4h0.6M288.5 281.3h0.6M297.0 276.1h0.6M299.8 288.0h0.6M277.5 288.6h0.6M293.6 292.4h0.6M288.7 283.4h0.6M291.3 285.5h0.6M280.8 290.7h0.6M300.8 282.5h0.6M285.5 280.6h0.6M286.4 282.6h0.6M290.9 289.4h0.6M306.1 281.4h0.6M283.3 280.2h0.6M290.5 289.9h0.6M282.0 285.9h0.6M280.9 278.8h0.6M285.5 290.0h0.6M287.2 277.1h0.6M280.7 284.3h0.6M310.5 279.9h0.6M318.9 290.8h0.6M303.5 290.6h0.6M265.2 287.0h0.6M293.3 288.5h0.6M303.7 285.6h0.6M282.8 288.4h0.6M292.6 288.2h0.6M286.5 285.8h0.6M260.0 287.1h0.6M301.5 286.6h0.6M290.4 289.2h0.6M288.1 285.0h0.6M308.6 294.9h0.6M273.4 283.2h0.6M294.4 290.0h0.6M279.5 283.4h0.6M298.1 292.3h0.6M282.1 284.8h0.6M288.7 292.0h0.6M296.5 288.5h0.6M310.7 290.4h0.6M293.1 294.5h0.6M308.6 293.9h0.6M310.8 288.6h0.6M271.6 284.9h0.6M294.2 286.5h0.6M300.2 288.2h0.6M312.3 289.7h0.6M302.3 292.9h0.6M307.7 284.4h0.6M307.4 286.8h0.6M272.4 295.7h0.6M295.6 293.2h0.6M282.2 290.2h0.6M285.5 299.1h0.6M308.5 286.6h0.6M268.5 287.2h0.6M296.0 286.5h0.6M296.6 285.4h0.6M299.4 289.1h0.6M285.1 291.2h0.6M298.5 286.2h0.6M285.8 282.3h0.6M316.4 298.9h0.6M300.9 284.7h0.6M300.5 283.0h0.6M282.4 276.8h0.6M286.9 283.4h0.6M303.6 288.8h0.6M286.0 285.1h0.6M291.4 286.6h0.6M292.8 292.7h0.6M277.5 287.9h0.6M293.9 291.0h0.6M292.1 282.9h0.6M301.2 292.7h0.6M285.2 292.4h0.6M319.1 284.4h0.6M299.9 274.0h0.6M295.5 282.4h0.6M297.7 285.9h0.6M296.0 292.7h0.6M302.7 291.8h0.6M286.4 286.0h0.6M292.8 284.9h0.6M285.0 287.3h0.6M298.2 285.9h0.6M281.4 292.4h0.6M286.9 295.9h0.6M296.0 288.3h0.6M305.7 287.5h0.6M280.7 287.8h0.6M272.8 288.8h0.6M294.2 289.8h0.6M293.2 296.5h0.6M294.8 284.7h0.6M323.1 287.1h0.6M300.9 286.2h0.6M290.0 286.7h0.6M286.9 286.8h0.6M290.6 284.3h0.6M284.8 285.2h0.6M268.7 288.4h0.6M266.2 285.0h0.6M291.7 283.5h0.6M292.7 296.2h0.6M293.9 284.3h0.6M296.1 283.1h0.6M273.7 282.7h0.6M298.4 285.5h0.6M297.9 290.1h0.6M272.6 279.0h0.6M283.3 280.0h0.6M298.0 281.9h0.6M280.3 293.3h0.6M277.9 279.9h0.6M304.2 286.9h0.6M290.1 289.2h0.6M285.5 284.8h0.6M288.3 292.4h0.6M291.0 279.5h0.6M278.9 288.8h0.6M277.6 279.0h0.6M285.1 278.1h0.6M294.1 296.7h0.6M311.3 287.3h0.6M306.6 287.6h0.6M292.1 289.9h0.6M292.8 284.3h0.6M291.2 285.1h0.6M295.6 291.8h0.6M279.8 283.9h0.6M280.2 294.7h0.6M299.4 287.6h0.6M282.2 291.3h0.6M281.2 278.4h0.6M284.6 292.8h0.6M290.8 284.3h0.6M285.7 291.0h0.6M283.1 283.4h0.6M297.3 289.6h0.6M291.0 288.9h0.6M295.8 276.5h0.6M292.3 283.5h0.6M290.8 286.3h0.6M294.9 290.7h0.6M282.2 283.2h0.6M287.3 286.2h0.6M276.4 286.9h0.6M299.7 283.6h0.6M273.8 290.2h0.6M306.1 288.9h0.6M307.5 292.4h0.6M291.3 285.3h0.6M315.9 290.2h0.6M288.4 293.2h0.6M284.4 284.6h0.6M306.0 291.7h0.6M287.6 291.5h0.6M300.5 275.8h0.6M291.0 291.4h0.6M294.7 281.6h0.6M300.6 284.0h0.6M300.7 288.4h0.6M303.6 283.1h0.6M311.3 285.5h0.6M281.7 303.6h0.6M282.1 307.6h0.6M281.2 310.6h0.6M285.7 305.7h0.6M282.4 308.1h0.6M287.4 314.6h0.6M278.1 311.1h0.6M286.3 298.6h0.6M284.9 316.7h0.6M280.3 299.7h0.6M271.9 306.9h0.6M281.6 305.8h0.6M286.9 299.5h0.6M282.1 317.3h0.6M290.4 302.9h0.6M273.7 308.6h0.6M284.4 308.0h0.6M278.0 311.1h0.6M278.4 300.1h0.6M278.2 306.3h0.6M282.3 299.4h0.6M284.7 314.6h0.6M274.4 309.8h0.6M278.7 290.4h0.6M283.5 299.8h0.6M281.0 302.6h0.6M268.5 300.9h0.6M286.8 311.3h0.6M275.8 311.0h0.6M285.8 315.5h0.6M292.8 317.0h0.6M289.3 311.2h0.6M283.0 299.4h0.6M282.4 312.6h0.6M287.3 302.9h0.6M271.5 301.3h0.6M273.9 308.1h0.6M275.4 300.4h0.6M281.1 304.7h0.6M283.6 311.8h0.6M284.2 314.9h0.6M278.8 309.8h0.6M297.6 309.2h0.6M279.6 307.4h0.6M281.9 304.8h0.6M290.3 318.4h0.6M280.7 302.1h0.6M288.4 314.2h0.6M283.2 312.3h0.6M281.7 315.3h0.6M283.1 309.0h0.6M286.6 301.0h0.6M284.3 308.5h0.6M288.1 303.2h0.6M272.8 303.1h0.6M285.3 307.4h0.6M285.1 316.0h0.6M287.9 312.0h0.6M284.4 301.1h0.6M282.3 305.5h0.6M278.2 307.6h0.6M280.7 301.7h0.6M277.3 296.1h0.6M291.3 302.5h0.6M279.5 292.2h0.6M282.1 307.5h0.6M284.6 301.7h0.6M276.8 319.6h0.6M280.8 308.9h0.6M283.3 306.7h0.6M290.3 310.0h0.6M286.7 315.5h0.6M287.2 307.1h0.6M277.4 312.1h0.6M282.7 298.0h0.6M286.4 318.0h0.6M288.1 309.1h0.6M291.1 310.2h0.6M277.7 308.1h0.6M286.4 305.2h0.6M278.6 299.4h0.6M290.7 311.4h0.6M278.6 315.2h0.6M283.1 301.6h0.6M278.9 310.8h0.6M288.2 311.6h0.6M281.0 292.0h0.6M277.1 309.6h0.6M277.6 299.2h0.6M276.5 294.1h0.6M290.0 294.0h0.6M277.1 309.7h0.6M286.0 313.3h0.6M278.3 306.6h0.6M292.4 302.0h0.6M284.8 302.4h0.6M274.4 301.3h0.6M277.9 312.0h0.6M287.2 320.3h0.6M278.1 304.1h0.6M285.5 303.3h0.6M278.0 305.8h0.6M287.7 302.8h0.6M291.8 303.3h0.6M288.1 312.1h0.6M280.1 307.2h0.6M289.6 299.2h0.6M288.7 305.7h0.6M287.5 313.9h0.6M285.1 302.9h0.6M283.3 300.1h0.6M272.2 318.2h0.6M278.8 291.9h0.6M284.5 295.9h0.6M284.9 316.6h0.6M289.9 313.0h0.6M281.1 301.4h0.6M271.8 299.4h0.6M281.3 302.4h0.6M291.5 304.6h0.6M281.3 312.9h0.6M280.0 312.4h0.6M285.6 302.0h0.6M287.0 305.2h0.6M280.4 311.0h0.6M283.6 304.2h0.6M288.0 316.1h0.6M282.9 303.5h0.6M281.5 308.0h0.6M288.8 296.8h0.6M291.5 309.6h0.6M283.3 324.2h0.6M289.9 318.9h0.6M281.2 314.3h0.6M274.5 303.8h0.6M277.7 315.4h0.6M285.3 298.6h0.6M288.2 309.1h0.6M286.1 326.3h0.6M273.9 313.0h0.6M279.6 309.3h0.6M285.9 315.9h0.6M287.6 311.0h0.6M270.8 304.2h0.6M284.0 305.0h0.6M279.7 311.9h0.6M283.4 304.2h0.6M281.6 302.3h0.6M279.3 303.5h0.6M287.7 317.3h0.6M285.5 302.2h0.6M280.6 310.0h0.6M280.0 312.0h0.6M291.1 316.3h0.6M279.4 308.6h0.6M282.8 310.5h0.6M277.9 308.0h0.6M284.2 301.9h0.6M283.7 310.6h0.6M282.2 303.6h0.6M304.2 307.7h0.6M298.7 304.8h0.6M302.9 301.3h0.6M305.1 302.9h0.6M296.7 311.9h0.6M309.2 299.4h0.6M300.5 300.7h0.6M292.8 311.1h0.6M300.4 310.4h0.6M300.5 300.2h0.6M306.7 303.5h0.6M306.8 298.7h0.6M310.2 314.4h0.6M299.4 295.0h0.6M292.8 304.4h0.6M292.6 303.6h0.6M304.0 302.9h0.6M305.2 304.0h0.6M298.4 305.7h0.6M299.2 307.5h0.6M300.2 313.7h0.6M298.1 309.6h0.6M304.7 308.4h0.6M301.1 301.2h0.6M293.0 301.5h0.6M306.3 308.1h0.6M307.3 299.7h0.6M304.0 303.3h0.6M294.2 310.2h0.6M310.7 304.5h0.6M307.5 305.1h0.6M297.2 295.9h0.6M306.6 311.9h0.6M300.6 311.6h0.6M306.9 302.3h0.6M307.3 310.1h0.6M299.6 303.9h0.6M304.4 302.0h0.6M296.7 306.9h0.6M313.5 307.8h0.6M300.1 303.1h0.6M310.3 301.6h0.6M298.2 302.7h0.6M301.7 302.7h0.6M302.0 306.3h0.6M309.4 308.3h0.6M293.5 304.3h0.6M297.7 299.7h0.6M300.6 301.6h0.6M302.6 302.9h0.6M309.8 304.7h0.6M296.1 308.9h0.6M299.0 307.5h0.6M294.2 296.5h0.6M294.1 300.4h0.6M293.2 314.0h0.6M310.6 302.3h0.6M312.4 311.6h0.6M297.9 303.8h0.6M305.7 300.0h0.6M306.1 300.4h0.6M308.4 316.5h0.6M304.1 311.9h0.6M303.3 307.9h0.6M297.9 306.2h0.6M310.4 311.9h0.6M296.7 303.4h0.6M305.6 309.8h0.6M302.6 299.1h0.6M299.5 308.8h0.6M307.7 302.8h0.6M304.9 313.2h0.6M298.0 300.0h0.6M302.3 311.5h0.6M302.2 307.2h0.6M295.9 307.0h0.6M292.2 306.0h0.6M300.5 313.3h0.6M306.4 298.7h0.6M310.2 317.1h0.6M303.5 307.2h0.6M299.5 303.7h0.6M301.5 308.5h0.6M303.5 304.7h0.6M296.5 319.7h0.6M308.4 311.5h0.6M299.8 302.5h0.6M300.9 303.9h0.6M307.7 297.5h0.6M302.5 304.7h0.6M301.6 308.6h0.6M303.9 305.9h0.6M304.3 294.0h0.6M306.2 304.4h0.6M304.8 304.2h0.6M295.4 309.4h0.6M299.6 307.3h0.6M299.2 302.8h0.6M308.2 298.3h0.6M311.1 310.6h0.6M303.8 309.4h0.6M315.0 305.1h0.6M293.7 301.3h0.6M299.8 303.9h0.6M295.7 305.4h0.6M306.4 308.8h0.6M303.5 298.8h0.6M305.4 307.2h0.6M305.6 305.6h0.6M309.0 300.4h0.6M302.0 309.8h0.6M301.0 307.7h0.6M308.7 320.1h0.6M293.4 306.2h0.6M304.0 302.7h0.6M302.8 296.9h0.6M307.1 308.3h0.6M298.1 310.1h0.6M297.9 304.0h0.6M314.0 297.6h0.6" stroke="#2e38dc" stroke-width="0.6" fill="none" opacity="0.85"/>
<path d="M276.5 287.2h0.6M294.5 293.6h0.6M305.3 287.6h0.6M282.5 283.2h0.6M289.6 290.9h0.6M287.5 286.7h0.6M282.1 288.1h0.6M309.2 285.6h0.6M290.0 282.3h0.6M291.0 283.6h0.6M283.0 290.8h0.6M291.8 287.1h0.6M294.9 286.3h0.6M292.5 284.8h0.6M296.7 282.6h0.6M285.3 285.7h0.6M292.9 280.3h0.6M287.3 282.4h0.6M291.8 290.4h0.6M284.1 287.4h0.6M303.0 285.2h0.6M296.7 282.4h0.6M278.4 289.1h0.6M293.5 292.0h0.6M292.1 283.4h0.6M300.2 292.3h0.6M300.3 283.8h0.6M295.1 288.2h0.6M287.6 285.0h0.6M303.9 287.7h0.6M295.4 285.1h0.6M295.0 285.6h0.6M294.2 287.8h0.6M286.4 286.6h0.6M287.4 286.2h0.6M280.4 285.6h0.6M289.3 287.8h0.6M289.7 280.7h0.6M292.6 274.6h0.6M286.6 289.7h0.6M285.9 284.1h0.6M284.9 287.1h0.6M286.3 288.3h0.6M295.6 281.2h0.6M306.5 281.4h0.6M290.7 288.4h0.6M275.7 284.8h0.6M298.1 288.5h0.6M289.4 286.1h0.6M303.6 280.9h0.6M286.8 291.6h0.6M294.0 287.6h0.6M288.4 283.6h0.6M282.7 290.6h0.6M293.4 281.0h0.6M297.8 283.7h0.6M301.6 280.7h0.6M287.4 284.9h0.6M279.7 287.7h0.6M299.4 284.8h0.6M283.0 279.8h0.6M297.5 285.2h0.6M288.0 286.3h0.6M295.3 280.1h0.6M300.6 284.6h0.6M292.6 285.2h0.6M294.6 289.9h0.6M283.8 284.9h0.6M283.5 284.2h0.6M291.7 285.1h0.6M293.7 285.0h0.6M303.8 286.4h0.6M306.2 286.1h0.6M285.8 289.1h0.6M302.5 283.0h0.6M293.6 283.6h0.6M286.0 287.6h0.6M294.6 289.7h0.6M288.1 288.6h0.6M302.4 286.5h0.6M288.8 287.9h0.6M300.5 281.8h0.6M294.7 293.0h0.6M293.9 284.8h0.6M295.8 286.7h0.6M304.0 283.1h0.6M282.2 284.4h0.6M302.5 285.3h0.6M298.3 286.5h0.6M293.4 290.8h0.6M291.4 290.9h0.6M305.8 287.9h0.6M296.3 287.5h0.6M293.1 285.4h0.6M301.5 288.9h0.6M293.3 285.8h0.6M300.0 289.7h0.6M288.9 291.9h0.6M290.3 288.5h0.6M292.0 285.3h0.6M296.9 284.7h0.6M291.5 279.3h0.6M298.9 282.0h0.6M299.7 288.1h0.6M297.9 291.1h0.6M297.9 286.1h0.6M288.9 281.5h0.6M301.1 281.2h0.6M299.5 282.8h0.6M279.7 289.8h0.6M294.4 286.8h0.6M290.6 293.5h0.6M288.1 288.0h0.6M299.0 291.3h0.6M293.1 288.3h0.6M289.7 280.7h0.6M289.7 291.9h0.6M288.6 282.7h0.6M303.6 283.8h0.6M294.8 286.4h0.6M290.3 281.3h0.6M305.5 290.4h0.6M296.2 287.4h0.6M290.7 290.8h0.6M286.0 278.5h0.6M292.8 287.0h0.6M294.9 288.0h0.6M297.7 283.1h0.6M284.8 288.1h0.6M296.1 285.0h0.6M289.0 287.6h0.6M294.5 293.7h0.6M298.9 288.0h0.6M305.9 280.5h0.6M290.4 282.7h0.6M280.9 286.1h0.6M310.8 286.0h0.6M278.2 280.6h0.6M285.0 287.8h0.6M302.7 280.4h0.6M297.4 281.7h0.6M302.2 287.4h0.6M293.9 282.1h0.6M281.0 282.2h0.6M292.4 290.3h0.6M307.8 279.4h0.6M294.1 285.7h0.6M284.0 282.3h0.6M301.0 279.7h0.6M284.7 286.4h0.6M305.6 289.7h0.6M292.8 279.1h0.6M289.1 288.1h0.6M286.9 290.5h0.6M293.0 286.2h0.6M286.2 287.3h0.6M284.4 284.3h0.6M297.4 285.9h0.6M313.0 281.0h0.6M287.9 282.5h0.6M278.3 318.5h0.6M274.3 308.0h0.6M281.6 305.2h0.6M279.2 307.3h0.6M281.4 308.5h0.6M279.8 308.4h0.6M282.9 316.0h0.6M281.3 312.0h0.6M284.6 309.1h0.6M284.2 306.7h0.6M281.2 305.1h0.6M276.5 304.3h0.6M277.8 302.8h0.6M273.5 305.4h0.6M280.0 308.4h0.6M280.5 317.3h0.6M281.7 298.8h0.6M280.0 300.7h0.6M281.2 317.5h0.6M286.3 301.1h0.6M289.6 305.5h0.6M288.3 316.2h0.6M279.7 297.4h0.6M282.1 307.2h0.6M280.7 313.4h0.6M283.8 308.1h0.6M286.3 305.7h0.6M281.4 304.0h0.6M285.0 315.6h0.6M283.3 313.4h0.6M279.6 308.3h0.6M288.9 294.7h0.6M280.1 304.2h0.6M289.3 310.7h0.6M292.5 301.0h0.6M289.1 310.0h0.6M285.1 310.5h0.6M284.0 298.6h0.6M284.8 313.5h0.6M279.8 305.6h0.6M288.9 303.1h0.6M284.2 307.9h0.6M280.1 304.4h0.6M277.2 302.6h0.6M277.2 306.8h0.6M289.1 303.6h0.6M277.1 309.8h0.6M287.7 306.6h0.6M284.2 301.0h0.6M288.5 311.1h0.6M288.4 315.8h0.6M286.1 300.8h0.6M284.1 306.7h0.6M285.1 295.8h0.6M282.2 311.9h0.6M289.0 309.8h0.6M288.8 307.8h0.6M277.1 305.8h0.6M281.0 293.4h0.6M279.3 297.6h0.6M287.1 310.1h0.6M277.5 295.3h0.6M281.3 317.0h0.6M274.9 302.8h0.6M280.6 310.2h0.6M286.4 301.6h0.6M279.8 301.5h0.6M284.6 302.8h0.6M290.7 310.8h0.6M281.9 305.7h0.6M291.8 304.1h0.6M279.7 305.6h0.6M282.8 298.0h0.6M286.1 301.7h0.6M285.5 294.6h0.6M281.8 302.0h0.6M284.9 310.1h0.6M273.6 303.4h0.6M287.2 311.4h0.6M285.3 303.1h0.6M298.3 308.0h0.6M302.8 306.2h0.6M302.5 306.9h0.6M305.9 304.8h0.6M304.2 304.8h0.6M300.1 309.6h0.6M305.2 308.3h0.6M302.5 306.3h0.6M299.2 313.1h0.6M301.9 306.4h0.6M301.9 303.5h0.6M297.1 307.4h0.6M303.6 307.3h0.6M300.6 308.6h0.6M299.8 306.0h0.6M307.0 302.6h0.6M304.0 301.2h0.6M300.5 308.5h0.6M300.2 307.2h0.6M303.2 303.4h0.6M301.7 306.9h0.6M303.7 309.0h0.6M304.7 304.5h0.6M300.8 303.2h0.6M303.8 306.1h0.6M300.8 310.0h0.6M304.2 307.2h0.6M303.5 309.2h0.6M307.7 308.2h0.6M297.6 308.3h0.6M305.5 298.7h0.6M307.9 309.6h0.6M299.7 306.8h0.6M303.1 305.5h0.6M301.0 311.1h0.6M308.2 306.7h0.6M302.6 305.9h0.6M305.3 307.1h0.6M299.6 300.3h0.6M303.0 305.2h0.6" stroke="#3aa0f0" stroke-width="0.6" fill="none" opacity="0.9"/>
<rect x="278" y="278.5" width="30" height="21" rx="5" fill="#3c58f0" opacity="0.5" filter="url(#bl2)"/>
<path d="M282.5 300 C280.5 291 280.5 285 287 284 L300 283.5 C304.5 283.8 305 287 304 292" fill="none" stroke="#2fb8ee" stroke-width="8" stroke-linecap="round" opacity="0.75" filter="url(#bl2)"/>
<path d="M283 299 C281 291 281 285.5 287 284.5 L298 284" fill="none" stroke="#3cdc6a" stroke-width="5.4" stroke-linecap="round" opacity="0.85" filter="url(#bl1)"/>
<path d="M283 291 C282.5 287.5 283 286 287 285.5 L292 285.3" fill="none" stroke="#b8ee38" stroke-width="1.6" stroke-linecap="round" opacity="0.6" filter="url(#bl1)"/>
<ellipse cx="283" cy="307" rx="5.2" ry="6.2" fill="#3090f0" opacity="0.9" filter="url(#bl1)"/>
<ellipse cx="283" cy="307" rx="4.3" ry="5.2" fill="#28c8e8" opacity="0.95" filter="url(#bl05)"/>
<ellipse cx="283" cy="307" rx="3.35" ry="4.06" fill="#3ce05a" opacity="0.95" filter="url(#bl05)"/>
<ellipse cx="283" cy="307" rx="2.37" ry="2.86" fill="#e8f020" opacity="0.95" filter="url(#bl05)"/>
<ellipse cx="283" cy="307" rx="1.63" ry="1.98" fill="#ff8a10" opacity="0.95" filter="url(#bl05)"/>
<ellipse cx="283" cy="307" rx="0.95" ry="1.14" fill="#f01818" opacity="0.95" filter="url(#bl05)"/>
<ellipse cx="302.5" cy="305.5" rx="2.6" ry="2.6" fill="#40b8f0" opacity="0.7" filter="url(#bl1)"/>
</g>
<rect x="272.8" y="270.3" width="44.3" height="29.6" fill="none" stroke="#707070" stroke-width="0.65" />
<rect x="272.8" y="299.9" width="21.7" height="26.7" fill="none" stroke="#707070" stroke-width="0.65" />
<rect x="295.1" y="300.4" width="22.4" height="26.5" fill="none" stroke="#707070" stroke-width="0.65" />
<text transform="translate(300.8,276.99) scale(1.02,1)" font-size="7.2" text-anchor="start" fill="#333" >53</text>
<text transform="translate(273.4,321.59) scale(1.02,1)" font-size="7.2" text-anchor="start" fill="#333" >41</text>
<text transform="translate(298,321.59) scale(1.02,1)" font-size="7.2" text-anchor="start" fill="#333" >5.1</text>
<text transform="translate(115.66,319.7) rotate(-90) scale(1.013,1)" font-size="7.4" text-anchor="middle" fill="#1c1c1c" >BrdU-APC</text>
<line x1="120.5" y1="340.3" x2="120.5" y2="305" stroke="#222" stroke-width="0.8" />
<path d="M120 301.5L121.7 306.5L118.3 306.5Z" fill="#222"/>
<line x1="119.6" y1="340.5" x2="150.5" y2="340.5" stroke="#222" stroke-width="0.8" />
<path d="M154 340.3L149 338.6L149 342Z" fill="#222"/>
<text transform="translate(122.4,348.26)" font-size="7.4" text-anchor="start" fill="#1c1c1c" >DAPI</text>
<text transform="translate(354.3,255.6)" font-size="11.5" text-anchor="start" font-weight="bold" fill="#000" >M</text>
<line x1="384.5" y1="265.55" x2="384.5" y2="333.25" stroke="#1a1a1a" stroke-width="1.0" />
<line x1="381" y1="266.5" x2="384" y2="266.5" stroke="#1a1a1a" stroke-width="1.0" />
<text transform="translate(379.4,268.81)" font-size="7.8" text-anchor="end" fill="#1c1c1c" >70</text>
<line x1="381" y1="275.5" x2="384" y2="275.5" stroke="#1a1a1a" stroke-width="1.0" />
<text transform="translate(379.4,278.36)" font-size="7.8" text-anchor="end" fill="#1c1c1c" >60</text>
<line x1="381" y1="285.5" x2="384" y2="285.5" stroke="#1a1a1a" stroke-width="1.0" />
<text transform="translate(379.4,287.91)" font-size="7.8" text-anchor="end" fill="#1c1c1c" >50</text>
<line x1="381" y1="294.5" x2="384" y2="294.5" stroke="#1a1a1a" stroke-width="1.0" />
<text transform="translate(379.4,297.46)" font-size="7.8" text-anchor="end" fill="#1c1c1c" >40</text>
<line x1="381" y1="304.5" x2="384" y2="304.5" stroke="#1a1a1a" stroke-width="1.0" />
<text transform="translate(379.4,307.01)" font-size="7.8" text-anchor="end" fill="#1c1c1c" >30</text>
<line x1="381" y1="313.5" x2="384" y2="313.5" stroke="#1a1a1a" stroke-width="1.0" />
<text transform="translate(379.4,316.56)" font-size="7.8" text-anchor="end" fill="#1c1c1c" >20</text>
<line x1="381" y1="323.5" x2="384" y2="323.5" stroke="#1a1a1a" stroke-width="1.0" />
<text transform="translate(379.4,326.11)" font-size="7.8" text-anchor="end" fill="#1c1c1c" >10</text>
<line x1="381" y1="332.5" x2="384" y2="332.5" stroke="#1a1a1a" stroke-width="1.0" />
<text transform="translate(379.4,335.61)" font-size="7.8" text-anchor="end" fill="#1c1c1c" >0</text>
<line x1="383.55" y1="332.5" x2="485.4" y2="332.5" stroke="#1a1a1a" stroke-width="1.0" />
<text transform="translate(366.54,302.3) rotate(-90) scale(0.877,1)" font-size="9" text-anchor="middle" fill="#1c1c1c" >% cells</text>
<line x1="394.5" y1="292.5" x2="394.5" y2="293" stroke="#222" stroke-width="0.9" />
<line x1="393.55" y1="292.5" x2="396.15" y2="292.5" stroke="#222" stroke-width="0.8" />
<rect x="391.9" y="293" width="5.9" height="39.8" fill="#d9123c" stroke="#222" stroke-width="0.5" />
<line x1="402.5" y1="271.2" x2="402.5" y2="271.8" stroke="#222" stroke-width="0.9" />
<line x1="401.15" y1="271.5" x2="403.75" y2="271.5" stroke="#222" stroke-width="0.8" />
<rect x="399.5" y="271.8" width="5.9" height="61" fill="#1b5b97" stroke="#222" stroke-width="0.5" />
<rect x="407.2" y="293.7" width="5.8" height="39.1" fill="#3cc052" stroke="#222" stroke-width="0.5" />
<rect x="425.5" y="282.2" width="5.9" height="50.6" fill="#d9123c" stroke="#222" stroke-width="0.5" />
<line x1="436.5" y1="313.8" x2="436.5" y2="314.4" stroke="#222" stroke-width="0.9" />
<line x1="434.75" y1="313.5" x2="437.35" y2="313.5" stroke="#222" stroke-width="0.8" />
<rect x="433.1" y="314.4" width="5.9" height="18.4" fill="#1b5b97" stroke="#222" stroke-width="0.5" />
<rect x="440.7" y="282.2" width="5.9" height="50.6" fill="#3cc052" stroke="#222" stroke-width="0.5" />
<line x1="462.5" y1="327.7" x2="462.5" y2="328.3" stroke="#222" stroke-width="0.9" />
<line x1="460.9" y1="327.5" x2="463.5" y2="327.5" stroke="#222" stroke-width="0.8" />
<rect x="459.4" y="328.3" width="5.6" height="4.5" fill="#d9123c" stroke="#222" stroke-width="0.5" />
<line x1="469.5" y1="318.2" x2="469.5" y2="318.9" stroke="#222" stroke-width="0.9" />
<line x1="468.35" y1="318.5" x2="470.95" y2="318.5" stroke="#222" stroke-width="0.8" />
<rect x="466.7" y="318.9" width="5.9" height="13.9" fill="#1b5b97" stroke="#222" stroke-width="0.5" />
<rect x="474.3" y="328.6" width="5.9" height="4.2" fill="#3cc052" stroke="#222" stroke-width="0.5" />
<line x1="394.3" y1="268.5" x2="402.3" y2="268.5" stroke="#444" stroke-width="1.2" />
<text transform="translate(398.3,269.39) scale(0.9,1)" font-size="6.5" text-anchor="middle" fill="#222" >***</text>
<line x1="404" y1="268.5" x2="412" y2="268.5" stroke="#444" stroke-width="1.2" />
<text transform="translate(408,269.39) scale(0.9,1)" font-size="6.5" text-anchor="middle" fill="#222" >***</text>
<line x1="426.5" y1="277.5" x2="434.2" y2="277.5" stroke="#444" stroke-width="1.2" />
<text transform="translate(430.35,277.69) scale(0.9,1)" font-size="6.5" text-anchor="middle" fill="#222" >***</text>
<line x1="436.6" y1="277.5" x2="444.5" y2="277.5" stroke="#444" stroke-width="1.2" />
<text transform="translate(440.55,277.69) scale(0.9,1)" font-size="6.5" text-anchor="middle" fill="#222" >***</text>
<line x1="460" y1="311.5" x2="468" y2="311.5" stroke="#444" stroke-width="1.2" />
<text transform="translate(464,312.39) scale(0.9,1)" font-size="6.5" text-anchor="middle" fill="#222" >***</text>
<line x1="469.8" y1="311.5" x2="477.8" y2="311.5" stroke="#444" stroke-width="1.2" />
<text transform="translate(473.8,312.39) scale(0.9,1)" font-size="6.5" text-anchor="middle" fill="#222" >***</text>
<text transform="translate(403,343.03) scale(1.03,1)" font-size="7.3" text-anchor="middle" fill="#1c1c1c" >G0–G1</text>
<text transform="translate(435.9,343.03) scale(1.03,1)" font-size="7.3" text-anchor="middle" fill="#1c1c1c" >S</text>
<text transform="translate(470,343.03) scale(1.03,1)" font-size="7.3" text-anchor="middle" fill="#1c1c1c" >G2–M</text>
<rect x="455.3" y="263.5" width="3.4" height="3.6" fill="#d9123c" stroke="#222" stroke-width="0.5" />
<text transform="translate(460.5,267.89) scale(1.06,1)" font-size="7.2" text-anchor="start" fill="#1c1c1c" >Scr+vector</text>
<rect x="455.3" y="273.2" width="3.4" height="3.6" fill="#1b5b97" stroke="#222" stroke-width="0.5" />
<text transform="translate(460.5,277.59) scale(1.06,1)" font-size="7.2" text-anchor="start" fill="#1c1c1c" >Ysh2#+vector</text>
<rect x="455.3" y="282.9" width="3.4" height="3.6" fill="#3cc052" stroke="#222" stroke-width="0.5" />
<text transform="translate(460.5,287.29) scale(1.06,1)" font-size="7.2" text-anchor="start" fill="#1c1c1c" >Ysh2#+MCM4</text>
<text transform="translate(7.3,386.5)" font-size="11.5" text-anchor="start" font-weight="bold" fill="#000" >N</text>
<line x1="43.5" y1="404.55" x2="43.5" y2="467.45" stroke="#1a1a1a" stroke-width="1.0" />
<line x1="40.2" y1="405.5" x2="43.6" y2="405.5" stroke="#1a1a1a" stroke-width="1.0" />
<text transform="translate(37.8,408.06)" font-size="8.5" text-anchor="end" fill="#1c1c1c" >10</text>
<line x1="40.2" y1="417.5" x2="43.6" y2="417.5" stroke="#1a1a1a" stroke-width="1.0" />
<text transform="translate(37.8,420.46)" font-size="8.5" text-anchor="end" fill="#1c1c1c" >8</text>
<line x1="40.2" y1="429.5" x2="43.6" y2="429.5" stroke="#1a1a1a" stroke-width="1.0" />
<text transform="translate(37.8,432.86)" font-size="8.5" text-anchor="end" fill="#1c1c1c" >6</text>
<line x1="40.2" y1="442.5" x2="43.6" y2="442.5" stroke="#1a1a1a" stroke-width="1.0" />
<text transform="translate(37.8,445.26)" font-size="8.5" text-anchor="end" fill="#1c1c1c" >4</text>
<line x1="40.2" y1="454.5" x2="43.6" y2="454.5" stroke="#1a1a1a" stroke-width="1.0" />
<text transform="translate(37.8,457.66)" font-size="8.5" text-anchor="end" fill="#1c1c1c" >2</text>
<line x1="40.2" y1="467.5" x2="43.6" y2="467.5" stroke="#1a1a1a" stroke-width="1.0" />
<text transform="translate(37.8,470.06)" font-size="8.5" text-anchor="end" fill="#1c1c1c" >0</text>
<line x1="43.3" y1="467.5" x2="78.75" y2="467.5" stroke="#1a1a1a" stroke-width="1.0" />
<text transform="translate(23.15,436.3) rotate(-90) scale(0.765,1)" font-size="9.3" text-anchor="middle" fill="#1c1c1c" >% p-γH2AX cells</text>
<line x1="49.5" y1="447" x2="49.5" y2="449.5" stroke="#222" stroke-width="0.9" />
<line x1="47.83" y1="447.5" x2="50.42" y2="447.5" stroke="#222" stroke-width="0.8" />
<rect x="47" y="449.5" width="4.25" height="17.5" fill="#d9123c" stroke="#222" stroke-width="0.5" />
<line x1="60.5" y1="409.25" x2="60.5" y2="414.5" stroke="#222" stroke-width="0.9" />
<line x1="59.58" y1="409.5" x2="62.17" y2="409.5" stroke="#222" stroke-width="0.8" />
<rect x="58.75" y="414.5" width="4.25" height="52.5" fill="#1b5b97" stroke="#222" stroke-width="0.5" />
<line x1="72.5" y1="453.7" x2="72.5" y2="454.25" stroke="#222" stroke-width="0.9" />
<line x1="71.33" y1="453.5" x2="73.92" y2="453.5" stroke="#222" stroke-width="0.8" />
<rect x="70.5" y="454.25" width="4.25" height="12.75" fill="#3cc052" stroke="#222" stroke-width="0.5" />
<line x1="47.5" y1="405.5" x2="62" y2="405.5" stroke="#777" stroke-width="1.2" />
<text transform="translate(54.75,406.56) scale(0.9,1)" font-size="7" text-anchor="middle" fill="#222" >***</text>
<line x1="62.8" y1="405.5" x2="76.25" y2="405.5" stroke="#777" stroke-width="1.2" />
<text transform="translate(69.53,406.56) scale(0.9,1)" font-size="7" text-anchor="middle" fill="#222" >***</text>
<text transform="translate(53.1,473.5) rotate(-45) scale(1.04,1)" font-size="7.8" text-anchor="end" fill="#1c1c1c" >Scr+vector</text>
<text transform="translate(64.9,473.5) rotate(-45) scale(1.04,1)" font-size="7.8" text-anchor="end" fill="#1c1c1c" >Ysh2#+vector</text>
<text transform="translate(76.6,473.5) rotate(-45) scale(1.04,1)" font-size="7.8" text-anchor="end" fill="#1c1c1c" >Ysh2#+MCM4</text>
<text transform="translate(97.8,386.8)" font-size="11.5" text-anchor="start" font-weight="bold" fill="#000" >O</text>
<text transform="translate(133.8,418) rotate(-90) scale(1.05,1)" font-size="7.4" text-anchor="start" fill="#333" >Scr</text>
<text transform="translate(150.3,418) rotate(-90) scale(1.05,1)" font-size="7.4" text-anchor="start" fill="#333" >Ysh1#</text>
<text transform="translate(165.3,418) rotate(-90) scale(1.05,1)" font-size="7.4" text-anchor="start" fill="#333" >Ysh2#</text>
<text transform="translate(179.8,418) rotate(-90) scale(1.05,1)" font-size="7.4" text-anchor="start" fill="#333" >Ysh2#+MCM4</text>
<linearGradient id="bg1" x1="0" y1="0" x2="1" y2="0"><stop offset="0" stop-color="#b2b2b2"/><stop offset="0.35" stop-color="#a6a6a6"/><stop offset="1" stop-color="#979797"/></linearGradient>
<linearGradient id="bg2" x1="0" y1="0" x2="1" y2="0"><stop offset="0" stop-color="#a8a8a8"/><stop offset="0.5" stop-color="#9c9c9c"/><stop offset="1" stop-color="#929292"/></linearGradient>
<clipPath id="cb1"><rect x="121.5" y="420.8" width="69.3" height="25"/></clipPath>
<rect x="121.5" y="420.8" width="69.3" height="25" fill="url(#bg1)" stroke="none" stroke-width="0" />
<g clip-path="url(#cb1)">
<path d="M122 433.2 C128 433.2 133 432.6 139 432" fill="none" stroke="#4a4a4a" stroke-width="1.3" opacity="0.8" filter="url(#bl05)"/>
<ellipse cx="147.3" cy="431.6" rx="8.4" ry="2" fill="#161616" opacity="1.0" filter="url(#bl05)"/>
<ellipse cx="147.3" cy="431.6" rx="9.5" ry="2.6" fill="#333" opacity="0.5" filter="url(#bl1)"/>
<ellipse cx="164" cy="431.1" rx="8" ry="2" fill="#161616" opacity="1.0" filter="url(#bl05)"/>
<ellipse cx="164" cy="431.1" rx="9.2" ry="2.6" fill="#333" opacity="0.5" filter="url(#bl1)"/>
<path d="M172 431.6 C178 431 183 430.6 189 430.8" fill="none" stroke="#555" stroke-width="1.2" opacity="0.7" filter="url(#bl05)"/>
</g>
<clipPath id="cb2"><rect x="121.5" y="449" width="69.3" height="23.8"/></clipPath>
<rect x="121.5" y="449" width="69.3" height="23.8" fill="url(#bg2)" stroke="none" stroke-width="0" />
<g clip-path="url(#cb2)">
<path d="M120 463 C128 462.8 134 461.6 142 461.6 S158 461.8 166 461.4 S182 460.8 192 460.8" fill="none" stroke="#5a5a5a" stroke-width="6.2" opacity="0.55" filter="url(#bl1)"/>
<path d="M120 463 C128 462.8 134 461.6 142 461.6 S158 461.8 166 461.4 S182 460.8 192 460.8" fill="none" stroke="#111" stroke-width="3.6" filter="url(#bl05)"/>
</g>
<text transform="translate(120,436.41) scale(1.04,1)" font-size="7.8" text-anchor="end" fill="#1c1c1c" >p-γH2AX</text>
<text transform="translate(119.8,462.41) scale(1.02,1)" font-size="7.8" text-anchor="end" fill="#1c1c1c" >ACTIN</text>
<text transform="translate(200.3,386.5)" font-size="11.5" text-anchor="start" font-weight="bold" fill="#000" >P</text>
<text transform="translate(252.5,398.46) scale(1.04,1)" font-size="7.4" text-anchor="middle" fill="#1c1c1c" >Scr+vector</text>
<rect x="218" y="402.3" width="64.4" height="64.1" fill="#fff" stroke="#222" stroke-width="1.0" />
<line x1="215" y1="465.5" x2="218" y2="465.5" stroke="#222" stroke-width="0.9" />
<line x1="215" y1="440.5" x2="218" y2="440.5" stroke="#222" stroke-width="0.9" />
<line x1="215" y1="416.5" x2="218" y2="416.5" stroke="#222" stroke-width="0.9" />
<line x1="216.4" y1="457.5" x2="218" y2="457.5" stroke="#222" stroke-width="0.6" />
<line x1="216.4" y1="453.5" x2="218" y2="453.5" stroke="#222" stroke-width="0.6" />
<line x1="216.4" y1="450.5" x2="218" y2="450.5" stroke="#222" stroke-width="0.6" />
<line x1="216.4" y1="448.5" x2="218" y2="448.5" stroke="#222" stroke-width="0.6" />
<line x1="216.4" y1="446.5" x2="218" y2="446.5" stroke="#222" stroke-width="0.6" />
<line x1="216.4" y1="444.5" x2="218" y2="444.5" stroke="#222" stroke-width="0.6" />
<line x1="216.4" y1="443.5" x2="218" y2="443.5" stroke="#222" stroke-width="0.6" />
<line x1="216.4" y1="441.5" x2="218" y2="441.5" stroke="#222" stroke-width="0.6" />
<line x1="216.4" y1="433.5" x2="218" y2="433.5" stroke="#222" stroke-width="0.6" />
<line x1="216.4" y1="428.5" x2="218" y2="428.5" stroke="#222" stroke-width="0.6" />
<line x1="216.4" y1="425.5" x2="218" y2="425.5" stroke="#222" stroke-width="0.6" />
<line x1="216.4" y1="423.5" x2="218" y2="423.5" stroke="#222" stroke-width="0.6" />
<line x1="216.4" y1="421.5" x2="218" y2="421.5" stroke="#222" stroke-width="0.6" />
<line x1="216.4" y1="419.5" x2="218" y2="419.5" stroke="#222" stroke-width="0.6" />
<line x1="216.4" y1="418.5" x2="218" y2="418.5" stroke="#222" stroke-width="0.6" />
<line x1="216.4" y1="417.5" x2="218" y2="417.5" stroke="#222" stroke-width="0.6" />
<line x1="216.4" y1="408.5" x2="218" y2="408.5" stroke="#222" stroke-width="0.6" />
<line x1="216.4" y1="404.5" x2="218" y2="404.5" stroke="#222" stroke-width="0.6" />
<line x1="219.5" y1="466.4" x2="219.5" y2="468.1" stroke="#222" stroke-width="0.65" />
<line x1="221.5" y1="466.4" x2="221.5" y2="468.1" stroke="#222" stroke-width="0.65" />
<line x1="224.5" y1="466.4" x2="224.5" y2="468.1" stroke="#222" stroke-width="0.65" />
<line x1="225.5" y1="466.4" x2="225.5" y2="468.1" stroke="#222" stroke-width="0.65" />
<line x1="227.5" y1="466.4" x2="227.5" y2="469.2" stroke="#222" stroke-width="0.9" />
<line x1="238.5" y1="466.4" x2="238.5" y2="468.1" stroke="#222" stroke-width="0.65" />
<line x1="244.5" y1="466.4" x2="244.5" y2="468.1" stroke="#222" stroke-width="0.65" />
<line x1="249.5" y1="466.4" x2="249.5" y2="468.1" stroke="#222" stroke-width="0.65" />
<line x1="252.5" y1="466.4" x2="252.5" y2="468.1" stroke="#222" stroke-width="0.65" />
<line x1="255.5" y1="466.4" x2="255.5" y2="468.1" stroke="#222" stroke-width="0.65" />
<line x1="257.5" y1="466.4" x2="257.5" y2="468.1" stroke="#222" stroke-width="0.65" />
<line x1="260.5" y1="466.4" x2="260.5" y2="468.1" stroke="#222" stroke-width="0.65" />
<line x1="261.5" y1="466.4" x2="261.5" y2="468.1" stroke="#222" stroke-width="0.65" />
<line x1="263.5" y1="466.4" x2="263.5" y2="469.2" stroke="#222" stroke-width="0.9" />
<line x1="274.5" y1="466.4" x2="274.5" y2="468.1" stroke="#222" stroke-width="0.65" />
<line x1="280.5" y1="466.4" x2="280.5" y2="468.1" stroke="#222" stroke-width="0.65" />
<clipPath id="cp4"><rect x="218.6" y="402.9" width="63.2" height="62.9"/></clipPath><g clip-path="url(#cp4)">
<ellipse cx="250.2" cy="432" rx="7" ry="30" fill="#4a60f0" opacity="0.35" filter="url(#bl2)"/>
<ellipse cx="250.7" cy="422" rx="5" ry="14" fill="#3a58f5" opacity="0.7" filter="url(#bl2)"/>
<path d="M253.3 457.8h0.6M246.2 425.1h0.6M251.4 464.0h0.6M251.7 421.2h0.6M246.3 437.6h0.6M254.1 438.3h0.6M248.2 435.1h0.6M250.6 427.5h0.6M249.8 442.4h0.6M257.2 437.6h0.6M254.2 423.3h0.6M253.7 440.8h0.6M247.4 438.1h0.6M253.9 433.7h0.6M254.5 460.9h0.6M257.2 462.3h0.6M244.1 443.5h0.6M246.8 452.4h0.6M250.2 441.8h0.6M251.9 429.8h0.6M250.3 427.9h0.6M259.3 431.8h0.6M249.9 412.6h0.6M243.2 426.2h0.6M253.5 449.9h0.6M251.1 429.1h0.6M258.2 423.4h0.6M246.0 445.7h0.6M245.4 442.5h0.6M254.2 437.5h0.6M251.7 439.1h0.6M246.8 391.8h0.6M244.4 438.4h0.6M242.4 430.2h0.6M250.8 458.2h0.6M243.7 430.7h0.6M250.9 446.3h0.6M243.6 466.0h0.6M246.2 454.6h0.6M249.0 444.6h0.6M257.4 449.0h0.6M250.5 423.7h0.6M246.9 417.4h0.6M259.0 415.5h0.6M238.2 462.9h0.6M255.7 433.2h0.6M253.7 426.3h0.6M247.2 446.0h0.6M251.6 431.7h0.6M257.2 449.5h0.6M250.5 421.0h0.6M250.5 433.8h0.6M249.5 450.4h0.6M247.2 442.4h0.6M253.5 443.8h0.6M260.3 412.6h0.6M249.6 420.9h0.6M249.5 475.9h0.6M242.4 434.1h0.6M252.8 439.8h0.6M254.0 415.3h0.6M254.3 424.2h0.6M244.3 446.9h0.6M252.0 427.6h0.6M246.1 435.4h0.6M249.8 435.9h0.6M245.2 403.8h0.6M255.8 441.0h0.6M244.1 415.0h0.6M246.6 432.2h0.6M240.1 459.2h0.6M251.7 433.5h0.6M251.4 441.7h0.6M254.6 440.6h0.6M255.6 461.3h0.6M248.4 431.5h0.6M245.7 434.8h0.6M246.5 438.4h0.6M251.2 446.3h0.6M244.5 454.4h0.6M248.4 436.6h0.6M247.4 408.4h0.6M250.9 411.8h0.6M254.8 438.8h0.6M256.9 447.9h0.6M253.0 459.1h0.6M249.6 461.2h0.6M249.2 442.0h0.6M246.7 446.3h0.6M252.8 430.7h0.6M243.9 437.6h0.6M251.7 435.8h0.6M245.3 427.4h0.6M248.5 399.0h0.6M247.1 459.6h0.6M243.9 434.9h0.6M257.5 448.7h0.6M254.0 436.0h0.6M243.7 481.1h0.6M251.1 441.7h0.6M257.3 450.2h0.6M250.0 421.7h0.6M249.0 435.9h0.6M246.6 425.2h0.6M245.2 436.4h0.6M247.0 444.2h0.6M254.4 442.8h0.6M249.8 461.4h0.6M252.7 416.1h0.6M246.4 441.0h0.6M245.7 449.4h0.6M241.7 409.6h0.6M254.2 446.8h0.6M242.4 439.2h0.6M255.9 421.4h0.6M244.3 419.9h0.6M245.2 412.2h0.6M247.5 416.4h0.6M250.0 471.4h0.6M244.9 451.6h0.6M255.1 403.6h0.6M250.2 437.9h0.6M248.2 450.0h0.6M247.7 443.3h0.6M247.9 436.0h0.6M246.1 472.0h0.6M249.5 421.3h0.6M258.6 461.6h0.6M248.8 428.2h0.6M246.3 456.5h0.6M248.2 427.4h0.6M253.6 434.0h0.6M249.5 467.0h0.6M253.7 456.6h0.6M251.6 457.3h0.6M248.9 452.4h0.6M254.5 431.9h0.6M243.8 446.0h0.6M249.2 447.1h0.6M247.0 445.9h0.6M254.1 473.4h0.6M257.9 443.9h0.6M256.3 428.7h0.6M255.1 440.1h0.6M255.8 443.0h0.6M248.7 427.4h0.6M255.5 438.9h0.6M253.0 445.2h0.6M240.3 447.0h0.6M248.0 443.9h0.6M251.9 411.1h0.6M248.3 437.1h0.6M251.5 452.1h0.6M246.6 434.6h0.6M252.6 410.7h0.6M258.2 423.9h0.6M255.7 440.2h0.6M258.3 453.6h0.6M249.6 412.7h0.6M250.3 442.9h0.6M252.2 419.2h0.6M245.9 426.4h0.6M251.0 425.0h0.6M249.2 451.9h0.6M247.8 458.1h0.6M251.1 434.3h0.6M254.7 445.4h0.6M248.4 429.2h0.6M249.5 443.2h0.6M254.9 442.1h0.6M246.9 418.2h0.6M250.9 443.9h0.6M254.9 430.1h0.6M243.8 450.5h0.6M248.9 419.9h0.6M257.3 451.3h0.6M250.0 442.2h0.6M246.3 452.8h0.6M247.7 431.3h0.6M248.4 421.1h0.6M254.4 462.9h0.6M253.2 407.4h0.6M248.3 428.5h0.6M251.4 406.1h0.6M239.9 431.2h0.6M254.2 435.2h0.6M259.8 425.4h0.6M249.9 435.8h0.6M245.9 454.6h0.6M243.7 422.3h0.6M248.1 430.9h0.6M254.9 430.2h0.6M252.0 431.1h0.6M255.6 437.8h0.6M250.9 413.7h0.6M252.9 428.4h0.6M253.8 445.6h0.6M252.2 454.8h0.6M251.4 424.9h0.6M250.4 440.6h0.6M244.3 447.2h0.6M256.4 441.7h0.6M250.2 444.9h0.6M254.7 430.0h0.6M254.1 427.0h0.6M252.1 445.8h0.6M243.8 447.8h0.6M250.7 413.2h0.6M247.6 428.7h0.6M245.6 444.2h0.6M246.1 438.8h0.6M244.7 434.1h0.6M258.0 444.2h0.6M242.6 424.0h0.6M249.1 413.8h0.6M254.2 437.4h0.6M249.4 438.8h0.6M246.6 421.0h0.6M235.5 413.9h0.6M250.8 448.2h0.6M248.9 410.7h0.6M248.2 438.5h0.6M243.8 458.4h0.6M244.6 438.0h0.6M244.7 451.5h0.6M243.9 424.6h0.6M254.8 419.3h0.6M247.2 446.1h0.6M251.3 411.9h0.6M252.5 433.6h0.6M255.3 412.2h0.6M253.2 444.0h0.6M248.0 431.7h0.6M251.5 427.7h0.6M248.1 426.6h0.6M250.3 448.0h0.6M242.4 438.4h0.6M251.1 460.4h0.6M246.3 456.7h0.6M247.7 445.2h0.6M250.7 442.0h0.6M248.1 423.4h0.6M256.5 459.6h0.6M249.2 435.4h0.6M248.7 418.1h0.6M244.6 444.1h0.6M254.0 434.6h0.6M245.4 421.9h0.6M246.9 448.3h0.6M249.9 416.7h0.6M244.4 442.8h0.6M251.0 464.1h0.6M256.3 440.7h0.6M246.6 441.0h0.6M244.5 427.7h0.6M254.3 447.0h0.6M253.9 461.1h0.6M247.8 449.8h0.6M250.0 442.6h0.6M250.7 445.9h0.6M243.4 417.5h0.6M250.1 445.2h0.6M247.5 436.4h0.6M243.3 452.2h0.6M251.8 460.3h0.6M247.8 436.5h0.6M250.0 458.3h0.6M252.3 443.8h0.6M242.2 425.2h0.6M243.0 435.2h0.6M253.6 438.7h0.6M245.5 468.2h0.6M244.7 458.5h0.6M255.0 441.8h0.6M255.8 421.8h0.6M247.1 433.4h0.6M251.4 435.3h0.6M257.5 432.3h0.6M248.6 419.9h0.6M251.9 449.7h0.6M246.2 419.2h0.6M243.4 455.3h0.6M253.3 442.1h0.6M253.1 445.2h0.6M251.8 413.8h0.6M252.0 448.4h0.6M254.9 452.3h0.6M246.6 441.8h0.6M243.2 459.3h0.6M243.4 448.4h0.6M246.1 425.8h0.6M245.6 433.0h0.6M251.4 454.6h0.6M248.3 450.6h0.6M253.6 468.6h0.6M247.0 442.5h0.6M252.8 440.1h0.6M252.5 428.0h0.6M248.0 428.6h0.6M246.8 424.7h0.6M249.2 419.7h0.6M247.1 446.6h0.6M242.5 422.2h0.6M247.8 422.0h0.6M245.1 465.8h0.6M251.2 431.1h0.6M246.3 414.7h0.6M244.4 403.4h0.6M252.2 430.2h0.6M253.8 437.7h0.6M240.5 466.1h0.6M252.0 451.1h0.6M247.1 429.5h0.6M248.8 464.5h0.6M243.9 421.9h0.6M252.0 408.5h0.6M256.4 420.7h0.6M255.1 435.6h0.6M248.0 420.8h0.6M256.3 433.8h0.6M243.5 447.4h0.6M249.0 445.6h0.6M247.8 443.3h0.6M251.7 438.2h0.6M242.2 445.2h0.6M255.9 444.4h0.6M253.9 449.5h0.6M248.3 453.6h0.6M248.6 422.9h0.6M243.9 453.2h0.6M252.9 447.2h0.6M247.1 410.8h0.6M253.2 436.5h0.6M246.9 428.8h0.6M247.0 410.3h0.6M252.5 448.4h0.6M253.6 432.5h0.6M244.0 417.5h0.6M248.3 463.8h0.6M253.9 438.3h0.6M251.8 450.0h0.6M249.9 441.3h0.6M250.6 429.3h0.6M244.5 429.5h0.6M254.9 414.4h0.6M247.7 431.7h0.6M249.8 431.2h0.6M253.3 432.4h0.6M249.6 448.5h0.6M243.2 454.1h0.6M254.4 418.4h0.6M249.3 426.9h0.6M248.0 449.5h0.6M241.1 450.4h0.6M251.6 437.8h0.6M259.7 430.6h0.6M242.8 443.6h0.6M250.3 428.6h0.6M240.0 409.8h0.6M257.1 415.4h0.6M256.0 450.1h0.6M239.7 440.8h0.6M252.6 454.4h0.6M255.7 456.6h0.6M249.5 434.3h0.6M248.8 445.7h0.6M245.4 422.1h0.6M260.1 452.1h0.6M254.5 434.5h0.6M245.8 431.6h0.6M246.1 428.6h0.6M242.6 447.1h0.6M251.2 449.6h0.6M250.0 427.3h0.6M258.9 451.8h0.6M252.2 451.0h0.6M248.3 448.8h0.6M246.3 452.9h0.6M253.9 450.3h0.6M251.5 439.9h0.6M250.7 448.6h0.6M247.6 448.4h0.6M253.2 419.2h0.6M241.9 442.3h0.6M248.1 426.0h0.6M244.0 421.5h0.6M242.2 432.6h0.6M242.6 412.5h0.6M249.1 460.3h0.6M255.3 435.3h0.6M251.4 434.2h0.6M249.1 426.4h0.6M249.7 422.3h0.6M246.3 435.5h0.6M249.3 468.0h0.6M245.7 421.5h0.6M252.6 446.3h0.6M252.7 436.0h0.6M242.8 432.5h0.6M243.9 436.7h0.6M257.6 433.1h0.6M250.1 453.9h0.6M243.6 449.0h0.6M248.1 427.6h0.6M248.0 423.1h0.6M253.5 439.2h0.6M247.5 444.9h0.6M242.8 396.9h0.6M255.6 429.2h0.6M253.0 424.4h0.6M241.4 421.6h0.6M253.8 443.2h0.6M246.7 447.7h0.6M248.3 440.3h0.6M244.7 404.1h0.6M250.0 447.6h0.6M245.5 461.1h0.6M250.9 463.5h0.6M252.6 455.8h0.6M248.5 415.9h0.6M259.6 457.0h0.6M252.7 424.0h0.6M253.7 422.3h0.6M252.0 451.2h0.6M251.9 422.9h0.6M252.4 440.4h0.6M252.1 456.3h0.6M246.6 425.2h0.6M240.0 459.9h0.6M245.9 456.7h0.6M251.3 455.3h0.6M250.7 444.6h0.6M248.5 444.3h0.6M244.8 452.8h0.6M241.9 429.9h0.6M247.8 438.9h0.6M249.0 422.9h0.6M249.8 397.2h0.6M246.2 436.3h0.6M246.3 451.7h0.6M248.8 444.3h0.6M244.3 451.1h0.6M252.8 414.8h0.6M255.9 420.0h0.6M244.1 449.4h0.6M257.4 446.9h0.6M248.8 426.6h0.6M246.1 440.1h0.6M251.1 422.8h0.6M251.7 404.6h0.6M250.5 423.6h0.6M243.6 468.3h0.6M252.2 432.5h0.6M244.4 458.1h0.6M249.9 425.8h0.6M238.6 450.7h0.6M252.8 444.4h0.6M244.6 409.9h0.6M254.6 432.5h0.6M252.8 399.1h0.6M248.1 447.5h0.6M249.2 464.2h0.6M253.4 452.5h0.6M252.5 433.7h0.6M245.8 424.7h0.6M255.1 434.2h0.6M239.8 439.9h0.6M249.7 429.6h0.6M251.2 423.7h0.6M261.3 430.5h0.6M244.9 438.7h0.6M250.2 449.9h0.6M250.5 446.8h0.6M249.5 433.2h0.6M244.6 426.2h0.6M249.2 418.7h0.6M253.1 432.6h0.6M254.8 448.9h0.6M248.0 482.3h0.6M255.9 427.2h0.6M251.4 428.3h0.6M245.2 439.4h0.6M247.2 450.0h0.6M243.1 441.0h0.6M255.4 440.9h0.6M258.1 466.4h0.6M243.9 431.6h0.6M246.8 459.5h0.6M247.2 406.1h0.6M246.5 432.2h0.6M248.7 434.5h0.6M249.6 425.2h0.6M249.2 430.2h0.6M247.4 432.8h0.6M253.2 440.7h0.6M252.3 425.9h0.6M241.7 434.2h0.6M253.2 436.4h0.6M246.9 413.4h0.6M250.9 424.7h0.6M241.8 442.2h0.6M249.7 455.3h0.6M243.7 416.2h0.6M250.0 460.2h0.6M250.3 446.6h0.6M243.1 441.1h0.6M242.6 409.9h0.6M252.6 453.8h0.6M246.2 439.5h0.6M251.9 433.9h0.6M249.6 442.3h0.6M245.5 420.8h0.6M251.4 471.4h0.6M247.7 430.5h0.6M258.1 427.5h0.6M246.1 465.6h0.6M252.6 448.1h0.6M239.7 456.2h0.6M248.3 452.1h0.6M252.0 464.8h0.6M253.3 464.6h0.6M246.6 453.9h0.6M252.3 429.7h0.6M243.3 434.2h0.6M245.5 430.8h0.6M247.3 427.7h0.6M250.0 439.7h0.6M245.0 425.9h0.6M250.5 429.7h0.6M247.3 423.4h0.6M241.1 433.6h0.6M244.8 436.1h0.6M248.1 431.3h0.6M253.6 425.0h0.6M254.8 442.5h0.6M261.7 424.0h0.6M246.5 443.3h0.6M253.2 433.2h0.6M253.1 439.3h0.6M242.9 442.1h0.6M253.5 443.5h0.6M249.1 424.4h0.6M253.0 459.1h0.6M243.2 447.0h0.6M241.3 440.7h0.6M237.2 434.9h0.6M252.5 415.9h0.6M243.4 439.3h0.6M248.4 442.2h0.6M256.0 420.0h0.6M250.7 408.5h0.6M235.6 422.8h0.6M237.0 445.1h0.6M253.6 445.1h0.6M242.0 426.0h0.6M241.6 434.6h0.6M244.8 454.1h0.6M251.5 418.6h0.6M256.4 440.9h0.6M253.6 438.0h0.6M255.6 454.8h0.6M253.3 458.8h0.6M252.5 442.5h0.6M246.2 405.9h0.6M255.4 447.0h0.6M244.6 450.6h0.6M250.4 439.3h0.6M258.2 453.0h0.6M243.4 439.2h0.6M254.4 455.0h0.6M252.2 432.2h0.6M251.4 409.4h0.6M255.6 437.1h0.6M247.1 427.1h0.6M250.5 425.3h0.6M245.1 423.2h0.6M257.8 436.2h0.6M252.1 443.3h0.6M246.8 449.8h0.6M249.0 426.6h0.6M245.0 432.0h0.6M247.5 458.2h0.6M238.0 454.8h0.6M256.5 461.3h0.6M246.4 425.4h0.6M255.6 448.2h0.6M251.1 424.9h0.6M248.4 420.0h0.6M257.4 454.0h0.6M247.7 453.9h0.6M250.4 407.4h0.6M252.4 426.6h0.6M251.2 430.9h0.6M245.1 432.9h0.6M254.6 420.1h0.6M245.2 415.0h0.6M246.8 451.3h0.6M253.1 446.4h0.6M252.0 461.1h0.6M256.7 462.2h0.6M247.0 414.2h0.6M254.0 426.7h0.6M248.5 418.0h0.6M254.6 418.8h0.6M247.5 422.9h0.6M248.3 425.2h0.6M251.7 417.2h0.6M247.0 429.1h0.6M247.0 421.0h0.6M249.2 420.3h0.6M249.1 429.0h0.6M251.2 410.5h0.6M245.4 426.7h0.6M249.8 431.2h0.6M252.7 431.7h0.6M244.8 416.8h0.6M256.0 408.7h0.6M253.8 419.5h0.6M255.1 417.2h0.6M247.6 427.4h0.6M259.9 409.4h0.6M251.9 412.8h0.6M252.8 424.1h0.6M247.6 407.6h0.6M251.0 420.3h0.6M254.5 419.7h0.6M255.2 422.6h0.6M257.0 429.5h0.6M245.0 417.7h0.6M252.6 417.9h0.6M252.3 435.4h0.6M247.2 414.0h0.6M247.1 429.8h0.6M260.3 412.5h0.6M260.8 407.6h0.6M251.4 421.6h0.6M252.2 414.0h0.6M246.0 418.6h0.6M255.2 418.4h0.6M252.6 424.6h0.6M257.1 410.6h0.6M257.6 437.8h0.6M246.0 430.5h0.6M243.1 413.0h0.6M249.7 420.1h0.6M243.0 413.8h0.6M244.0 429.0h0.6M247.0 422.8h0.6M248.8 425.0h0.6M240.1 419.9h0.6M244.7 411.7h0.6M252.4 427.8h0.6M247.1 415.7h0.6M259.1 421.0h0.6M254.9 429.6h0.6M254.1 419.1h0.6M250.2 428.0h0.6M239.4 413.4h0.6M252.6 425.3h0.6M253.4 415.6h0.6M247.4 407.5h0.6M251.7 420.0h0.6M251.2 399.9h0.6M249.1 410.5h0.6M254.8 426.5h0.6M253.6 425.1h0.6M255.6 422.4h0.6M247.3 421.5h0.6M251.0 423.3h0.6M252.9 420.8h0.6M251.8 419.7h0.6M249.7 410.3h0.6M247.6 416.0h0.6M258.3 418.0h0.6M247.0 425.4h0.6M252.8 417.4h0.6M254.8 411.1h0.6M246.0 415.5h0.6M249.2 417.9h0.6M250.7 428.4h0.6M251.0 423.7h0.6M249.7 410.8h0.6M250.5 411.0h0.6M253.6 417.6h0.6M246.3 419.3h0.6M251.3 415.4h0.6M246.3 417.2h0.6M248.5 415.4h0.6M239.0 413.1h0.6M259.7 434.5h0.6M255.2 418.0h0.6M255.0 425.1h0.6M250.9 419.9h0.6M250.8 404.3h0.6M255.0 428.1h0.6M251.8 423.3h0.6M247.2 419.0h0.6M247.9 410.7h0.6M251.9 440.1h0.6M258.3 420.6h0.6M248.9 438.9h0.6M247.1 413.8h0.6M252.5 437.3h0.6M257.4 402.1h0.6M242.6 409.1h0.6M255.6 411.8h0.6M247.7 430.4h0.6M246.4 433.7h0.6M242.7 414.1h0.6M256.2 410.5h0.6M251.8 427.8h0.6M254.0 424.2h0.6M252.6 426.4h0.6M251.3 415.6h0.6M258.9 410.0h0.6M251.1 413.4h0.6M249.5 429.6h0.6M243.7 406.1h0.6M252.5 420.5h0.6M251.1 418.3h0.6M252.8 416.4h0.6M255.4 418.5h0.6M244.5 409.6h0.6M252.6 411.7h0.6M243.5 423.9h0.6M250.6 427.7h0.6M256.7 406.5h0.6M252.5 412.7h0.6M249.6 423.5h0.6M251.4 417.5h0.6M251.1 421.8h0.6M237.4 427.9h0.6M253.6 422.9h0.6M250.0 433.9h0.6M249.1 424.4h0.6M247.5 402.0h0.6M251.5 422.8h0.6M242.5 431.5h0.6M252.8 421.8h0.6M246.4 407.9h0.6M249.5 420.8h0.6M248.9 418.7h0.6M252.0 421.4h0.6M252.5 418.4h0.6M243.0 422.6h0.6M252.0 428.5h0.6M252.2 408.8h0.6M252.5 430.5h0.6M258.5 419.5h0.6M251.6 419.5h0.6M255.3 423.8h0.6M261.4 421.8h0.6M249.3 431.0h0.6M253.9 413.4h0.6M250.9 414.8h0.6M244.3 424.9h0.6M248.1 421.1h0.6M253.2 413.4h0.6M253.8 415.9h0.6M251.7 415.9h0.6M246.0 400.3h0.6M247.7 413.3h0.6M261.6 417.2h0.6M252.0 414.3h0.6M255.6 426.6h0.6M251.7 422.4h0.6M241.2 412.6h0.6M249.7 436.6h0.6M260.4 414.8h0.6M252.7 422.4h0.6M261.2 413.5h0.6M252.0 425.0h0.6M250.3 416.0h0.6M252.7 423.2h0.6M247.1 415.9h0.6M252.0 415.7h0.6M256.6 410.5h0.6M246.7 428.7h0.6M249.7 415.9h0.6M254.8 416.0h0.6M242.5 418.4h0.6M254.0 420.9h0.6M257.4 422.8h0.6M252.0 434.0h0.6M247.9 390.9h0.6M252.5 428.4h0.6M251.8 410.5h0.6M253.5 432.1h0.6M252.0 410.6h0.6M249.1 423.2h0.6M244.0 429.6h0.6M244.3 437.7h0.6M247.7 428.0h0.6M252.4 400.5h0.6M253.2 412.2h0.6M248.6 421.4h0.6M243.2 416.0h0.6M252.0 427.3h0.6M254.9 424.0h0.6M238.1 423.3h0.6M246.2 402.4h0.6M252.1 429.2h0.6M250.2 416.6h0.6M245.4 414.6h0.6M253.5 421.0h0.6M251.2 414.8h0.6M247.9 412.8h0.6M244.1 431.8h0.6M243.8 431.2h0.6M253.0 409.7h0.6M253.7 424.8h0.6M253.9 418.0h0.6M248.3 416.8h0.6M250.0 406.4h0.6M255.0 412.3h0.6M256.5 430.3h0.6M241.8 410.1h0.6M247.0 419.0h0.6M245.6 424.0h0.6M248.8 407.9h0.6M254.1 411.5h0.6M253.0 437.1h0.6M250.1 414.9h0.6M242.8 424.3h0.6M248.8 417.9h0.6M255.2 409.1h0.6M252.8 433.1h0.6M254.3 411.1h0.6M255.6 416.4h0.6M256.8 421.0h0.6M255.2 402.4h0.6M251.0 398.5h0.6M252.3 410.4h0.6M253.1 422.0h0.6M259.8 426.2h0.6M253.9 401.7h0.6M251.5 410.2h0.6M249.8 419.2h0.6M253.0 427.7h0.6M254.2 422.6h0.6M248.2 419.4h0.6M251.5 423.4h0.6M243.0 424.6h0.6M244.5 424.6h0.6M249.1 404.1h0.6M252.1 409.8h0.6M253.1 421.6h0.6M250.0 428.0h0.6M246.7 413.9h0.6M250.1 425.3h0.6M249.7 390.5h0.6M250.0 415.3h0.6M248.2 404.8h0.6M244.9 417.0h0.6M253.8 412.2h0.6M250.0 414.7h0.6M253.5 410.0h0.6M252.8 431.7h0.6M252.8 411.3h0.6M248.2 433.1h0.6M261.4 419.3h0.6M248.9 429.7h0.6M249.0 423.5h0.6M247.4 417.9h0.6M242.9 422.3h0.6M238.7 410.7h0.6M251.5 425.5h0.6M256.7 425.5h0.6M250.0 426.2h0.6M242.5 399.7h0.6M250.9 397.4h0.6M255.4 415.4h0.6M252.1 435.0h0.6M251.0 423.4h0.6M245.9 430.5h0.6M247.8 413.1h0.6M252.5 423.9h0.6M246.7 413.8h0.6M244.0 416.1h0.6M243.1 412.0h0.6M255.1 414.7h0.6M247.5 428.2h0.6M250.7 425.6h0.6M249.9 410.5h0.6M254.9 421.3h0.6M250.1 422.9h0.6M256.4 421.7h0.6M253.4 403.8h0.6M248.2 416.3h0.6M248.5 414.6h0.6M251.2 428.0h0.6M252.0 423.3h0.6M252.5 419.7h0.6M257.0 417.5h0.6M250.6 415.6h0.6M249.5 414.6h0.6M246.1 419.5h0.6M252.3 417.6h0.6M256.3 420.5h0.6M244.7 418.0h0.6M252.8 456.0h0.6M247.2 441.6h0.6M248.4 452.9h0.6M258.8 456.6h0.6M248.4 455.0h0.6M247.8 457.3h0.6M247.2 451.3h0.6M241.7 449.1h0.6M242.1 449.6h0.6M249.0 460.0h0.6M248.7 445.4h0.6M250.2 447.4h0.6M238.1 454.4h0.6M246.6 446.5h0.6M246.0 456.9h0.6M248.7 444.4h0.6M252.7 441.5h0.6M251.7 443.4h0.6M247.2 464.0h0.6M247.2 453.0h0.6M245.6 453.6h0.6M252.2 454.8h0.6M255.8 448.7h0.6M242.7 456.3h0.6M243.8 458.7h0.6M248.0 467.7h0.6M250.2 443.7h0.6M244.2 449.3h0.6M249.9 436.9h0.6M250.8 450.3h0.6M251.6 448.9h0.6M252.7 457.3h0.6M247.2 448.8h0.6M240.6 435.6h0.6M250.4 437.2h0.6M251.2 458.1h0.6M248.8 459.7h0.6M261.2 434.2h0.6M248.1 462.2h0.6M238.3 438.6h0.6M246.3 453.2h0.6M251.0 454.6h0.6M246.5 452.5h0.6M247.5 447.1h0.6M256.4 455.4h0.6M240.5 455.1h0.6M244.4 448.3h0.6M257.5 458.7h0.6M247.0 446.4h0.6M254.8 457.6h0.6M256.2 446.4h0.6M262.7 440.1h0.6M250.9 455.6h0.6M246.3 452.8h0.6M239.5 453.5h0.6M248.1 466.7h0.6M248.4 466.7h0.6M250.9 453.9h0.6M255.0 455.0h0.6M256.3 453.7h0.6M239.3 460.6h0.6M241.6 462.0h0.6M248.8 444.3h0.6M249.9 441.4h0.6M244.3 447.3h0.6M252.1 460.0h0.6M243.4 451.0h0.6M251.7 451.5h0.6M254.1 446.6h0.6M253.9 458.0h0.6M250.9 460.7h0.6M240.2 453.8h0.6M250.3 450.3h0.6M257.1 438.8h0.6M249.9 454.7h0.6M247.5 452.5h0.6M252.9 458.8h0.6M250.4 462.5h0.6M250.6 463.4h0.6M247.3 449.8h0.6M244.2 435.4h0.6M250.2 451.9h0.6M247.0 445.5h0.6M243.9 456.4h0.6M255.4 455.4h0.6M255.4 463.5h0.6M254.3 458.7h0.6M247.5 451.3h0.6M253.1 458.1h0.6M246.5 455.0h0.6M251.6 455.5h0.6M249.8 448.0h0.6M248.8 448.1h0.6M252.2 439.5h0.6M252.4 446.6h0.6M253.8 450.7h0.6M242.3 441.0h0.6M249.6 454.0h0.6M247.5 446.6h0.6M249.8 461.2h0.6M250.6 457.6h0.6M249.3 455.3h0.6M252.6 437.9h0.6M248.1 443.4h0.6M254.2 447.3h0.6M247.7 451.4h0.6M246.5 456.4h0.6M241.7 434.8h0.6M245.7 447.0h0.6M249.7 449.2h0.6M249.2 449.8h0.6M256.9 449.0h0.6M254.4 451.2h0.6M245.9 445.2h0.6M248.7 442.1h0.6M240.0 455.9h0.6M252.5 449.6h0.6M247.9 477.6h0.6M246.2 458.5h0.6M244.7 450.1h0.6M244.8 453.8h0.6M240.3 457.1h0.6M249.7 433.6h0.6M252.3 449.4h0.6M250.1 439.9h0.6M244.6 445.4h0.6M254.4 447.1h0.6M250.9 450.6h0.6M247.0 455.3h0.6M247.7 443.3h0.6M246.8 458.6h0.6M244.4 452.7h0.6M241.7 452.5h0.6M252.2 452.7h0.6M241.4 450.2h0.6M241.9 444.9h0.6M238.6 459.1h0.6M249.4 442.6h0.6M240.5 445.8h0.6M247.9 458.4h0.6" stroke="#2a3ce0" stroke-width="0.6" fill="none" opacity="0.85"/>
<path d="M247.6 423.1h0.6M253.6 425.6h0.6M255.2 416.2h0.6M246.8 420.3h0.6M250.0 425.0h0.6M252.1 415.2h0.6M247.9 416.8h0.6M252.9 422.1h0.6M246.9 418.1h0.6M248.5 408.8h0.6M255.2 426.2h0.6M252.9 424.4h0.6M247.9 433.1h0.6M253.2 417.3h0.6M247.1 419.4h0.6M253.2 424.1h0.6M249.9 423.7h0.6M249.9 428.3h0.6M251.9 426.3h0.6M248.1 430.5h0.6M252.1 418.1h0.6M251.6 412.2h0.6M252.1 425.8h0.6M251.7 420.3h0.6M248.3 416.4h0.6M252.3 411.6h0.6M251.3 419.5h0.6M249.8 408.3h0.6M247.4 407.8h0.6M253.2 426.9h0.6M252.9 421.8h0.6M249.5 427.8h0.6M248.8 428.3h0.6M248.7 422.8h0.6M244.7 423.0h0.6M249.6 427.3h0.6M254.2 417.5h0.6M252.2 408.0h0.6M252.9 422.4h0.6M255.0 423.0h0.6M249.3 417.1h0.6M254.6 415.9h0.6M247.5 418.9h0.6M249.3 425.2h0.6M249.6 433.9h0.6M247.5 423.3h0.6M247.3 409.4h0.6M251.5 425.1h0.6M250.9 418.1h0.6M247.9 419.5h0.6M248.9 414.2h0.6M247.8 428.6h0.6M255.3 417.7h0.6M246.6 426.1h0.6M249.2 438.4h0.6M254.1 423.2h0.6M251.3 407.6h0.6M247.7 420.8h0.6M247.3 415.7h0.6M248.1 430.2h0.6M250.7 425.8h0.6M252.1 425.1h0.6M249.6 425.1h0.6M251.5 412.5h0.6M249.5 425.9h0.6M246.1 430.2h0.6M252.8 413.8h0.6M247.0 431.8h0.6M248.3 422.7h0.6M253.8 416.9h0.6M251.6 423.9h0.6M246.3 425.0h0.6M247.7 426.3h0.6M253.0 430.2h0.6M248.6 426.6h0.6M251.5 432.1h0.6M252.2 415.4h0.6M248.1 417.5h0.6M249.7 412.5h0.6M257.4 424.2h0.6M249.9 423.1h0.6M250.0 411.3h0.6M248.3 430.0h0.6M254.8 425.8h0.6M248.5 411.7h0.6M244.9 425.6h0.6M250.5 423.4h0.6M252.6 426.3h0.6M251.0 428.0h0.6M253.9 428.5h0.6M255.3 412.6h0.6M248.8 429.5h0.6M247.2 421.5h0.6M250.3 415.6h0.6M252.9 423.7h0.6M254.6 423.8h0.6M254.0 421.2h0.6M249.5 414.5h0.6M252.2 422.3h0.6M248.6 420.3h0.6M248.9 424.3h0.6M251.2 416.8h0.6M250.1 436.7h0.6M252.4 423.5h0.6M254.2 418.5h0.6M251.1 426.6h0.6M248.4 411.3h0.6M256.9 422.7h0.6M250.7 420.1h0.6M251.4 415.7h0.6M250.1 422.7h0.6M253.8 423.7h0.6M249.4 418.6h0.6M251.7 422.5h0.6M255.0 411.5h0.6M254.8 429.9h0.6M248.6 418.1h0.6M247.7 426.4h0.6M254.6 417.8h0.6M247.9 424.3h0.6M252.2 430.9h0.6M253.1 415.4h0.6M248.4 418.5h0.6M255.8 421.7h0.6M246.9 421.9h0.6M251.4 417.9h0.6M249.2 418.8h0.6M250.9 417.0h0.6M254.6 420.5h0.6M247.4 421.4h0.6M248.9 420.2h0.6M253.5 424.2h0.6M249.9 430.6h0.6M251.1 427.6h0.6M253.2 422.1h0.6M250.7 419.2h0.6M254.1 428.6h0.6M246.4 427.9h0.6M253.7 424.1h0.6M249.2 420.2h0.6M250.3 418.5h0.6M251.9 425.6h0.6M253.2 425.0h0.6M251.0 418.8h0.6M250.2 429.2h0.6M251.7 436.9h0.6M251.4 419.9h0.6M247.7 410.2h0.6M253.3 423.5h0.6M252.9 424.0h0.6M252.8 428.4h0.6M251.9 433.9h0.6M249.9 425.0h0.6M248.0 420.5h0.6M250.4 411.5h0.6M250.7 429.9h0.6M249.4 404.9h0.6M247.3 419.9h0.6M249.3 429.5h0.6M249.5 430.5h0.6" stroke="#3aa0f0" stroke-width="0.6" fill="none" opacity="0.9"/>
<ellipse cx="250.5" cy="425" rx="4.6" ry="13" fill="#3088f0" opacity="0.8" filter="url(#bl1)"/>
<ellipse cx="250.7" cy="423" rx="4.2" ry="10" fill="#30b0f0" opacity="0.9" filter="url(#bl1)"/>
<ellipse cx="250.8" cy="422" rx="3.7" ry="8.2" fill="#28c8e8" opacity="0.95" filter="url(#bl05)"/>
<ellipse cx="250.8" cy="422" rx="2.89" ry="6.4" fill="#3ce05a" opacity="0.95" filter="url(#bl05)"/>
<ellipse cx="250.8" cy="422" rx="2.04" ry="4.51" fill="#e8f020" opacity="0.95" filter="url(#bl05)"/>
<ellipse cx="250.8" cy="422" rx="1.41" ry="3.12" fill="#ff8a10" opacity="0.95" filter="url(#bl05)"/>
<ellipse cx="250.8" cy="422" rx="0.81" ry="1.8" fill="#f01818" opacity="0.95" filter="url(#bl05)"/>
<ellipse cx="250.2" cy="438" rx="1.2" ry="6" fill="#30c0e8" opacity="0.7" filter="url(#bl1)"/>
</g>
<rect x="234.5" y="402" width="41.25" height="26.25" fill="none" stroke="#6a6a6a" stroke-width="0.7" />
<text transform="translate(260.3,434.89) scale(1.02,1)" font-size="7.2" text-anchor="start" fill="#333" >75</text>
<text transform="translate(321.5,398.46) scale(1.04,1)" font-size="7.4" text-anchor="middle" fill="#1c1c1c" >Ysh2#+vector</text>
<rect x="288.1" y="402.3" width="64" height="64.1" fill="#fff" stroke="#222" stroke-width="1.0" />
<line x1="285.1" y1="465.5" x2="288.1" y2="465.5" stroke="#222" stroke-width="0.9" />
<line x1="285.1" y1="440.5" x2="288.1" y2="440.5" stroke="#222" stroke-width="0.9" />
<line x1="285.1" y1="416.5" x2="288.1" y2="416.5" stroke="#222" stroke-width="0.9" />
<line x1="286.5" y1="457.5" x2="288.1" y2="457.5" stroke="#222" stroke-width="0.6" />
<line x1="286.5" y1="453.5" x2="288.1" y2="453.5" stroke="#222" stroke-width="0.6" />
<line x1="286.5" y1="450.5" x2="288.1" y2="450.5" stroke="#222" stroke-width="0.6" />
<line x1="286.5" y1="448.5" x2="288.1" y2="448.5" stroke="#222" stroke-width="0.6" />
<line x1="286.5" y1="446.5" x2="288.1" y2="446.5" stroke="#222" stroke-width="0.6" />
<line x1="286.5" y1="444.5" x2="288.1" y2="444.5" stroke="#222" stroke-width="0.6" />
<line x1="286.5" y1="443.5" x2="288.1" y2="443.5" stroke="#222" stroke-width="0.6" />
<line x1="286.5" y1="441.5" x2="288.1" y2="441.5" stroke="#222" stroke-width="0.6" />
<line x1="286.5" y1="433.5" x2="288.1" y2="433.5" stroke="#222" stroke-width="0.6" />
<line x1="286.5" y1="428.5" x2="288.1" y2="428.5" stroke="#222" stroke-width="0.6" />
<line x1="286.5" y1="425.5" x2="288.1" y2="425.5" stroke="#222" stroke-width="0.6" />
<line x1="286.5" y1="423.5" x2="288.1" y2="423.5" stroke="#222" stroke-width="0.6" />
<line x1="286.5" y1="421.5" x2="288.1" y2="421.5" stroke="#222" stroke-width="0.6" />
<line x1="286.5" y1="419.5" x2="288.1" y2="419.5" stroke="#222" stroke-width="0.6" />
<line x1="286.5" y1="418.5" x2="288.1" y2="418.5" stroke="#222" stroke-width="0.6" />
<line x1="286.5" y1="417.5" x2="288.1" y2="417.5" stroke="#222" stroke-width="0.6" />
<line x1="286.5" y1="408.5" x2="288.1" y2="408.5" stroke="#222" stroke-width="0.6" />
<line x1="286.5" y1="404.5" x2="288.1" y2="404.5" stroke="#222" stroke-width="0.6" />
<line x1="289.5" y1="466.4" x2="289.5" y2="468.1" stroke="#222" stroke-width="0.65" />
<line x1="292.5" y1="466.4" x2="292.5" y2="468.1" stroke="#222" stroke-width="0.65" />
<line x1="294.5" y1="466.4" x2="294.5" y2="468.1" stroke="#222" stroke-width="0.65" />
<line x1="295.5" y1="466.4" x2="295.5" y2="468.1" stroke="#222" stroke-width="0.65" />
<line x1="297.5" y1="466.4" x2="297.5" y2="469.2" stroke="#222" stroke-width="0.9" />
<line x1="308.5" y1="466.4" x2="308.5" y2="468.1" stroke="#222" stroke-width="0.65" />
<line x1="314.5" y1="466.4" x2="314.5" y2="468.1" stroke="#222" stroke-width="0.65" />
<line x1="319.5" y1="466.4" x2="319.5" y2="468.1" stroke="#222" stroke-width="0.65" />
<line x1="322.5" y1="466.4" x2="322.5" y2="468.1" stroke="#222" stroke-width="0.65" />
<line x1="325.5" y1="466.4" x2="325.5" y2="468.1" stroke="#222" stroke-width="0.65" />
<line x1="328.5" y1="466.4" x2="328.5" y2="468.1" stroke="#222" stroke-width="0.65" />
<line x1="330.5" y1="466.4" x2="330.5" y2="468.1" stroke="#222" stroke-width="0.65" />
<line x1="331.5" y1="466.4" x2="331.5" y2="468.1" stroke="#222" stroke-width="0.65" />
<line x1="333.5" y1="466.4" x2="333.5" y2="469.2" stroke="#222" stroke-width="0.9" />
<line x1="344.5" y1="466.4" x2="344.5" y2="468.1" stroke="#222" stroke-width="0.65" />
<line x1="350.5" y1="466.4" x2="350.5" y2="468.1" stroke="#222" stroke-width="0.65" />
<clipPath id="cp5"><rect x="288.7" y="402.9" width="62.8" height="62.9"/></clipPath><g clip-path="url(#cp5)">
<ellipse cx="318.1" cy="436" rx="7" ry="28" fill="#5a70f0" opacity="0.25" filter="url(#bl2)" transform="rotate(10 318.1 436)"/>
<path d="M320.4 434.2h0.6M329.4 446.2h0.6M317.6 443.0h0.6M318.2 424.6h0.6M321.3 429.5h0.6M321.7 433.3h0.6M315.1 414.5h0.6M320.3 404.7h0.6M318.6 431.5h0.6M323.9 423.2h0.6M315.7 444.8h0.6M323.6 420.7h0.6M325.5 427.3h0.6M323.4 432.2h0.6M319.9 416.4h0.6M311.1 472.9h0.6M311.5 459.4h0.6M324.1 430.8h0.6M318.5 458.2h0.6M318.4 427.6h0.6M321.3 442.3h0.6M324.8 444.2h0.6M313.9 434.5h0.6M311.6 446.9h0.6M321.8 430.1h0.6M312.4 449.3h0.6M313.4 454.8h0.6M315.2 431.1h0.6M318.9 419.6h0.6M323.6 463.9h0.6M313.6 448.0h0.6M308.0 454.3h0.6M323.1 431.5h0.6M316.1 439.7h0.6M320.8 430.8h0.6M315.7 431.5h0.6M314.4 448.0h0.6M317.8 439.8h0.6M313.0 429.1h0.6M318.1 427.8h0.6M318.5 431.4h0.6M309.9 449.8h0.6M322.9 428.8h0.6M323.0 422.2h0.6M314.0 432.2h0.6M324.2 435.7h0.6M311.8 439.0h0.6M317.9 424.8h0.6M324.2 409.5h0.6M315.4 412.6h0.6M321.9 438.7h0.6M317.7 425.5h0.6M317.2 456.4h0.6M314.7 440.2h0.6M325.3 447.6h0.6M316.0 441.7h0.6M316.7 447.2h0.6M320.8 429.3h0.6M316.7 442.5h0.6M315.4 437.5h0.6M311.4 455.4h0.6M326.3 424.4h0.6M320.8 440.0h0.6M319.2 433.0h0.6M316.4 452.6h0.6M310.8 451.8h0.6M320.2 419.7h0.6M316.2 446.7h0.6M317.0 441.4h0.6M318.4 428.3h0.6M324.4 423.1h0.6M320.9 442.8h0.6M317.7 433.2h0.6M317.2 436.1h0.6M318.4 434.7h0.6M316.7 403.1h0.6M321.1 427.4h0.6M316.5 433.9h0.6M309.9 460.0h0.6M318.6 434.2h0.6M311.9 449.8h0.6M316.8 460.3h0.6M323.7 425.0h0.6M309.8 457.1h0.6M316.0 434.8h0.6M316.2 444.5h0.6M323.0 421.4h0.6M320.5 409.9h0.6M320.7 434.8h0.6M309.1 451.7h0.6M320.9 421.5h0.6M318.2 427.7h0.6M318.0 440.2h0.6M314.9 443.1h0.6M309.6 430.0h0.6M318.0 451.9h0.6M323.9 421.6h0.6M312.9 430.7h0.6M325.8 442.4h0.6M320.0 410.9h0.6M319.9 430.1h0.6M319.5 440.1h0.6M309.9 433.5h0.6M322.6 428.3h0.6M316.9 418.4h0.6M307.4 469.3h0.6M324.9 428.4h0.6M326.0 421.5h0.6M318.2 425.1h0.6M315.7 446.6h0.6M323.6 449.2h0.6M317.3 439.1h0.6M316.3 442.2h0.6M314.3 440.0h0.6M317.3 451.3h0.6M314.0 442.5h0.6M321.3 424.5h0.6M312.4 427.0h0.6M322.1 432.9h0.6M324.9 446.6h0.6M315.8 434.6h0.6M318.5 444.2h0.6M316.1 443.4h0.6M326.4 452.3h0.6M320.0 429.6h0.6M311.2 438.1h0.6M316.8 435.6h0.6M314.1 447.9h0.6M323.9 426.7h0.6M312.3 440.5h0.6M322.1 443.7h0.6M323.6 415.8h0.6M314.6 445.0h0.6M319.5 436.6h0.6M317.9 449.8h0.6M320.3 425.9h0.6M312.5 438.8h0.6M318.0 433.7h0.6M323.9 427.3h0.6M315.4 446.2h0.6M320.6 403.6h0.6M314.0 448.4h0.6M316.6 432.4h0.6M308.3 453.2h0.6M313.6 425.4h0.6M312.3 465.6h0.6M320.4 425.8h0.6M313.6 430.9h0.6M315.3 426.4h0.6M315.1 454.8h0.6M310.5 456.2h0.6M306.0 464.3h0.6M316.8 430.5h0.6M315.8 439.6h0.6M318.8 431.5h0.6M317.1 427.8h0.6M319.7 428.5h0.6M319.5 414.4h0.6M316.9 443.8h0.6M311.8 450.7h0.6M317.7 438.0h0.6M310.4 444.6h0.6M317.5 466.2h0.6M316.1 435.2h0.6M319.4 444.8h0.6M315.7 437.0h0.6M320.2 445.4h0.6M315.2 452.0h0.6M311.7 442.0h0.6M316.7 430.6h0.6M316.4 462.9h0.6M319.4 438.7h0.6M322.0 448.8h0.6M311.8 426.1h0.6M317.5 426.1h0.6M311.1 445.2h0.6M314.2 462.6h0.6M316.8 438.2h0.6M312.8 451.3h0.6M318.3 462.4h0.6M323.3 428.8h0.6M324.8 424.0h0.6M316.4 433.6h0.6M327.4 427.7h0.6M314.0 439.7h0.6M320.9 445.9h0.6M322.3 424.8h0.6M313.4 455.5h0.6M320.2 427.4h0.6M313.4 456.6h0.6M323.2 444.1h0.6M310.9 461.1h0.6M315.6 438.1h0.6M319.7 437.2h0.6M313.3 460.7h0.6M323.0 416.2h0.6M312.7 456.1h0.6M320.2 421.9h0.6M320.1 444.8h0.6M316.8 445.5h0.6M316.4 439.5h0.6M321.7 429.2h0.6M325.3 422.4h0.6M325.3 439.5h0.6M322.6 419.5h0.6M323.1 425.3h0.6M319.9 437.7h0.6M310.7 462.6h0.6M320.1 429.7h0.6M316.1 441.6h0.6M316.1 449.7h0.6M315.6 440.0h0.6M318.3 426.5h0.6M323.1 425.8h0.6M310.7 445.8h0.6M314.9 445.1h0.6M318.7 445.0h0.6M314.4 460.1h0.6M311.5 453.7h0.6M316.9 441.5h0.6M314.5 449.7h0.6M321.0 431.1h0.6M317.1 444.4h0.6M311.3 473.5h0.6M321.2 432.0h0.6M321.1 441.9h0.6M317.3 432.1h0.6M310.6 447.5h0.6M323.7 437.2h0.6M319.8 411.7h0.6M313.9 436.7h0.6M316.4 434.7h0.6M315.7 434.6h0.6M316.9 440.0h0.6M318.0 440.3h0.6M316.1 432.8h0.6M315.2 429.3h0.6M316.9 443.7h0.6M315.9 422.6h0.6M319.4 419.4h0.6M317.7 434.3h0.6M311.5 460.5h0.6M316.1 440.6h0.6M309.8 448.3h0.6M318.8 440.4h0.6M310.8 435.1h0.6M314.8 442.7h0.6M319.4 429.5h0.6M313.4 454.9h0.6M326.4 412.9h0.6M315.0 446.1h0.6M315.9 441.5h0.6M312.8 460.8h0.6M321.2 434.9h0.6M321.4 447.6h0.6M325.2 431.5h0.6M310.9 447.8h0.6M322.8 411.7h0.6M304.5 436.2h0.6M320.5 425.5h0.6M316.2 438.4h0.6M310.1 454.5h0.6M313.5 436.8h0.6M319.5 429.8h0.6M313.2 449.1h0.6M312.6 435.9h0.6M325.8 426.8h0.6M314.1 428.8h0.6M309.8 423.9h0.6M316.2 424.0h0.6M313.5 444.9h0.6M320.9 421.8h0.6M325.2 423.3h0.6M324.6 430.5h0.6M316.1 429.4h0.6M322.9 439.4h0.6M322.3 412.3h0.6M318.9 432.0h0.6M318.9 424.8h0.6M309.3 454.2h0.6M313.2 444.7h0.6M319.7 439.3h0.6M317.0 446.1h0.6M317.1 435.2h0.6M318.8 439.6h0.6M324.0 396.8h0.6M321.2 418.2h0.6M319.0 455.7h0.6M318.3 440.5h0.6M311.4 432.6h0.6M310.6 462.9h0.6M307.6 468.7h0.6M322.8 406.4h0.6M325.1 434.5h0.6M316.6 453.0h0.6M313.8 428.5h0.6M315.3 455.3h0.6M316.0 445.1h0.6M310.6 443.2h0.6M315.8 430.9h0.6M316.2 449.9h0.6M314.6 442.6h0.6M315.4 445.7h0.6M312.9 457.0h0.6M317.2 420.7h0.6M324.5 426.8h0.6M318.6 447.4h0.6M312.9 431.3h0.6M316.8 434.5h0.6M312.4 438.3h0.6M321.7 420.5h0.6M317.6 439.8h0.6M312.3 434.5h0.6M319.4 448.1h0.6M316.3 424.5h0.6M317.1 442.5h0.6M320.8 438.2h0.6M322.7 427.2h0.6M325.1 434.9h0.6M316.2 427.4h0.6M313.7 424.1h0.6M315.7 443.2h0.6M324.3 424.3h0.6M313.7 445.9h0.6M319.8 448.0h0.6M322.0 419.3h0.6M320.2 412.8h0.6M312.4 454.0h0.6M324.4 432.9h0.6M316.7 456.3h0.6M317.9 415.2h0.6M321.3 404.5h0.6M320.8 434.9h0.6M316.9 436.4h0.6M319.9 435.7h0.6M312.1 444.4h0.6M315.4 439.6h0.6M315.6 435.4h0.6M312.2 436.5h0.6M314.2 451.1h0.6M317.5 422.1h0.6M325.7 406.9h0.6M320.5 434.5h0.6M316.2 436.5h0.6M319.4 421.7h0.6M322.9 422.7h0.6M319.0 432.5h0.6M317.1 425.6h0.6M320.0 430.2h0.6M320.6 448.8h0.6M313.9 449.7h0.6M305.3 458.9h0.6M316.8 415.6h0.6M326.2 411.9h0.6M314.6 439.5h0.6M311.1 431.7h0.6M323.1 425.3h0.6M325.6 423.0h0.6M322.0 442.1h0.6M319.1 431.8h0.6M311.8 450.2h0.6M313.9 434.4h0.6M319.3 442.6h0.6M322.1 426.3h0.6M312.9 437.8h0.6M314.7 450.8h0.6M311.1 433.7h0.6M320.7 428.5h0.6M312.3 434.5h0.6M323.5 425.6h0.6M317.4 419.7h0.6M319.2 408.2h0.6M329.7 433.8h0.6M319.2 453.2h0.6M314.5 443.4h0.6M321.1 456.2h0.6M323.5 425.4h0.6M315.7 435.7h0.6M325.4 426.0h0.6M317.4 453.2h0.6M320.9 436.2h0.6M314.0 445.6h0.6M315.9 441.1h0.6M317.7 427.7h0.6M319.1 420.7h0.6M324.9 416.1h0.6M320.6 429.6h0.6M324.1 411.8h0.6M318.0 436.6h0.6M320.4 451.7h0.6M319.6 435.1h0.6M315.6 451.0h0.6M321.2 445.6h0.6M326.3 414.6h0.6M316.3 465.8h0.6M320.0 427.7h0.6M327.8 409.7h0.6M325.4 419.8h0.6M322.8 419.6h0.6M323.2 438.2h0.6M316.1 435.7h0.6M319.0 459.7h0.6M319.5 433.5h0.6M323.1 439.6h0.6M311.2 464.5h0.6M311.7 440.5h0.6M322.7 444.4h0.6M316.7 451.1h0.6M314.8 436.6h0.6M315.4 452.1h0.6M319.6 439.1h0.6M319.1 458.0h0.6M307.3 474.6h0.6M320.7 431.1h0.6M330.6 402.9h0.6M313.2 441.3h0.6M318.9 420.4h0.6M313.4 459.8h0.6M316.2 450.4h0.6M320.9 438.4h0.6M320.1 428.6h0.6M317.0 450.0h0.6M317.7 437.6h0.6M319.8 439.7h0.6M324.1 411.6h0.6M323.8 415.0h0.6M320.9 436.4h0.6M319.8 420.2h0.6M322.5 432.7h0.6M321.5 410.6h0.6M325.0 431.4h0.6M312.4 454.5h0.6M326.4 402.9h0.6M314.0 459.9h0.6M319.2 427.4h0.6M319.2 449.5h0.6M316.9 427.9h0.6M317.6 430.1h0.6M315.6 427.3h0.6M324.5 415.9h0.6M320.5 445.7h0.6M318.8 449.5h0.6M319.4 414.8h0.6M322.3 437.8h0.6M317.3 452.0h0.6M313.9 436.0h0.6M320.5 423.7h0.6M315.2 437.2h0.6M316.2 456.1h0.6M317.6 458.8h0.6M316.0 440.9h0.6M318.8 433.1h0.6M313.0 456.4h0.6M323.2 439.2h0.6M311.9 419.0h0.6M311.0 461.2h0.6M322.6 434.6h0.6M319.9 442.7h0.6M318.2 435.8h0.6M317.6 422.2h0.6M320.4 421.8h0.6M320.2 433.4h0.6M314.4 441.9h0.6M316.5 431.8h0.6M313.3 446.0h0.6M319.1 434.5h0.6M316.2 444.1h0.6M321.1 411.0h0.6M323.8 439.7h0.6M323.0 425.3h0.6M315.5 420.3h0.6M321.2 431.7h0.6M318.7 430.1h0.6M308.7 459.5h0.6M317.4 422.3h0.6M313.4 440.8h0.6M321.9 440.5h0.6M320.2 433.6h0.6M322.2 441.3h0.6M322.2 422.2h0.6M320.6 447.5h0.6M318.3 426.8h0.6M322.8 419.3h0.6M320.5 425.6h0.6M311.8 452.0h0.6M319.1 410.4h0.6M324.9 428.7h0.6M321.9 437.7h0.6M318.9 413.2h0.6M316.8 440.7h0.6M316.9 431.0h0.6M315.7 434.4h0.6M319.2 433.6h0.6M313.2 424.0h0.6M318.0 429.3h0.6M313.2 426.7h0.6M317.0 411.5h0.6M321.8 422.9h0.6M319.2 452.6h0.6M311.0 438.2h0.6M311.4 443.1h0.6M318.3 456.1h0.6M325.9 416.6h0.6M322.8 414.4h0.6M317.6 447.9h0.6M315.4 448.0h0.6M316.5 428.4h0.6M318.6 409.2h0.6M318.4 436.0h0.6M316.7 423.0h0.6M311.1 445.0h0.6M321.4 428.8h0.6M317.9 429.2h0.6M314.1 440.5h0.6M326.6 407.2h0.6M323.4 423.5h0.6M320.5 415.0h0.6M316.6 433.6h0.6M310.6 472.5h0.6M317.4 431.6h0.6M315.8 442.0h0.6M318.7 446.7h0.6M317.4 438.7h0.6M309.8 435.5h0.6M314.0 438.9h0.6M314.7 443.5h0.6M315.5 444.4h0.6M308.5 448.9h0.6M309.2 457.9h0.6M313.0 435.2h0.6M314.3 437.1h0.6M324.0 423.6h0.6M317.1 448.0h0.6M312.4 447.2h0.6M314.7 443.7h0.6M306.6 479.6h0.6M322.8 406.5h0.6M320.5 431.3h0.6M313.5 429.7h0.6M313.5 436.7h0.6M317.5 419.9h0.6M317.9 440.5h0.6M317.3 439.9h0.6M317.1 439.8h0.6M319.9 450.0h0.6M316.1 458.3h0.6M309.8 448.6h0.6M313.3 424.2h0.6M313.6 442.4h0.6M324.7 427.1h0.6M309.3 447.9h0.6M321.1 414.8h0.6M324.5 442.6h0.6M318.3 437.8h0.6M315.4 444.0h0.6M315.3 453.0h0.6M312.8 434.6h0.6M324.7 419.6h0.6M322.7 424.8h0.6M318.2 455.2h0.6M316.2 454.9h0.6M311.5 451.8h0.6M315.0 454.9h0.6M310.8 455.6h0.6M310.2 461.0h0.6M316.9 455.0h0.6M317.9 453.9h0.6M318.9 455.6h0.6M309.7 445.4h0.6M320.5 446.9h0.6M313.8 459.4h0.6M313.0 450.6h0.6M313.4 456.0h0.6M314.7 457.5h0.6M310.3 460.6h0.6M315.1 458.9h0.6M317.2 457.5h0.6M310.1 451.4h0.6M311.5 450.1h0.6M312.0 446.5h0.6M314.2 454.8h0.6M317.7 452.6h0.6M320.0 454.6h0.6M313.1 455.4h0.6M319.1 460.0h0.6M315.2 455.1h0.6M312.6 448.5h0.6M313.5 453.3h0.6M319.7 452.8h0.6M318.6 455.5h0.6M312.9 458.2h0.6M306.6 445.6h0.6M320.3 456.8h0.6M315.5 454.1h0.6M314.6 454.5h0.6M313.8 456.0h0.6M315.0 457.8h0.6M310.6 453.0h0.6M319.9 453.3h0.6M315.3 455.9h0.6M312.9 464.0h0.6M316.2 446.0h0.6M317.9 449.0h0.6M307.8 451.5h0.6M317.0 446.7h0.6M317.2 450.8h0.6M318.3 458.6h0.6M311.5 443.4h0.6M314.0 444.4h0.6M316.8 452.7h0.6M318.2 452.1h0.6M310.6 457.2h0.6M310.5 455.1h0.6M313.6 451.2h0.6M309.4 457.8h0.6M319.7 453.5h0.6M310.9 453.4h0.6M309.8 445.4h0.6M317.5 455.5h0.6M312.8 463.4h0.6M314.0 454.7h0.6M317.0 451.9h0.6M315.1 456.7h0.6M316.5 456.6h0.6M318.9 458.9h0.6M316.5 459.1h0.6M312.0 450.5h0.6M313.1 460.3h0.6M309.6 456.6h0.6M311.5 452.7h0.6M311.2 446.1h0.6M318.9 453.6h0.6M314.1 455.2h0.6M304.5 461.5h0.6M319.6 454.5h0.6M314.9 458.2h0.6M316.2 459.4h0.6M316.4 454.0h0.6M315.9 449.2h0.6M313.7 460.5h0.6M318.8 457.3h0.6M316.7 452.5h0.6M316.9 454.2h0.6M310.8 461.1h0.6M314.3 456.3h0.6M310.0 455.0h0.6M315.2 457.6h0.6M315.8 457.1h0.6M317.1 460.9h0.6M317.8 450.7h0.6M314.7 461.3h0.6M317.3 453.7h0.6M314.1 454.5h0.6M314.8 445.1h0.6M306.9 452.1h0.6M309.1 450.0h0.6M310.7 455.3h0.6M313.5 461.4h0.6M314.2 453.7h0.6M313.7 453.9h0.6M310.7 448.8h0.6M318.5 451.4h0.6M311.0 448.8h0.6M311.6 448.2h0.6M311.3 446.2h0.6M308.7 464.7h0.6M314.5 456.4h0.6M318.3 457.0h0.6M315.2 453.0h0.6M317.2 451.1h0.6M313.0 452.4h0.6M318.0 454.7h0.6M314.4 462.0h0.6M319.0 457.0h0.6M315.1 452.8h0.6M314.0 459.0h0.6M315.7 461.5h0.6M315.6 449.9h0.6M311.5 444.7h0.6M315.5 450.6h0.6" stroke="#2a3ce0" stroke-width="0.6" fill="none" opacity="0.85"/>
<path d="M322.0 421.2h0.6M321.3 421.2h0.6M319.8 427.1h0.6M320.0 422.5h0.6M320.1 421.1h0.6M320.6 416.2h0.6M319.7 427.7h0.6M321.3 419.1h0.6M316.5 438.2h0.6M323.9 416.2h0.6M319.8 412.8h0.6M324.1 412.2h0.6M321.7 416.3h0.6M321.7 416.6h0.6M320.3 423.3h0.6M320.9 433.5h0.6M321.1 425.8h0.6M325.0 413.2h0.6M324.2 422.3h0.6M318.4 433.5h0.6M319.9 423.6h0.6M320.8 432.8h0.6M317.8 428.2h0.6M321.4 422.7h0.6M321.0 441.6h0.6M321.3 428.9h0.6M319.5 421.9h0.6M319.3 426.9h0.6M321.8 419.1h0.6M321.4 415.8h0.6M319.8 423.8h0.6M321.0 423.2h0.6M321.0 423.0h0.6M318.3 429.2h0.6M320.0 420.1h0.6M322.3 424.1h0.6M319.5 436.0h0.6M320.4 415.3h0.6M325.0 420.1h0.6M317.1 438.7h0.6M321.3 422.5h0.6M317.0 422.3h0.6M318.7 427.7h0.6M316.8 424.8h0.6M323.2 425.2h0.6M321.9 405.9h0.6M320.4 419.2h0.6M320.2 414.0h0.6M321.5 433.7h0.6M319.4 417.9h0.6M320.2 415.5h0.6M320.8 427.5h0.6M322.2 424.3h0.6M319.7 433.9h0.6M321.1 426.4h0.6M317.5 422.1h0.6M319.9 424.2h0.6M323.4 420.2h0.6M324.2 418.0h0.6M324.6 416.7h0.6M322.6 409.1h0.6M320.7 406.0h0.6M321.9 421.9h0.6M315.8 425.7h0.6M320.7 414.6h0.6M319.7 425.4h0.6M320.3 424.4h0.6M320.6 431.3h0.6M317.6 427.3h0.6M318.9 416.8h0.6M318.3 418.1h0.6M322.4 426.2h0.6M324.1 419.9h0.6M325.5 407.3h0.6M320.8 431.5h0.6M322.4 419.9h0.6M319.5 423.3h0.6M323.3 431.7h0.6M322.1 411.1h0.6M323.3 418.5h0.6M323.9 413.4h0.6M318.2 425.9h0.6M320.1 431.7h0.6M321.1 422.4h0.6M322.0 422.5h0.6M319.0 423.6h0.6M322.8 426.6h0.6M320.4 431.0h0.6M322.6 417.1h0.6M319.6 427.2h0.6M323.8 426.0h0.6M318.9 424.4h0.6M322.0 414.9h0.6M318.6 442.9h0.6M318.7 427.4h0.6M322.7 423.3h0.6M316.7 426.4h0.6M320.4 419.4h0.6M321.1 424.9h0.6M321.1 433.9h0.6M318.1 430.3h0.6M320.2 426.1h0.6M323.5 423.4h0.6M321.0 414.2h0.6M323.3 428.7h0.6M322.1 420.2h0.6M325.7 409.5h0.6M320.5 438.7h0.6M323.1 427.8h0.6M321.7 423.5h0.6M320.2 424.4h0.6M320.1 423.4h0.6M319.4 424.1h0.6M320.2 434.4h0.6M320.1 428.3h0.6M319.2 431.0h0.6M320.7 415.1h0.6M318.8 418.2h0.6M318.7 435.1h0.6M321.2 425.4h0.6M318.7 419.3h0.6M316.8 444.8h0.6M321.9 433.3h0.6M318.5 420.9h0.6M319.8 425.1h0.6M317.4 427.8h0.6M322.4 410.3h0.6M318.7 432.3h0.6M321.3 429.6h0.6M316.8 429.9h0.6M320.9 425.4h0.6M319.5 414.4h0.6M322.5 429.3h0.6M321.1 436.1h0.6M320.3 420.1h0.6M316.6 433.5h0.6M321.2 423.4h0.6M319.5 425.4h0.6M325.6 420.6h0.6M316.4 430.5h0.6M318.5 438.3h0.6M320.5 429.9h0.6M317.9 421.4h0.6M319.6 424.5h0.6M321.6 425.1h0.6M318.6 434.5h0.6M320.1 439.3h0.6M320.4 418.7h0.6M318.2 417.2h0.6M318.9 435.0h0.6M319.9 413.0h0.6M320.6 421.7h0.6M322.0 420.2h0.6M320.2 421.5h0.6M323.3 410.6h0.6M323.1 413.3h0.6M323.3 419.5h0.6M322.2 419.3h0.6M320.9 428.2h0.6M316.9 431.2h0.6M321.7 417.8h0.6M323.4 408.4h0.6M317.4 430.7h0.6M319.1 431.1h0.6M320.2 430.3h0.6M321.7 427.8h0.6M321.6 419.5h0.6M319.3 439.8h0.6M319.1 428.4h0.6M320.6 425.8h0.6M321.3 432.7h0.6M322.3 436.2h0.6M316.9 429.1h0.6M317.5 446.0h0.6M319.3 435.4h0.6M323.5 432.3h0.6M318.4 440.9h0.6M319.2 440.1h0.6M315.9 445.2h0.6M318.3 441.5h0.6M318.5 429.7h0.6M321.5 438.7h0.6M318.5 434.0h0.6M318.0 438.3h0.6M318.5 438.1h0.6M319.4 432.0h0.6M318.7 441.1h0.6M317.7 435.7h0.6M319.7 431.5h0.6M319.0 435.6h0.6M318.1 449.5h0.6M319.0 432.8h0.6M319.2 438.1h0.6M318.1 436.3h0.6M317.7 441.1h0.6M318.0 439.0h0.6M318.7 444.9h0.6M318.8 443.2h0.6M321.7 437.0h0.6M320.2 443.0h0.6M317.2 434.7h0.6M321.5 426.3h0.6M315.6 444.7h0.6M318.4 444.1h0.6M321.6 432.6h0.6M315.4 446.2h0.6M316.2 432.4h0.6M319.9 433.0h0.6M317.8 440.0h0.6M319.5 436.4h0.6M319.6 440.2h0.6M319.0 440.8h0.6M318.7 433.8h0.6M320.2 434.3h0.6M321.7 431.4h0.6M317.5 444.4h0.6M318.5 435.2h0.6M321.6 440.7h0.6M319.6 438.4h0.6M319.8 445.3h0.6M318.1 433.0h0.6M314.3 437.4h0.6M318.1 447.1h0.6M317.7 441.7h0.6M318.6 433.2h0.6M316.8 434.0h0.6M319.9 439.9h0.6M315.3 442.9h0.6M319.7 432.8h0.6M315.5 442.9h0.6M318.8 436.5h0.6M321.1 429.0h0.6M317.0 445.1h0.6M317.2 438.3h0.6M320.2 440.7h0.6M319.1 432.9h0.6M318.3 435.5h0.6M320.9 431.1h0.6M317.8 438.0h0.6M320.3 438.3h0.6M318.4 439.4h0.6M315.6 448.3h0.6M316.2 436.8h0.6M317.1 439.6h0.6M318.9 443.6h0.6M318.7 432.3h0.6M316.2 439.2h0.6M318.2 449.2h0.6M319.6 435.9h0.6M321.1 432.2h0.6M321.2 440.2h0.6M319.7 434.2h0.6M318.5 443.5h0.6M319.4 438.8h0.6M318.8 433.3h0.6M314.7 444.0h0.6M319.6 434.1h0.6M319.0 438.5h0.6M318.3 432.5h0.6M320.8 437.8h0.6" stroke="#38a0e8" stroke-width="0.6" fill="none" opacity="0.9"/>
<path d="M320.3 415.6h0.7M319.9 420.5h0.7M319.7 424.9h0.7M321.4 416.0h0.7M321.7 416.7h0.7M320.7 417.7h0.7M319.8 417.8h0.7M321.2 421.8h0.7M320.8 424.2h0.7M321.3 425.7h0.7M319.8 422.2h0.7M321.5 418.8h0.7M323.3 417.6h0.7M320.0 428.4h0.7M321.2 420.8h0.7M319.3 426.6h0.7M320.4 423.3h0.7M320.4 424.6h0.7M321.6 415.8h0.7M317.9 431.0h0.7M319.7 425.6h0.7M324.7 414.0h0.7M319.9 422.9h0.7M320.6 417.2h0.7M320.0 419.3h0.7M321.0 423.6h0.7M320.5 419.7h0.7M320.8 421.2h0.7M320.4 423.0h0.7M318.7 421.4h0.7M321.1 423.7h0.7M320.2 424.1h0.7M321.3 422.1h0.7M321.3 413.0h0.7M322.9 421.7h0.7M322.6 414.0h0.7M321.4 419.0h0.7M319.3 429.3h0.7M319.3 419.9h0.7M319.8 429.7h0.7M321.9 419.4h0.7M323.0 404.8h0.7M321.7 422.1h0.7M323.0 417.4h0.7M320.4 423.1h0.7M321.5 420.2h0.7M321.4 421.0h0.7M319.8 425.5h0.7M320.0 416.5h0.7M318.2 426.1h0.7M320.1 424.7h0.7M322.1 420.9h0.7M320.7 421.0h0.7M322.2 415.9h0.7M322.9 416.0h0.7M320.7 421.7h0.7M319.8 425.1h0.7M319.8 424.2h0.7M320.7 424.2h0.7M323.3 417.4h0.7M318.9 426.9h0.7M322.0 424.3h0.7M320.4 424.6h0.7M319.7 420.8h0.7M320.4 424.2h0.7M318.8 426.0h0.7M323.7 416.8h0.7M322.4 409.4h0.7M322.9 423.7h0.7M320.8 421.8h0.7M319.8 442.1h0.7M319.1 434.8h0.7M318.4 442.6h0.7M321.9 435.8h0.7M321.1 431.4h0.7M320.1 433.6h0.7M319.3 440.0h0.7M320.5 437.0h0.7M319.2 438.2h0.7M318.0 438.0h0.7M318.8 436.2h0.7M320.0 435.7h0.7M317.6 433.1h0.7M318.8 432.9h0.7M319.6 435.1h0.7M318.8 435.6h0.7M318.5 435.9h0.7M319.8 432.9h0.7M319.5 437.8h0.7M320.1 438.7h0.7M320.7 430.6h0.7M319.3 434.7h0.7M318.8 434.2h0.7M319.6 437.1h0.7M319.4 434.8h0.7M319.9 433.9h0.7M317.8 441.0h0.7M319.8 439.0h0.7M320.2 432.4h0.7M319.3 437.5h0.7M319.9 431.9h0.7M319.9 435.3h0.7M319.0 440.9h0.7M318.2 444.1h0.7M319.1 437.5h0.7M318.9 436.1h0.7" stroke="#50d050" stroke-width="0.7" fill="none" opacity="0.95"/>
<path d="M320.1 424.3h0.7M320.7 418.4h0.7M320.5 416.6h0.7M322.5 422.6h0.7M321.6 419.1h0.7M321.4 424.1h0.7M320.8 420.1h0.7M320.5 418.8h0.7M321.0 420.2h0.7M320.5 419.8h0.7M321.7 417.6h0.7M320.9 417.4h0.7M321.2 425.0h0.7M321.0 426.5h0.7M320.5 420.0h0.7M320.6 422.2h0.7M319.1 435.0h0.7M319.3 435.2h0.7M319.2 434.7h0.7M319.4 435.3h0.7M319.3 435.0h0.7M318.7 435.3h0.7M319.7 436.0h0.7M319.2 436.7h0.7M319.2 436.4h0.7" stroke="#e8e020" stroke-width="0.7" fill="none" opacity="0.95"/>
<path d="M321.2 420.8h0.7M321.9 419.8h0.7M320.7 419.5h0.7M321.1 419.8h0.7M321.2 421.5h0.7M319.2 430.3h0.7M319.4 428.8h0.7M319.5 432.0h0.7" stroke="#f06018" stroke-width="0.7" fill="none" opacity="0.95"/>
</g>
<rect x="304.6" y="402" width="40.9" height="25.7" fill="none" stroke="#6a6a6a" stroke-width="0.7" />
<text transform="translate(330.6,434.39) scale(1.02,1)" font-size="7.2" text-anchor="start" fill="#333" >35</text>
<text transform="translate(388.8,398.46) scale(1.04,1)" font-size="7.4" text-anchor="middle" fill="#1c1c1c" >Ysh2#+MCM4</text>
<rect x="357.3" y="402.3" width="64" height="64.1" fill="#fff" stroke="#222" stroke-width="1.0" />
<line x1="354.3" y1="465.5" x2="357.3" y2="465.5" stroke="#222" stroke-width="0.9" />
<line x1="354.3" y1="440.5" x2="357.3" y2="440.5" stroke="#222" stroke-width="0.9" />
<line x1="354.3" y1="416.5" x2="357.3" y2="416.5" stroke="#222" stroke-width="0.9" />
<line x1="355.7" y1="457.5" x2="357.3" y2="457.5" stroke="#222" stroke-width="0.6" />
<line x1="355.7" y1="453.5" x2="357.3" y2="453.5" stroke="#222" stroke-width="0.6" />
<line x1="355.7" y1="450.5" x2="357.3" y2="450.5" stroke="#222" stroke-width="0.6" />
<line x1="355.7" y1="448.5" x2="357.3" y2="448.5" stroke="#222" stroke-width="0.6" />
<line x1="355.7" y1="446.5" x2="357.3" y2="446.5" stroke="#222" stroke-width="0.6" />
<line x1="355.7" y1="444.5" x2="357.3" y2="444.5" stroke="#222" stroke-width="0.6" />
<line x1="355.7" y1="443.5" x2="357.3" y2="443.5" stroke="#222" stroke-width="0.6" />
<line x1="355.7" y1="441.5" x2="357.3" y2="441.5" stroke="#222" stroke-width="0.6" />
<line x1="355.7" y1="433.5" x2="357.3" y2="433.5" stroke="#222" stroke-width="0.6" />
<line x1="355.7" y1="428.5" x2="357.3" y2="428.5" stroke="#222" stroke-width="0.6" />
<line x1="355.7" y1="425.5" x2="357.3" y2="425.5" stroke="#222" stroke-width="0.6" />
<line x1="355.7" y1="423.5" x2="357.3" y2="423.5" stroke="#222" stroke-width="0.6" />
<line x1="355.7" y1="421.5" x2="357.3" y2="421.5" stroke="#222" stroke-width="0.6" />
<line x1="355.7" y1="419.5" x2="357.3" y2="419.5" stroke="#222" stroke-width="0.6" />
<line x1="355.7" y1="418.5" x2="357.3" y2="418.5" stroke="#222" stroke-width="0.6" />
<line x1="355.7" y1="417.5" x2="357.3" y2="417.5" stroke="#222" stroke-width="0.6" />
<line x1="355.7" y1="408.5" x2="357.3" y2="408.5" stroke="#222" stroke-width="0.6" />
<line x1="355.7" y1="404.5" x2="357.3" y2="404.5" stroke="#222" stroke-width="0.6" />
<line x1="358.5" y1="466.4" x2="358.5" y2="468.1" stroke="#222" stroke-width="0.65" />
<line x1="361.5" y1="466.4" x2="361.5" y2="468.1" stroke="#222" stroke-width="0.65" />
<line x1="363.5" y1="466.4" x2="363.5" y2="468.1" stroke="#222" stroke-width="0.65" />
<line x1="365.5" y1="466.4" x2="365.5" y2="468.1" stroke="#222" stroke-width="0.65" />
<line x1="366.5" y1="466.4" x2="366.5" y2="469.2" stroke="#222" stroke-width="0.9" />
<line x1="377.5" y1="466.4" x2="377.5" y2="468.1" stroke="#222" stroke-width="0.65" />
<line x1="383.5" y1="466.4" x2="383.5" y2="468.1" stroke="#222" stroke-width="0.65" />
<line x1="388.5" y1="466.4" x2="388.5" y2="468.1" stroke="#222" stroke-width="0.65" />
<line x1="391.5" y1="466.4" x2="391.5" y2="468.1" stroke="#222" stroke-width="0.65" />
<line x1="394.5" y1="466.4" x2="394.5" y2="468.1" stroke="#222" stroke-width="0.65" />
<line x1="397.5" y1="466.4" x2="397.5" y2="468.1" stroke="#222" stroke-width="0.65" />
<line x1="399.5" y1="466.4" x2="399.5" y2="468.1" stroke="#222" stroke-width="0.65" />
<line x1="401.5" y1="466.4" x2="401.5" y2="468.1" stroke="#222" stroke-width="0.65" />
<line x1="402.5" y1="466.4" x2="402.5" y2="469.2" stroke="#222" stroke-width="0.9" />
<line x1="413.5" y1="466.4" x2="413.5" y2="468.1" stroke="#222" stroke-width="0.65" />
<line x1="419.5" y1="466.4" x2="419.5" y2="468.1" stroke="#222" stroke-width="0.65" />
<clipPath id="cp6"><rect x="357.9" y="402.9" width="62.8" height="62.9"/></clipPath><g clip-path="url(#cp6)">
<ellipse cx="387.6" cy="434" rx="7" ry="26" fill="#5a70f0" opacity="0.28" filter="url(#bl2)" transform="rotate(8 387.6 434)"/>
<ellipse cx="388.6" cy="424" rx="4.5" ry="10" fill="#4a68f5" opacity="0.5" filter="url(#bl2)"/>
<path d="M398.4 419.8h0.6M389.4 430.6h0.6M385.2 425.6h0.6M385.7 432.3h0.6M387.2 448.3h0.6M386.3 449.1h0.6M389.1 435.1h0.6M388.5 419.8h0.6M381.4 431.3h0.6M386.2 437.6h0.6M391.2 416.1h0.6M386.9 417.4h0.6M391.6 432.1h0.6M389.7 420.8h0.6M383.6 424.4h0.6M386.2 439.3h0.6M380.9 436.7h0.6M385.1 425.3h0.6M387.0 426.9h0.6M387.6 445.3h0.6M389.8 425.8h0.6M388.4 438.3h0.6M390.3 437.1h0.6M382.6 421.7h0.6M384.1 445.4h0.6M385.2 445.4h0.6M390.9 416.9h0.6M386.6 440.6h0.6M391.9 412.9h0.6M390.2 425.2h0.6M380.3 424.0h0.6M382.2 414.5h0.6M388.4 467.4h0.6M390.8 439.5h0.6M394.2 438.7h0.6M388.3 398.9h0.6M395.3 402.7h0.6M377.5 422.5h0.6M389.4 421.2h0.6M391.7 432.4h0.6M387.4 439.2h0.6M384.8 435.6h0.6M398.4 421.5h0.6M387.1 440.4h0.6M385.4 432.1h0.6M381.6 426.1h0.6M385.5 448.5h0.6M392.3 425.7h0.6M379.6 457.8h0.6M394.7 407.3h0.6M387.9 420.6h0.6M388.4 409.2h0.6M386.8 425.9h0.6M384.5 447.5h0.6M390.7 416.6h0.6M381.7 425.0h0.6M390.2 446.9h0.6M382.9 449.1h0.6M390.4 425.2h0.6M389.4 432.5h0.6M383.9 426.8h0.6M385.6 451.8h0.6M383.0 436.2h0.6M387.7 432.8h0.6M380.2 450.3h0.6M389.6 456.4h0.6M386.5 454.3h0.6M387.7 447.7h0.6M385.8 436.5h0.6M388.3 418.7h0.6M388.0 417.7h0.6M383.9 427.5h0.6M381.1 462.0h0.6M392.5 449.6h0.6M392.4 422.1h0.6M391.5 413.7h0.6M386.0 426.6h0.6M384.4 445.4h0.6M379.7 466.8h0.6M383.9 445.2h0.6M379.5 445.5h0.6M382.3 435.8h0.6M385.9 445.2h0.6M389.2 439.5h0.6M383.1 460.9h0.6M385.7 433.6h0.6M385.4 435.4h0.6M384.5 427.4h0.6M390.7 425.9h0.6M390.6 425.8h0.6M393.5 432.6h0.6M393.6 441.6h0.6M385.2 446.9h0.6M389.2 455.7h0.6M391.4 447.0h0.6M381.1 446.1h0.6M386.4 439.3h0.6M394.0 424.4h0.6M388.2 467.9h0.6M390.4 429.7h0.6M392.7 437.0h0.6M389.3 451.8h0.6M380.9 437.4h0.6M382.9 423.0h0.6M392.3 417.4h0.6M385.6 426.9h0.6M388.1 438.7h0.6M390.3 426.9h0.6M383.7 439.0h0.6M385.7 421.8h0.6M391.9 422.9h0.6M381.7 448.8h0.6M391.7 402.4h0.6M380.7 460.3h0.6M399.4 431.0h0.6M388.9 444.2h0.6M392.4 408.3h0.6M391.0 438.0h0.6M389.8 410.8h0.6M385.2 431.5h0.6M386.1 436.5h0.6M384.0 447.2h0.6M392.3 417.7h0.6M384.3 439.0h0.6M382.6 452.6h0.6M384.9 436.5h0.6M392.2 418.0h0.6M392.9 431.2h0.6M386.0 423.3h0.6M383.4 413.5h0.6M393.7 432.4h0.6M386.0 435.9h0.6M391.4 422.6h0.6M386.1 437.1h0.6M391.0 437.5h0.6M394.5 431.3h0.6M388.9 413.9h0.6M386.1 442.3h0.6M386.9 430.8h0.6M384.8 424.7h0.6M385.9 431.9h0.6M390.8 441.0h0.6M388.8 450.2h0.6M383.1 451.7h0.6M390.3 415.1h0.6M385.3 431.8h0.6M376.9 464.5h0.6M385.6 445.2h0.6M382.5 434.0h0.6M390.0 422.9h0.6M388.5 433.4h0.6M391.3 416.8h0.6M390.1 429.6h0.6M388.4 402.3h0.6M387.5 428.0h0.6M399.3 417.8h0.6M391.0 451.5h0.6M388.6 436.9h0.6M392.4 413.0h0.6M393.7 429.5h0.6M384.6 432.7h0.6M379.2 413.3h0.6M385.9 410.8h0.6M386.7 455.7h0.6M388.2 428.7h0.6M389.7 426.3h0.6M387.2 438.9h0.6M387.4 427.3h0.6M387.6 434.0h0.6M393.1 412.6h0.6M384.0 425.7h0.6M391.9 415.4h0.6M389.5 453.6h0.6M382.4 448.1h0.6M379.4 430.5h0.6M379.0 447.0h0.6M389.8 440.5h0.6M387.3 416.9h0.6M390.1 426.0h0.6M393.2 411.0h0.6M388.1 440.1h0.6M380.9 413.8h0.6M385.8 424.0h0.6M380.5 431.9h0.6M383.1 430.9h0.6M382.4 415.1h0.6M393.5 409.1h0.6M384.4 452.6h0.6M393.2 414.6h0.6M397.3 426.0h0.6M389.2 446.3h0.6M384.9 441.1h0.6M376.3 432.2h0.6M388.7 427.7h0.6M385.8 447.3h0.6M392.3 424.3h0.6M388.2 449.1h0.6M387.1 437.9h0.6M380.7 409.2h0.6M391.8 411.8h0.6M388.5 449.0h0.6M385.7 415.7h0.6M386.1 435.3h0.6M391.1 429.6h0.6M389.4 418.5h0.6M390.0 421.7h0.6M390.0 442.5h0.6M380.2 436.1h0.6M381.1 445.0h0.6M380.8 449.1h0.6M387.8 459.9h0.6M388.6 433.1h0.6M394.6 415.9h0.6M387.8 427.8h0.6M390.2 410.2h0.6M384.0 407.6h0.6M393.8 428.3h0.6M390.1 430.8h0.6M383.9 450.1h0.6M378.6 427.8h0.6M386.0 418.9h0.6M383.9 409.9h0.6M380.5 446.6h0.6M385.5 425.3h0.6M385.4 440.6h0.6M391.1 435.4h0.6M386.3 439.4h0.6M383.8 434.7h0.6M395.3 424.0h0.6M386.9 410.3h0.6M386.3 440.8h0.6M386.3 427.4h0.6M391.9 433.2h0.6M390.8 427.5h0.6M390.7 445.5h0.6M387.9 423.9h0.6M399.5 418.8h0.6M388.4 397.3h0.6M389.9 433.5h0.6M390.0 411.1h0.6M389.0 421.4h0.6M383.2 428.3h0.6M388.9 430.5h0.6M384.0 442.2h0.6M389.0 427.4h0.6M389.1 436.9h0.6M389.4 444.3h0.6M391.4 424.6h0.6M390.6 446.9h0.6M382.8 449.3h0.6M389.7 418.7h0.6M389.7 414.8h0.6M394.3 415.7h0.6M394.8 421.4h0.6M384.4 450.0h0.6M391.9 410.1h0.6M390.4 407.4h0.6M392.0 418.9h0.6M387.3 430.7h0.6M380.8 436.3h0.6M396.1 421.0h0.6M384.4 437.4h0.6M393.8 421.2h0.6M387.5 437.6h0.6M393.1 421.9h0.6M393.1 462.0h0.6M383.6 421.0h0.6M390.1 424.2h0.6M385.4 432.5h0.6M385.7 423.9h0.6M389.0 427.4h0.6M386.8 447.3h0.6M391.6 434.7h0.6M396.2 428.6h0.6M387.5 458.1h0.6M386.6 444.2h0.6M386.7 424.9h0.6M387.3 439.7h0.6M387.6 442.3h0.6M388.9 432.0h0.6M385.3 431.2h0.6M387.7 432.9h0.6M380.8 449.8h0.6M391.3 436.9h0.6M383.5 447.9h0.6M387.1 429.8h0.6M390.8 426.1h0.6M388.9 426.7h0.6M389.0 439.4h0.6M389.4 439.6h0.6M388.0 438.7h0.6M392.4 420.8h0.6M382.8 433.7h0.6M388.6 430.1h0.6M392.4 440.6h0.6M392.2 435.4h0.6M384.8 414.2h0.6M391.6 434.6h0.6M383.2 450.6h0.6M393.4 439.7h0.6M393.1 430.0h0.6M387.0 410.7h0.6M394.7 413.2h0.6M385.8 434.2h0.6M393.3 408.6h0.6M388.2 422.4h0.6M393.5 431.7h0.6M381.8 456.1h0.6M386.6 444.2h0.6M389.1 431.5h0.6M391.8 424.2h0.6M383.4 423.9h0.6M390.7 428.7h0.6M390.3 443.7h0.6M386.3 448.5h0.6M388.4 438.0h0.6M386.7 432.0h0.6M385.3 447.6h0.6M391.5 448.9h0.6M388.7 432.1h0.6M389.6 426.0h0.6M388.1 429.1h0.6M391.9 401.8h0.6M386.3 442.3h0.6M380.1 456.6h0.6M389.2 426.1h0.6M394.7 421.6h0.6M399.2 425.5h0.6M388.4 453.2h0.6M390.0 435.7h0.6M385.1 431.3h0.6M386.5 446.9h0.6M377.9 440.6h0.6M384.4 424.7h0.6M388.3 425.1h0.6M392.9 412.1h0.6M391.3 420.3h0.6M386.3 432.4h0.6M381.4 438.4h0.6M396.9 426.0h0.6M381.3 453.2h0.6M397.8 407.1h0.6M387.7 422.6h0.6M388.4 432.3h0.6M384.5 427.1h0.6M393.5 421.6h0.6M387.2 442.0h0.6M393.3 440.1h0.6M390.2 421.0h0.6M386.0 451.6h0.6M387.0 450.2h0.6M384.3 443.8h0.6M387.9 424.1h0.6M382.9 449.2h0.6M390.1 431.5h0.6M385.0 444.2h0.6M383.7 448.5h0.6M389.8 426.2h0.6M388.8 419.4h0.6M384.4 426.2h0.6M386.4 428.5h0.6M385.9 424.2h0.6M391.3 415.9h0.6M374.7 455.0h0.6M387.6 436.1h0.6M389.9 449.4h0.6M391.3 447.1h0.6M389.6 440.5h0.6M387.3 431.9h0.6M370.7 453.8h0.6M389.0 420.3h0.6M393.3 424.8h0.6M390.6 422.4h0.6M381.0 447.9h0.6M391.0 412.8h0.6M388.4 446.1h0.6M385.1 443.0h0.6M390.3 450.1h0.6M388.5 444.4h0.6M393.4 437.4h0.6M387.0 429.9h0.6M401.8 421.8h0.6M391.1 408.9h0.6M387.8 431.2h0.6M385.8 444.0h0.6M392.8 437.5h0.6M385.4 426.4h0.6M389.0 423.9h0.6M386.3 440.7h0.6M384.5 461.0h0.6M380.9 434.5h0.6M393.7 419.4h0.6M377.0 460.8h0.6M390.2 441.4h0.6M394.1 420.8h0.6M380.2 454.0h0.6M391.0 411.8h0.6M384.1 454.7h0.6M386.5 411.4h0.6M378.9 430.1h0.6M388.4 424.6h0.6M385.9 429.3h0.6M386.2 425.4h0.6M391.2 434.3h0.6M393.1 408.7h0.6M382.0 446.7h0.6M386.1 447.4h0.6M380.7 441.3h0.6M385.3 433.2h0.6M386.7 420.2h0.6M383.7 431.0h0.6M393.6 419.5h0.6M387.1 419.8h0.6M383.0 442.0h0.6M387.6 420.3h0.6M389.6 438.5h0.6M388.6 435.6h0.6M383.7 444.1h0.6M384.7 436.2h0.6M385.9 449.1h0.6M388.0 428.5h0.6M383.5 424.5h0.6M389.1 424.4h0.6M382.6 428.1h0.6M386.7 419.8h0.6M393.1 422.5h0.6M391.2 413.7h0.6M390.5 425.0h0.6M389.4 418.2h0.6M389.5 422.6h0.6M392.5 420.8h0.6M383.8 430.0h0.6M385.4 422.5h0.6M390.7 433.6h0.6M390.1 428.0h0.6M389.1 424.6h0.6M388.3 425.7h0.6M385.9 425.1h0.6M391.9 424.8h0.6M388.1 428.2h0.6M386.0 422.6h0.6M395.1 428.7h0.6M390.8 423.2h0.6M386.5 417.3h0.6M388.6 431.5h0.6M388.4 428.8h0.6M387.7 424.5h0.6M389.7 441.1h0.6M388.9 418.7h0.6M391.3 423.9h0.6M390.2 419.7h0.6M391.2 419.9h0.6M389.7 421.7h0.6M386.4 427.4h0.6M389.8 412.2h0.6M390.6 428.6h0.6M389.1 426.0h0.6M389.4 425.7h0.6M387.6 430.0h0.6M392.2 419.1h0.6M388.8 418.6h0.6M387.3 429.6h0.6M388.7 425.2h0.6M387.5 437.6h0.6M392.0 426.2h0.6M389.2 434.1h0.6M392.1 425.7h0.6M388.1 417.4h0.6M392.5 433.9h0.6M395.4 425.6h0.6M391.2 412.7h0.6M390.5 419.7h0.6M386.2 419.2h0.6M386.1 421.0h0.6M390.2 419.9h0.6M387.6 423.2h0.6M394.4 428.5h0.6M386.8 428.6h0.6M393.4 423.1h0.6M390.7 430.2h0.6M384.5 424.9h0.6M388.3 428.8h0.6M392.4 421.2h0.6M384.2 421.1h0.6M388.6 420.2h0.6M389.3 417.3h0.6M390.1 428.2h0.6M394.4 423.3h0.6M391.5 420.0h0.6M386.6 419.4h0.6M388.2 416.6h0.6M383.4 436.9h0.6M387.7 424.0h0.6M389.1 421.5h0.6M388.0 430.5h0.6M389.4 430.4h0.6M385.2 426.7h0.6M386.0 416.5h0.6M390.7 425.4h0.6M390.6 427.6h0.6M383.0 427.1h0.6M394.0 425.0h0.6M391.4 432.2h0.6M393.7 409.7h0.6M387.7 423.1h0.6M387.9 430.2h0.6M385.0 410.0h0.6M389.4 422.5h0.6M391.6 430.3h0.6M389.7 431.7h0.6M384.8 423.6h0.6M384.8 434.7h0.6M387.8 429.5h0.6M389.9 428.2h0.6M391.5 430.4h0.6M390.8 424.6h0.6M390.7 413.0h0.6M386.0 432.3h0.6M390.2 415.9h0.6M385.0 417.1h0.6M387.5 428.9h0.6M388.5 428.3h0.6M384.9 423.4h0.6M389.1 426.4h0.6M390.7 424.6h0.6M390.9 430.9h0.6M390.0 417.1h0.6M386.7 419.1h0.6M393.0 428.5h0.6M388.8 420.6h0.6M386.9 432.4h0.6M388.1 420.5h0.6M386.4 427.9h0.6M383.3 420.8h0.6M390.4 428.6h0.6M390.3 422.2h0.6M390.9 433.4h0.6M386.2 419.2h0.6M387.6 424.6h0.6M387.1 420.4h0.6M382.2 429.0h0.6M385.6 424.2h0.6M387.1 427.9h0.6M385.1 417.6h0.6M388.8 424.4h0.6M387.2 426.2h0.6M387.2 421.9h0.6M385.2 423.8h0.6M391.2 423.1h0.6M388.4 429.4h0.6M387.4 420.3h0.6M388.8 433.4h0.6M387.5 423.6h0.6M389.5 421.4h0.6M387.5 431.2h0.6M383.7 426.8h0.6M391.2 431.0h0.6M389.2 426.7h0.6M387.0 414.2h0.6M389.2 425.0h0.6M389.8 431.5h0.6M395.8 426.9h0.6M393.5 425.1h0.6M389.6 418.4h0.6M389.3 420.6h0.6M389.2 416.2h0.6M391.8 415.4h0.6M390.0 412.3h0.6M388.6 425.5h0.6M391.0 432.8h0.6M385.1 423.2h0.6M387.9 424.2h0.6M392.1 420.5h0.6M385.6 420.4h0.6M391.1 419.5h0.6M383.4 421.4h0.6M391.9 433.0h0.6M386.7 420.2h0.6M390.7 429.8h0.6M388.6 424.4h0.6" stroke="#2a3ce0" stroke-width="0.6" fill="none" opacity="0.85"/>
<path d="M390.4 415.9h0.6M391.6 418.5h0.6M385.2 430.8h0.6M389.0 428.2h0.6M385.9 425.6h0.6M389.5 425.1h0.6M389.2 423.6h0.6M388.8 417.8h0.6M392.7 421.3h0.6M386.4 425.5h0.6M388.4 420.0h0.6M395.0 426.1h0.6M385.4 421.3h0.6M388.1 423.5h0.6M390.1 426.4h0.6M392.5 421.8h0.6M388.3 429.8h0.6M391.2 422.7h0.6M387.9 430.2h0.6M390.2 430.2h0.6M391.1 426.9h0.6M389.3 425.0h0.6M389.0 417.5h0.6M390.0 428.7h0.6M390.3 420.6h0.6M388.6 430.2h0.6M391.1 419.3h0.6M386.1 425.3h0.6M386.1 434.3h0.6M388.7 427.8h0.6M385.3 424.8h0.6M389.3 416.0h0.6M392.5 424.1h0.6M389.8 422.5h0.6M389.4 427.6h0.6M389.7 426.3h0.6M385.8 423.9h0.6M386.5 425.5h0.6M387.5 414.5h0.6M392.0 422.5h0.6M388.2 424.0h0.6M388.5 427.5h0.6M392.0 421.8h0.6M390.2 427.6h0.6M386.4 427.7h0.6M390.7 423.2h0.6M388.2 418.6h0.6M390.8 420.3h0.6M389.2 416.8h0.6M388.3 414.9h0.6M387.2 427.8h0.6M386.6 418.0h0.6M387.3 421.1h0.6M386.5 424.5h0.6M387.6 427.3h0.6M389.6 424.8h0.6M389.4 425.9h0.6M385.2 434.4h0.6M385.3 431.1h0.6M387.2 412.2h0.6M386.0 412.7h0.6M389.2 421.9h0.6M394.0 424.2h0.6M387.3 430.7h0.6M394.5 419.3h0.6M387.1 423.2h0.6M386.3 419.4h0.6M391.9 429.5h0.6M390.9 424.1h0.6M391.2 414.4h0.6M391.5 415.6h0.6M386.9 425.6h0.6M386.5 424.9h0.6M389.3 429.2h0.6M388.5 424.1h0.6M388.2 423.1h0.6M388.2 423.3h0.6M389.8 429.6h0.6M389.3 407.6h0.6M389.3 413.9h0.6M386.7 426.6h0.6M383.9 419.8h0.6M389.1 423.3h0.6M387.7 415.8h0.6M392.5 416.0h0.6M387.3 427.5h0.6M389.0 427.6h0.6M391.3 417.7h0.6M389.8 419.7h0.6M388.9 423.0h0.6M387.2 424.1h0.6M387.0 439.7h0.6M393.9 424.3h0.6M385.8 408.9h0.6M385.3 430.6h0.6M386.4 421.7h0.6M387.8 420.9h0.6M387.9 421.9h0.6M392.0 425.8h0.6M393.3 426.1h0.6M389.5 436.0h0.6M387.8 432.2h0.6M387.3 431.2h0.6M389.5 427.6h0.6M388.3 439.5h0.6M390.5 420.8h0.6M393.4 420.6h0.6M390.6 430.0h0.6M389.3 428.9h0.6M388.4 427.7h0.6M387.7 422.0h0.6M388.4 426.6h0.6M388.5 433.4h0.6M387.7 438.1h0.6M389.3 424.8h0.6M388.9 430.6h0.6M388.1 429.2h0.6M388.9 415.9h0.6M389.1 435.3h0.6M387.2 429.5h0.6" stroke="#38a0e8" stroke-width="0.6" fill="none" opacity="0.9"/>
<ellipse cx="388.9" cy="424" rx="2.2" ry="5.5" fill="#38c0d8" opacity="0.75" filter="url(#bl1)"/>
<ellipse cx="388.9" cy="424" rx="1.5" ry="3.8" fill="#58d858" opacity="0.85" filter="url(#bl05)"/>
<ellipse cx="388.9" cy="423.6" rx="1" ry="2.4" fill="#e0e030" opacity="0.9" filter="url(#bl05)"/>
<ellipse cx="389" cy="423.2" rx="0.55" ry="1.2" fill="#f05a18" opacity="0.9" filter="url(#bl05)"/>
</g>
<rect x="373.2" y="402" width="41.3" height="25.7" fill="none" stroke="#6a6a6a" stroke-width="0.7" />
<text transform="translate(399.3,434.39) scale(1.02,1)" font-size="7.2" text-anchor="start" fill="#333" >65</text>
<text transform="translate(207.66,452.4) rotate(-90) scale(1.003,1)" font-size="7.4" text-anchor="middle" fill="#1c1c1c" >PCNA-PE</text>
<line x1="211.5" y1="473" x2="211.5" y2="438.5" stroke="#222" stroke-width="0.8" />
<path d="M211 434.5L212.7 439.5L209.3 439.5Z" fill="#222"/>
<line x1="210.6" y1="473.5" x2="241.5" y2="473.5" stroke="#222" stroke-width="0.8" />
<path d="M245 473L240 471.3L240 474.7Z" fill="#222"/>
<text transform="translate(213.7,480.59) scale(1.02,1)" font-size="7.2" text-anchor="start" fill="#1c1c1c" >FSC</text>
<text transform="translate(431,387)" font-size="11.5" text-anchor="start" font-weight="bold" fill="#000" >Q</text>
<line x1="457.5" y1="404.85" x2="457.5" y2="467.45" stroke="#1a1a1a" stroke-width="1.0" />
<line x1="454.3" y1="405.5" x2="457.3" y2="405.5" stroke="#1a1a1a" stroke-width="1.0" />
<text transform="translate(452.3,408.36)" font-size="8.5" text-anchor="end" fill="#1c1c1c" >80</text>
<line x1="454.3" y1="420.5" x2="457.3" y2="420.5" stroke="#1a1a1a" stroke-width="1.0" />
<text transform="translate(452.3,423.76)" font-size="8.5" text-anchor="end" fill="#1c1c1c" >60</text>
<line x1="454.3" y1="436.5" x2="457.3" y2="436.5" stroke="#1a1a1a" stroke-width="1.0" />
<text transform="translate(452.3,439.21)" font-size="8.5" text-anchor="end" fill="#1c1c1c" >40</text>
<line x1="454.3" y1="451.5" x2="457.3" y2="451.5" stroke="#1a1a1a" stroke-width="1.0" />
<text transform="translate(452.3,454.66)" font-size="8.5" text-anchor="end" fill="#1c1c1c" >20</text>
<line x1="454.3" y1="467.5" x2="457.3" y2="467.5" stroke="#1a1a1a" stroke-width="1.0" />
<text transform="translate(452.3,470.06)" font-size="8.5" text-anchor="end" fill="#1c1c1c" >0</text>
<line x1="456.85" y1="467.5" x2="499.3" y2="467.5" stroke="#1a1a1a" stroke-width="1.0" />
<text transform="translate(436.74,436.4) rotate(-90) scale(0.8,1)" font-size="9" text-anchor="middle" fill="#1c1c1c" >% PCNA+ cells</text>
<line x1="464.5" y1="410" x2="464.5" y2="411.5" stroke="#222" stroke-width="0.9" />
<line x1="463" y1="410.5" x2="465.6" y2="410.5" stroke="#222" stroke-width="0.8" />
<rect x="461.9" y="411.5" width="4.8" height="55.5" fill="#d9123c" stroke="#222" stroke-width="0.5" />
<line x1="478.5" y1="439.3" x2="478.5" y2="439.9" stroke="#222" stroke-width="0.9" />
<line x1="477" y1="439.5" x2="479.6" y2="439.5" stroke="#222" stroke-width="0.8" />
<rect x="476" y="439.9" width="4.6" height="27.1" fill="#1b5b97" stroke="#222" stroke-width="0.5" />
<line x1="492.5" y1="412.7" x2="492.5" y2="415.1" stroke="#222" stroke-width="0.9" />
<line x1="490.95" y1="412.5" x2="493.55" y2="412.5" stroke="#222" stroke-width="0.8" />
<rect x="490" y="415.1" width="4.5" height="51.9" fill="#3cc052" stroke="#222" stroke-width="0.5" />
<line x1="458" y1="401.5" x2="477.7" y2="401.5" stroke="#777" stroke-width="1.2" />
<text transform="translate(467.85,402.01) scale(0.9,1)" font-size="7" text-anchor="middle" fill="#222" >***</text>
<line x1="480.1" y1="401.5" x2="496.5" y2="401.5" stroke="#777" stroke-width="1.2" />
<text transform="translate(488.3,402.01) scale(0.9,1)" font-size="7" text-anchor="middle" fill="#222" >***</text>
<text transform="translate(468.3,473.5) rotate(-45) scale(1.04,1)" font-size="7.8" text-anchor="end" fill="#1c1c1c" >Scr+vector</text>
<text transform="translate(482.3,473.5) rotate(-45) scale(1.04,1)" font-size="7.8" text-anchor="end" fill="#1c1c1c" >Ysh2#+vector</text>
<text transform="translate(496.2,473.5) rotate(-45) scale(1.04,1)" font-size="7.8" text-anchor="end" fill="#1c1c1c" >Ysh2#+MCM4</text>
<text transform="translate(7.3,526.3)" font-size="11.5" text-anchor="start" font-weight="bold" fill="#000" >R</text>
<text transform="translate(26.8,529.88) scale(1.03,1)" font-size="8" text-anchor="start" fill="#1c1c1c" >MOLM-13</text>
<rect x="27.6" y="533.4" width="34.6" height="7.6" fill="#050c07" stroke="#bdbdbd" stroke-width="0.7" />
<rect x="28.29" y="534.75" width="33.22" height="2.62" rx="1.31" fill="#0c3a10" opacity="0.63" filter="url(#bl05)"/>
<rect x="28.98" y="535.24" width="28.37" height="1.33" rx="0.67" fill="#28c828" opacity="0.95" filter="url(#bl05)"/>
<rect x="30.37" y="535.56" width="21.45" height="0.7" rx="0.35" fill="#6cf05a" opacity="0.9" filter="url(#bl05)"/>
<line x1="30.4" y1="539.33" x2="36.2" y2="539.33" stroke="#fff" stroke-width="1.4" />
<rect x="27.6" y="542" width="34.6" height="7.6" fill="#050c07" stroke="#bdbdbd" stroke-width="0.7" />
<rect x="28.29" y="544.87" width="33.22" height="2.62" rx="1.31" fill="#0c3a10" opacity="0.63" filter="url(#bl05)"/>
<rect x="28.64" y="545.55" width="32.52" height="1.25" rx="0.62" fill="#28c828" opacity="0.85" filter="url(#bl05)"/>
<rect x="29.33" y="545.79" width="5.19" height="0.78" rx="0.39" fill="#6cf05a" opacity="0.8" filter="url(#bl05)"/>
<rect x="37.98" y="545.83" width="6.92" height="0.7" rx="0.35" fill="#6cf05a" opacity="0.6" filter="url(#bl05)"/>
<rect x="51.82" y="545.83" width="6.92" height="0.7" rx="0.35" fill="#6cf05a" opacity="0.5" filter="url(#bl05)"/>
<rect x="27.6" y="550.8" width="34.6" height="7.6" fill="#050c07" stroke="#bdbdbd" stroke-width="0.7" />
<rect x="28.29" y="553.85" width="33.22" height="2.25" rx="1.12" fill="#0c3a10" opacity="0.56" filter="url(#bl05)"/>
<rect x="29.33" y="554.47" width="28.72" height="1.01" rx="0.51" fill="#1a8a1a" opacity="0.95" filter="url(#bl05)"/>
<rect x="31.06" y="554.67" width="13.84" height="0.62" rx="0.31" fill="#28c828" opacity="0.8" filter="url(#bl05)"/>
<rect x="27.6" y="560.7" width="34.6" height="7.6" fill="#050c07" stroke="#bdbdbd" stroke-width="0.7" />
<rect x="28.29" y="562.62" width="20.07" height="2.25" rx="1.12" fill="#0c3a10" opacity="0.56" filter="url(#bl05)"/>
<rect x="29.68" y="563" width="13.49" height="1.17" rx="0.58" fill="#28c828" opacity="0.9" filter="url(#bl05)"/>
<rect x="30.37" y="563.28" width="7.61" height="0.62" rx="0.31" fill="#6cf05a" opacity="0.7" filter="url(#bl05)"/>
<line x1="30.4" y1="566.63" x2="36.2" y2="566.63" stroke="#fff" stroke-width="1.4" />
<rect x="27.6" y="569.6" width="34.6" height="7.6" fill="#050c07" stroke="#bdbdbd" stroke-width="0.7" />
<rect x="28.29" y="572.27" width="33.22" height="2.25" rx="1.12" fill="#0c3a10" opacity="0.35" filter="url(#bl05)"/>
<rect x="30.02" y="572.48" width="3.81" height="1.09" rx="0.55" fill="#28c828" opacity="0.85" filter="url(#bl05)"/>
<rect x="57.36" y="573.39" width="1.38" height="0.78" rx="0.39" fill="#1a8a1a" opacity="0.8" filter="url(#bl05)"/>
<rect x="27.6" y="578.6" width="34.6" height="7.6" fill="#050c07" stroke="#bdbdbd" stroke-width="0.7" />
<rect x="28.29" y="581.27" width="33.22" height="2.25" rx="1.12" fill="#0c3a10" opacity="0.35" filter="url(#bl05)"/>
<rect x="29.33" y="581.48" width="6.92" height="1.09" rx="0.55" fill="#28c828" opacity="0.9" filter="url(#bl05)"/>
<rect x="27.6" y="590" width="34.6" height="7.6" fill="#050c07" stroke="#bdbdbd" stroke-width="0.7" />
<rect x="28.29" y="591.35" width="33.22" height="2.62" rx="1.31" fill="#0c3a10" opacity="0.63" filter="url(#bl05)"/>
<rect x="28.64" y="591.88" width="32.52" height="1.25" rx="0.62" fill="#28c828" opacity="0.9" filter="url(#bl05)"/>
<rect x="29.33" y="592.16" width="15.57" height="0.7" rx="0.35" fill="#6cf05a" opacity="0.85" filter="url(#bl05)"/>
<line x1="30.4" y1="595.93" x2="36.2" y2="595.93" stroke="#fff" stroke-width="1.4" />
<rect x="27.6" y="598.6" width="34.6" height="7.6" fill="#050c07" stroke="#bdbdbd" stroke-width="0.7" />
<rect x="28.29" y="601.27" width="33.22" height="2.25" rx="1.12" fill="#0c3a10" opacity="0.56" filter="url(#bl05)"/>
<rect x="28.98" y="601.86" width="26.3" height="1.09" rx="0.55" fill="#28c828" opacity="0.85" filter="url(#bl05)"/>
<rect x="37.98" y="601.86" width="13.84" height="0.62" rx="0.31" fill="#6cf05a" opacity="0.7" filter="url(#bl05)"/>
<rect x="27.6" y="607.7" width="34.6" height="7.6" fill="#050c07" stroke="#bdbdbd" stroke-width="0.7" />
<rect x="28.29" y="610.19" width="33.22" height="2.62" rx="1.31" fill="#0c3a10" opacity="0.63" filter="url(#bl05)"/>
<rect x="28.64" y="610.91" width="31.83" height="1.17" rx="0.58" fill="#28c828" opacity="0.85" filter="url(#bl05)"/>
<rect x="32.79" y="611.15" width="10.38" height="0.7" rx="0.35" fill="#6cf05a" opacity="0.75" filter="url(#bl05)"/>
<rect x="46.63" y="611.34" width="12.11" height="0.62" rx="0.31" fill="#6cf05a" opacity="0.5" filter="url(#bl05)"/>
<text transform="translate(65.5,545.16) scale(1.04,1)" font-size="7.4" text-anchor="start" fill="#1c1c1c" >Scr+</text>
<text transform="translate(65.5,555.16) scale(1.04,1)" font-size="7.4" text-anchor="start" fill="#1c1c1c" >vector</text>
<text transform="translate(65.5,572.66) scale(1.04,1)" font-size="7.4" text-anchor="start" fill="#1c1c1c" >Ysh2#+</text>
<text transform="translate(65.5,582.16) scale(1.04,1)" font-size="7.4" text-anchor="start" fill="#1c1c1c" >vector</text>
<text transform="translate(65.5,600.16) scale(1.04,1)" font-size="7.4" text-anchor="start" fill="#1c1c1c" >Ysh2#+</text>
<text transform="translate(65.5,609.66) scale(1.04,1)" font-size="7.4" text-anchor="start" fill="#1c1c1c" >MCM4</text>
<text transform="translate(115.3,527)" font-size="11.5" text-anchor="start" font-weight="bold" fill="#000" >S</text>
<line x1="145.5" y1="534.05" x2="145.5" y2="599.95" stroke="#1a1a1a" stroke-width="1.0" />
<line x1="142.4" y1="534.5" x2="145.4" y2="534.5" stroke="#1a1a1a" stroke-width="1.0" />
<text transform="translate(140.8,537.09) scale(1.03,1)" font-size="7.2" text-anchor="end" fill="#1c1c1c" >45</text>
<line x1="142.4" y1="541.5" x2="145.4" y2="541.5" stroke="#1a1a1a" stroke-width="1.0" />
<text transform="translate(140.8,544.31) scale(1.03,1)" font-size="7.2" text-anchor="end" fill="#1c1c1c" >40</text>
<line x1="142.4" y1="548.5" x2="145.4" y2="548.5" stroke="#1a1a1a" stroke-width="1.0" />
<text transform="translate(140.8,551.54) scale(1.03,1)" font-size="7.2" text-anchor="end" fill="#1c1c1c" >35</text>
<line x1="142.4" y1="556.5" x2="145.4" y2="556.5" stroke="#1a1a1a" stroke-width="1.0" />
<text transform="translate(140.8,558.76) scale(1.03,1)" font-size="7.2" text-anchor="end" fill="#1c1c1c" >30</text>
<line x1="142.4" y1="563.5" x2="145.4" y2="563.5" stroke="#1a1a1a" stroke-width="1.0" />
<text transform="translate(140.8,565.98) scale(1.03,1)" font-size="7.2" text-anchor="end" fill="#1c1c1c" >25</text>
<line x1="142.4" y1="570.5" x2="145.4" y2="570.5" stroke="#1a1a1a" stroke-width="1.0" />
<text transform="translate(140.8,573.2) scale(1.03,1)" font-size="7.2" text-anchor="end" fill="#1c1c1c" >20</text>
<line x1="142.4" y1="577.5" x2="145.4" y2="577.5" stroke="#1a1a1a" stroke-width="1.0" />
<text transform="translate(140.8,580.42) scale(1.03,1)" font-size="7.2" text-anchor="end" fill="#1c1c1c" >15</text>
<line x1="142.4" y1="585.5" x2="145.4" y2="585.5" stroke="#1a1a1a" stroke-width="1.0" />
<text transform="translate(140.8,587.65) scale(1.03,1)" font-size="7.2" text-anchor="end" fill="#1c1c1c" >10</text>
<line x1="142.4" y1="592.5" x2="145.4" y2="592.5" stroke="#1a1a1a" stroke-width="1.0" />
<text transform="translate(140.8,594.87) scale(1.03,1)" font-size="7.2" text-anchor="end" fill="#1c1c1c" >5</text>
<line x1="142.4" y1="599.5" x2="145.4" y2="599.5" stroke="#1a1a1a" stroke-width="1.0" />
<text transform="translate(140.8,602.09) scale(1.03,1)" font-size="7.2" text-anchor="end" fill="#1c1c1c" >0</text>
<line x1="144.95" y1="599.5" x2="224.5" y2="599.5" stroke="#1a1a1a" stroke-width="1.0" />
<text transform="translate(125.28,566.4) rotate(-90) scale(0.983,1)" font-size="8" text-anchor="middle" fill="#1c1c1c" >Fiber length (μm)</text>
<line x1="162.5" y1="551.8" x2="162.5" y2="573.9" stroke="#222" stroke-width="1.0" />
<line x1="162.5" y1="588.7" x2="162.5" y2="595.8" stroke="#222" stroke-width="1.0" />
<line x1="158.95" y1="551.5" x2="165.75" y2="551.5" stroke="#222" stroke-width="1.0" />
<line x1="158.95" y1="595.5" x2="165.75" y2="595.5" stroke="#222" stroke-width="1.0" />
<rect x="152.2" y="573.9" width="20.3" height="14.8" fill="#d9123c" stroke="#222" stroke-width="0.7" />
<line x1="152.2" y1="583.5" x2="172.5" y2="583.5" stroke="#1a1a1a" stroke-width="1.1" />
<text transform="translate(162.35,582.3)" font-size="6" text-anchor="middle" font-weight="bold" fill="#111" >×</text>
<circle cx="162.35" cy="538.8" r="0.55" fill="#d9123c"/>
<circle cx="162.35" cy="540.5" r="0.55" fill="#d9123c"/>
<circle cx="162.35" cy="542.3" r="0.55" fill="#d9123c"/>
<circle cx="162.35" cy="544" r="0.55" fill="#d9123c"/>
<circle cx="162.35" cy="545.6" r="0.55" fill="#d9123c"/>
<line x1="184.5" y1="562.8" x2="184.5" y2="581" stroke="#222" stroke-width="1.0" />
<line x1="184.5" y1="593.3" x2="184.5" y2="596.7" stroke="#222" stroke-width="1.0" />
<line x1="180.6" y1="562.5" x2="187.4" y2="562.5" stroke="#222" stroke-width="1.0" />
<line x1="180.6" y1="596.5" x2="187.4" y2="596.5" stroke="#222" stroke-width="1.0" />
<rect x="174" y="581" width="20" height="12.3" fill="#1b5b97" stroke="#222" stroke-width="0.7" />
<line x1="174" y1="587.5" x2="194" y2="587.5" stroke="#1a1a1a" stroke-width="1.1" />
<text transform="translate(184,587.5)" font-size="6" text-anchor="middle" font-weight="bold" fill="#111" >×</text>
<circle cx="184" cy="540.4" r="0.55" fill="#1b5b97"/>
<circle cx="184" cy="545.5" r="0.55" fill="#1b5b97"/>
<circle cx="184" cy="548.5" r="0.55" fill="#1b5b97"/>
<circle cx="184" cy="551" r="0.55" fill="#1b5b97"/>
<circle cx="184" cy="553.5" r="0.55" fill="#1b5b97"/>
<circle cx="184" cy="556" r="0.55" fill="#1b5b97"/>
<circle cx="184" cy="559.6" r="0.55" fill="#1b5b97"/>
<line x1="206.5" y1="560.4" x2="206.5" y2="578.8" stroke="#222" stroke-width="1.0" />
<line x1="206.5" y1="591.8" x2="206.5" y2="595.2" stroke="#222" stroke-width="1.0" />
<line x1="203.1" y1="560.5" x2="209.9" y2="560.5" stroke="#222" stroke-width="1.0" />
<line x1="203.1" y1="595.5" x2="209.9" y2="595.5" stroke="#222" stroke-width="1.0" />
<rect x="196.5" y="578.8" width="20" height="13" fill="#3cc052" stroke="#222" stroke-width="0.7" />
<line x1="196.5" y1="585.5" x2="216.5" y2="585.5" stroke="#1a1a1a" stroke-width="1.1" />
<text transform="translate(206.5,585.7)" font-size="6" text-anchor="middle" font-weight="bold" fill="#111" >×</text>
<circle cx="206.5" cy="554.2" r="0.55" fill="#3cc052"/>
<circle cx="206.5" cy="558.5" r="0.55" fill="#3cc052"/>
<line x1="160.2" y1="533.5" x2="184.8" y2="533.5" stroke="#333" stroke-width="1.2" />
<text transform="translate(172.5,534) scale(0.9,1)" font-size="6.5" text-anchor="middle" fill="#222" >****</text>
<line x1="188.5" y1="532.5" x2="213" y2="532.5" stroke="#333" stroke-width="1.2" />
<text transform="translate(200.75,533.1) scale(0.9,1)" font-size="6.5" text-anchor="middle" fill="#222" >****</text>
<text transform="translate(160.8,608.83) scale(0.99,1)" font-size="7.3" text-anchor="middle" fill="#1c1c1c" >Scr+</text>
<text transform="translate(160.8,617.93) scale(0.99,1)" font-size="7.3" text-anchor="middle" fill="#1c1c1c" >vector</text>
<text transform="translate(184.2,608.83) scale(0.99,1)" font-size="7.3" text-anchor="middle" fill="#1c1c1c" >Ysh2#+</text>
<text transform="translate(184.2,617.93) scale(0.99,1)" font-size="7.3" text-anchor="middle" fill="#1c1c1c" >vector</text>
<text transform="translate(210,608.83) scale(0.99,1)" font-size="7.3" text-anchor="middle" fill="#1c1c1c" >Ysh2#+</text>
<text transform="translate(210,617.93) scale(0.99,1)" font-size="7.3" text-anchor="middle" fill="#1c1c1c" >MCM4</text>
<text transform="translate(250.6,526.6)" font-size="11.5" text-anchor="start" font-weight="bold" fill="#000" >T</text>
<text transform="translate(268.8,530.56) scale(1.03,1)" font-size="7.4" text-anchor="start" fill="#1c1c1c" >KSUMI-1</text>
<rect x="267.8" y="534.5" width="34.4" height="7.7" fill="#050c07" stroke="#bdbdbd" stroke-width="0.7" />
<rect x="268.49" y="535.89" width="33.02" height="2.62" rx="1.31" fill="#0c3a10" opacity="0.63" filter="url(#bl05)"/>
<rect x="268.83" y="536.42" width="31.65" height="1.25" rx="0.62" fill="#28c828" opacity="0.9" filter="url(#bl05)"/>
<rect x="269.52" y="536.69" width="17.2" height="0.7" rx="0.35" fill="#6cf05a" opacity="0.85" filter="url(#bl05)"/>
<line x1="270.6" y1="540.51" x2="276.4" y2="540.51" stroke="#fff" stroke-width="1.4" />
<rect x="267.8" y="543.1" width="34.4" height="7.7" fill="#050c07" stroke="#bdbdbd" stroke-width="0.7" />
<rect x="268.49" y="545.83" width="33.02" height="2.25" rx="1.12" fill="#0c3a10" opacity="0.56" filter="url(#bl05)"/>
<rect x="270.55" y="546.41" width="26.49" height="1.09" rx="0.55" fill="#28c828" opacity="0.85" filter="url(#bl05)"/>
<rect x="271.93" y="546.64" width="13.07" height="0.62" rx="0.31" fill="#6cf05a" opacity="0.7" filter="url(#bl05)"/>
<rect x="267.8" y="551.7" width="34.4" height="7.7" fill="#050c07" stroke="#bdbdbd" stroke-width="0.7" />
<rect x="268.49" y="554.43" width="33.02" height="2.25" rx="1.12" fill="#0c3a10" opacity="0.49" filter="url(#bl05)"/>
<rect x="269.52" y="555.01" width="22.36" height="1.09" rx="0.55" fill="#28c828" opacity="0.9" filter="url(#bl05)"/>
<rect x="270.55" y="555.24" width="12.73" height="0.62" rx="0.31" fill="#6cf05a" opacity="0.7" filter="url(#bl05)"/>
<rect x="267.8" y="562.2" width="34.4" height="7.7" fill="#050c07" stroke="#bdbdbd" stroke-width="0.7" />
<rect x="268.49" y="563.38" width="23.39" height="2.25" rx="1.12" fill="#0c3a10" opacity="0.49" filter="url(#bl05)"/>
<rect x="269.18" y="563.81" width="8.94" height="1.09" rx="0.55" fill="#28c828" opacity="0.9" filter="url(#bl05)"/>
<rect x="286.72" y="564.12" width="1.72" height="0.78" rx="0.39" fill="#1a8a1a" opacity="0.8" filter="url(#bl05)"/>
<line x1="270.6" y1="568.21" x2="276.4" y2="568.21" stroke="#fff" stroke-width="1.4" />
<rect x="267.8" y="570.8" width="34.4" height="7.7" fill="#050c07" stroke="#bdbdbd" stroke-width="0.7" />
<rect x="268.49" y="573.52" width="33.02" height="2.25" rx="1.12" fill="#0c3a10" opacity="0.28" filter="url(#bl05)"/>
<rect x="270.55" y="573.38" width="4.13" height="1.01" rx="0.51" fill="#28c828" opacity="0.8" filter="url(#bl05)"/>
<rect x="267.8" y="579.5" width="34.4" height="7.7" fill="#050c07" stroke="#bdbdbd" stroke-width="0.7" />
<rect x="268.49" y="582.23" width="33.02" height="2.25" rx="1.12" fill="#0c3a10" opacity="0.28" filter="url(#bl05)"/>
<rect x="271.93" y="583.53" width="6.88" height="1.17" rx="0.58" fill="#28c828" opacity="0.9" filter="url(#bl05)"/>
<rect x="267.8" y="590.5" width="34.4" height="7.7" fill="#050c07" stroke="#bdbdbd" stroke-width="0.7" />
<rect x="268.49" y="591.89" width="33.02" height="2.62" rx="1.31" fill="#0c3a10" opacity="0.63" filter="url(#bl05)"/>
<rect x="268.83" y="592.46" width="29.93" height="1.17" rx="0.58" fill="#28c828" opacity="0.9" filter="url(#bl05)"/>
<rect x="269.52" y="592.73" width="15.48" height="0.62" rx="0.31" fill="#6cf05a" opacity="0.8" filter="url(#bl05)"/>
<line x1="270.6" y1="596.51" x2="276.4" y2="596.51" stroke="#fff" stroke-width="1.4" />
<rect x="267.8" y="599.3" width="34.4" height="7.7" fill="#050c07" stroke="#bdbdbd" stroke-width="0.7" />
<rect x="268.49" y="602.02" width="33.02" height="2.25" rx="1.12" fill="#0c3a10" opacity="0.56" filter="url(#bl05)"/>
<rect x="269.18" y="602.61" width="31.3" height="1.09" rx="0.55" fill="#28c828" opacity="0.85" filter="url(#bl05)"/>
<rect x="274.68" y="602.84" width="13.76" height="0.62" rx="0.31" fill="#6cf05a" opacity="0.6" filter="url(#bl05)"/>
<rect x="267.8" y="608.3" width="34.4" height="7.7" fill="#050c07" stroke="#bdbdbd" stroke-width="0.7" />
<rect x="268.49" y="610.84" width="33.02" height="2.62" rx="1.31" fill="#0c3a10" opacity="0.63" filter="url(#bl05)"/>
<rect x="268.83" y="611.56" width="32.34" height="1.17" rx="0.58" fill="#28c828" opacity="0.85" filter="url(#bl05)"/>
<rect x="271.24" y="611.84" width="13.76" height="0.62" rx="0.31" fill="#6cf05a" opacity="0.7" filter="url(#bl05)"/>
<text transform="translate(306.5,544.56) scale(1.04,1)" font-size="7.4" text-anchor="start" fill="#1c1c1c" >Scr+</text>
<text transform="translate(306.5,554.76) scale(1.04,1)" font-size="7.4" text-anchor="start" fill="#1c1c1c" >vector</text>
<text transform="translate(306.5,572.26) scale(1.04,1)" font-size="7.4" text-anchor="start" fill="#1c1c1c" >Ysh2#+</text>
<text transform="translate(306.5,581.66) scale(1.04,1)" font-size="7.4" text-anchor="start" fill="#1c1c1c" >vector</text>
<text transform="translate(306.5,600.06) scale(1.04,1)" font-size="7.4" text-anchor="start" fill="#1c1c1c" >Ysh2#+</text>
<text transform="translate(306.5,609.96) scale(1.04,1)" font-size="7.4" text-anchor="start" fill="#1c1c1c" >MCM4</text>
<text transform="translate(357,527)" font-size="11.5" text-anchor="start" font-weight="bold" fill="#000" >U</text>
<line x1="389.5" y1="534.35" x2="389.5" y2="600.25" stroke="#1a1a1a" stroke-width="1.0" />
<line x1="386.2" y1="534.5" x2="389.2" y2="534.5" stroke="#1a1a1a" stroke-width="1.0" />
<text transform="translate(384.6,537.39) scale(1.03,1)" font-size="7.2" text-anchor="end" fill="#1c1c1c" >35</text>
<line x1="386.2" y1="544.5" x2="389.2" y2="544.5" stroke="#1a1a1a" stroke-width="1.0" />
<text transform="translate(384.6,546.68) scale(1.03,1)" font-size="7.2" text-anchor="end" fill="#1c1c1c" >30</text>
<line x1="386.2" y1="553.5" x2="389.2" y2="553.5" stroke="#1a1a1a" stroke-width="1.0" />
<text transform="translate(384.6,555.96) scale(1.03,1)" font-size="7.2" text-anchor="end" fill="#1c1c1c" >25</text>
<line x1="386.2" y1="562.5" x2="389.2" y2="562.5" stroke="#1a1a1a" stroke-width="1.0" />
<text transform="translate(384.6,565.25) scale(1.03,1)" font-size="7.2" text-anchor="end" fill="#1c1c1c" >20</text>
<line x1="386.2" y1="571.5" x2="389.2" y2="571.5" stroke="#1a1a1a" stroke-width="1.0" />
<text transform="translate(384.6,574.54) scale(1.03,1)" font-size="7.2" text-anchor="end" fill="#1c1c1c" >15</text>
<line x1="386.2" y1="581.5" x2="389.2" y2="581.5" stroke="#1a1a1a" stroke-width="1.0" />
<text transform="translate(384.6,583.82) scale(1.03,1)" font-size="7.2" text-anchor="end" fill="#1c1c1c" >10</text>
<line x1="386.2" y1="590.5" x2="389.2" y2="590.5" stroke="#1a1a1a" stroke-width="1.0" />
<text transform="translate(384.6,593.11) scale(1.03,1)" font-size="7.2" text-anchor="end" fill="#1c1c1c" >5</text>
<line x1="386.2" y1="599.5" x2="389.2" y2="599.5" stroke="#1a1a1a" stroke-width="1.0" />
<text transform="translate(384.6,602.39) scale(1.03,1)" font-size="7.2" text-anchor="end" fill="#1c1c1c" >0</text>
<line x1="388.75" y1="599.5" x2="466.2" y2="599.5" stroke="#1a1a1a" stroke-width="1.0" />
<text transform="translate(367.78,567.5) rotate(-90) scale(0.945,1)" font-size="8" text-anchor="middle" fill="#1c1c1c" >Fiber length (μm)</text>
<line x1="405.5" y1="551.2" x2="405.5" y2="571.8" stroke="#222" stroke-width="1.0" />
<line x1="405.5" y1="585.6" x2="405.5" y2="599.8" stroke="#222" stroke-width="1.0" />
<line x1="401.7" y1="551.5" x2="408.5" y2="551.5" stroke="#222" stroke-width="1.0" />
<line x1="401.7" y1="599.5" x2="408.5" y2="599.5" stroke="#222" stroke-width="1.0" />
<rect x="394.8" y="571.8" width="20.6" height="13.8" fill="#d9123c" stroke="#222" stroke-width="0.7" />
<line x1="394.8" y1="579.5" x2="415.4" y2="579.5" stroke="#1a1a1a" stroke-width="1.1" />
<text transform="translate(405.1,580.1)" font-size="6" text-anchor="middle" font-weight="bold" fill="#111" >×</text>
<circle cx="405.1" cy="543.5" r="0.55" fill="#d9123c"/>
<circle cx="405.1" cy="546.5" r="0.55" fill="#d9123c"/>
<circle cx="405.1" cy="549.6" r="0.55" fill="#d9123c"/>
<line x1="428.5" y1="561.3" x2="428.5" y2="577.3" stroke="#222" stroke-width="1.0" />
<line x1="428.5" y1="587.2" x2="428.5" y2="594.2" stroke="#222" stroke-width="1.0" />
<line x1="425.35" y1="561.5" x2="432.15" y2="561.5" stroke="#222" stroke-width="1.0" />
<line x1="425.35" y1="594.5" x2="432.15" y2="594.5" stroke="#222" stroke-width="1.0" />
<rect x="418.5" y="577.3" width="20.5" height="9.9" fill="#1b5b97" stroke="#222" stroke-width="0.7" />
<line x1="418.5" y1="582.5" x2="439" y2="582.5" stroke="#1a1a1a" stroke-width="1.1" />
<text transform="translate(428.75,583.4)" font-size="6" text-anchor="middle" font-weight="bold" fill="#111" >×</text>
<circle cx="428.75" cy="555" r="0.55" fill="#1b5b97"/>
<circle cx="428.75" cy="557.5" r="0.55" fill="#1b5b97"/>
<circle cx="428.75" cy="559.8" r="0.55" fill="#1b5b97"/>
<line x1="452.5" y1="553.3" x2="452.5" y2="572.7" stroke="#222" stroke-width="1.0" />
<line x1="452.5" y1="586.5" x2="452.5" y2="591.2" stroke="#222" stroke-width="1.0" />
<line x1="448.6" y1="553.5" x2="455.4" y2="553.5" stroke="#222" stroke-width="1.0" />
<line x1="448.6" y1="591.5" x2="455.4" y2="591.5" stroke="#222" stroke-width="1.0" />
<rect x="441.5" y="572.7" width="21" height="13.8" fill="#3cc052" stroke="#222" stroke-width="0.7" />
<line x1="441.5" y1="581.5" x2="462.5" y2="581.5" stroke="#1a1a1a" stroke-width="1.1" />
<text transform="translate(452,580.1)" font-size="6" text-anchor="middle" font-weight="bold" fill="#111" >×</text>
<circle cx="452" cy="546.5" r="0.55" fill="#3cc052"/>
<circle cx="452" cy="549" r="0.55" fill="#3cc052"/>
<circle cx="452" cy="551.8" r="0.55" fill="#3cc052"/>
<line x1="403.6" y1="533.5" x2="428.3" y2="533.5" stroke="#333" stroke-width="1.2" />
<text transform="translate(415.95,533.79) scale(0.9,1)" font-size="6.5" text-anchor="middle" fill="#222" >****</text>
<line x1="431.7" y1="532.5" x2="456.3" y2="532.5" stroke="#333" stroke-width="1.2" />
<text transform="translate(444,533.1) scale(0.9,1)" font-size="6.5" text-anchor="middle" fill="#222" >****</text>
<text transform="translate(404.6,608.83) scale(0.99,1)" font-size="7.3" text-anchor="middle" fill="#1c1c1c" >Scr+</text>
<text transform="translate(404.6,617.93) scale(0.99,1)" font-size="7.3" text-anchor="middle" fill="#1c1c1c" >vector</text>
<text transform="translate(428.6,608.83) scale(0.99,1)" font-size="7.3" text-anchor="middle" fill="#1c1c1c" >Ysh2#+</text>
<text transform="translate(428.6,617.93) scale(0.99,1)" font-size="7.3" text-anchor="middle" fill="#1c1c1c" >vector</text>
<text transform="translate(452.5,608.83) scale(0.99,1)" font-size="7.3" text-anchor="middle" fill="#1c1c1c" >Ysh2#+</text>
<text transform="translate(452.5,617.93) scale(0.99,1)" font-size="7.3" text-anchor="middle" fill="#1c1c1c" >MCM4</text>
</svg>
</body></html>
